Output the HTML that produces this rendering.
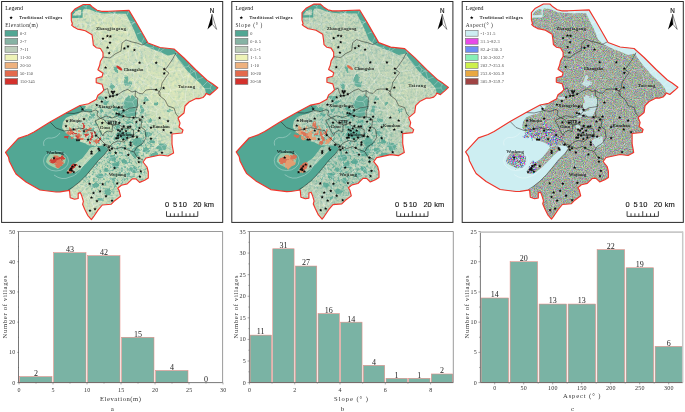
<!DOCTYPE html>
<html lang="en">
<head>
<meta charset="utf-8">
<title>Traditional villages: elevation, slope and aspect</title>
<style>
html,body{margin:0;padding:0;background:#fff;}
body{width:685px;height:412px;overflow:hidden;font-family:"Liberation Serif",serif;}
svg{display:block;}
</style>
</head>
<body>
<svg width="685" height="412" viewBox="0 0 685 412">
<rect width="685" height="412" fill="#fff"/>
<g id="map0">
<rect x="1.6" y="1.5" width="221.1" height="220.9" fill="#fff" stroke="#2a2a2a" stroke-width="1"/>
<filter id="tex0" x="0" y="0" width="100%" height="100%" color-interpolation-filters="sRGB">
<feTurbulence type="fractalNoise" baseFrequency="0.32" numOctaves="3" seed="3" result="n"/>
<feColorMatrix in="n" type="matrix" values="0 0 0 0 0  0 0 0 0 0  0 0 0 0 0  2.0 0 0 0 -0.86" result="a1"/>
<feFlood flood-color="#e6eeb8" result="c1"/>
<feComposite in="c1" in2="a1" operator="in" result="l1"/>
<feColorMatrix in="n" type="matrix" values="0 0 0 0 0  0 0 0 0 0  0 0 0 0 0  0 2.0 0 0 -1.0" result="a2"/>
<feFlood flood-color="#8fbfae" result="c2"/>
<feComposite in="c2" in2="a2" operator="in" result="l2"/>
<feMerge result="m"><feMergeNode in="SourceGraphic"/><feMergeNode in="l1"/><feMergeNode in="l2"/></feMerge>
<feComposite in="m" in2="SourceGraphic" operator="in"/>
</filter>
<g transform="translate(0.0,0.0)">
<clipPath id="clip0"><polygon points="83.3,4.5 89.8,4.5 92.8,7.3 97.1,10.2 101.5,11.3 108.0,11.3 129.0,10.4 136.0,22.0 148.0,43.0 160.0,47.5 174.0,49.0 184.0,58.0 196.0,70.0 207.3,80.5 212.1,83.5 217.8,87.8 214.6,90.8 209.7,95.0 206.0,93.4 205.3,95.2 203.0,97.5 199.0,98.6 196.0,98.4 189.0,102.0 185.0,106.0 184.0,113.0 178.0,118.0 180.0,123.0 179.0,127.0 183.0,130.0 182.0,133.0 172.0,134.0 172.0,144.0 173.6,153.0 168.0,156.0 160.0,155.0 146.0,158.0 143.0,162.0 147.0,167.0 148.3,172.0 148.3,178.0 144.7,180.2 139.6,182.4 135.9,178.8 132.3,178.8 127.2,183.9 121.3,185.3 117.7,188.2 119.1,190.4 120.6,196.3 114.7,200.7 111.1,204.3 102.3,205.0 98.0,210.1 93.6,216.7 91.4,219.6 87.7,215.3 84.8,209.4 82.6,204.3 83.4,201.4 81.9,196.3 80.4,192.6 78.2,193.4 78.2,198.5 74.6,199.2 70.2,197.7 69.5,190.4 60.0,191.9 56.0,192.0 40.0,190.0 26.0,182.0 16.0,174.0 13.6,169.8 11.5,165.6 9.3,161.3 8.5,157.1 5.5,152.4 18.3,138.4 28.0,135.0 34.0,132.0 50.0,122.0 66.0,113.0 80.0,105.5 88.5,103.8 96.2,99.6 97.9,95.3 101.3,92.8 103.8,90.2 102.1,84.3 96.2,82.6 96.2,78.3 102.1,76.6 103.0,73.2 100.4,71.5 97.9,69.8 99.6,65.5 100.4,61.3 103.0,57.0 103.0,52.8 100.4,48.5 96.2,47.7 93.3,45.0 92.8,40.0 92.0,34.7 85.3,30.7 80.5,29.6 77.5,29.1 73.8,27.0 71.6,25.1 72.4,24.0 71.3,20.4 71.3,13.1 75.3,8.7"/></clipPath>
<polygon points="83.3,4.5 89.8,4.5 92.8,7.3 97.1,10.2 101.5,11.3 108.0,11.3 129.0,10.4 136.0,22.0 148.0,43.0 160.0,47.5 174.0,49.0 184.0,58.0 196.0,70.0 207.3,80.5 212.1,83.5 217.8,87.8 214.6,90.8 209.7,95.0 206.0,93.4 205.3,95.2 203.0,97.5 199.0,98.6 196.0,98.4 189.0,102.0 185.0,106.0 184.0,113.0 178.0,118.0 180.0,123.0 179.0,127.0 183.0,130.0 182.0,133.0 172.0,134.0 172.0,144.0 173.6,153.0 168.0,156.0 160.0,155.0 146.0,158.0 143.0,162.0 147.0,167.0 148.3,172.0 148.3,178.0 144.7,180.2 139.6,182.4 135.9,178.8 132.3,178.8 127.2,183.9 121.3,185.3 117.7,188.2 119.1,190.4 120.6,196.3 114.7,200.7 111.1,204.3 102.3,205.0 98.0,210.1 93.6,216.7 91.4,219.6 87.7,215.3 84.8,209.4 82.6,204.3 83.4,201.4 81.9,196.3 80.4,192.6 78.2,193.4 78.2,198.5 74.6,199.2 70.2,197.7 69.5,190.4 60.0,191.9 56.0,192.0 40.0,190.0 26.0,182.0 16.0,174.0 13.6,169.8 11.5,165.6 9.3,161.3 8.5,157.1 5.5,152.4 18.3,138.4 28.0,135.0 34.0,132.0 50.0,122.0 66.0,113.0 80.0,105.5 88.5,103.8 96.2,99.6 97.9,95.3 101.3,92.8 103.8,90.2 102.1,84.3 96.2,82.6 96.2,78.3 102.1,76.6 103.0,73.2 100.4,71.5 97.9,69.8 99.6,65.5 100.4,61.3 103.0,57.0 103.0,52.8 100.4,48.5 96.2,47.7 93.3,45.0 92.8,40.0 92.0,34.7 85.3,30.7 80.5,29.6 77.5,29.1 73.8,27.0 71.6,25.1 72.4,24.0 71.3,20.4 71.3,13.1 75.3,8.7" fill="#cbdcbf" filter="url(#tex0)"/>
<g clip-path="url(#clip0)">
<radialGradient id="rg0" gradientUnits="userSpaceOnUse" cx="116" cy="128" r="46"><stop offset="0" stop-color="#8fbfae" stop-opacity="0.3"/><stop offset="0.55" stop-color="#8fbfae" stop-opacity="0.18"/><stop offset="1" stop-color="#8fbfae" stop-opacity="0"/></radialGradient>
<rect x="0" y="0" width="225" height="222" fill="url(#rg0)"/>
<radialGradient id="rh0" gradientUnits="userSpaceOnUse" cx="112" cy="180" r="40"><stop offset="0" stop-color="#8fbfae" stop-opacity="0.2"/><stop offset="1" stop-color="#8fbfae" stop-opacity="0"/></radialGradient>
<rect x="0" y="0" width="225" height="222" fill="url(#rh0)"/>
<radialGradient id="ry0" gradientUnits="userSpaceOnUse" cx="172" cy="92" r="45"><stop offset="0" stop-color="#eef3b7" stop-opacity="0.3"/><stop offset="1" stop-color="#eef3b7" stop-opacity="0"/></radialGradient>
<rect x="0" y="0" width="225" height="222" fill="url(#ry0)"/>
<radialGradient id="rz0" gradientUnits="userSpaceOnUse" cx="112" cy="35" r="30"><stop offset="0" stop-color="#eef3b7" stop-opacity="0.24"/><stop offset="1" stop-color="#eef3b7" stop-opacity="0"/></radialGradient>
<rect x="0" y="0" width="225" height="222" fill="url(#rz0)"/>
<filter id="speck0" x="0" y="0" width="100%" height="100%" color-interpolation-filters="sRGB"><feTurbulence type="fractalNoise" baseFrequency="0.42" numOctaves="2" seed="21" result="n"/><feColorMatrix in="n" type="matrix" values="0 0 0 0 0  0 0 0 0 0  0 0 0 0 0  5 0 0 0 -2.45" result="a"/><feFlood flood-color="#52a794" result="c"/><feComposite in="c" in2="a" operator="in" result="l"/><feComposite in="l" in2="SourceGraphic" operator="in"/></filter>
<radialGradient id="rs0" gradientUnits="userSpaceOnUse" cx="114" cy="150" r="58"><stop offset="0" stop-color="#000" stop-opacity="0.85"/><stop offset="0.65" stop-color="#000" stop-opacity="0.65"/><stop offset="1" stop-color="#000" stop-opacity="0"/></radialGradient>
<rect x="50" y="85" width="130" height="137" fill="url(#rs0)" filter="url(#speck0)"/>
<polygon points="71.3,13.1 75.3,8.7 83.3,4.5 89.8,4.5 92.8,7.3 97.1,10.2 101.5,11.3 108.0,11.3 129.0,10.4 136.0,22.0 148.0,43.0 160.0,47.5 174.0,49.0 184.0,58.0 196.0,70.0 207.3,80.5 212.1,83.5 217.8,87.8 214.6,90.8 209.7,95.0 206.0,93.4 205.0,89.0 200.0,83.0 192.0,76.0 184.0,67.0 178.0,59.0 175.0,54.0 168.0,55.5 160.0,52.0 152.0,49.0 143.0,44.5 138.0,40.0 134.0,30.0 130.0,22.0 126.0,13.8 110.0,13.6 104.4,13.5 97.1,12.4 93.5,10.9 89.8,9.5 84.0,8.7 82.6,11.0 82.6,17.8 76.0,18.0 71.3,18.2" fill="#52a794"/>
<polygon points="80.0,105.5 66.0,113.0 50.0,122.0 34.0,132.0 28.0,135.0 18.3,138.4 5.5,152.4 8.5,157.1 9.3,161.3 11.5,165.6 13.6,169.8 16.0,174.0 26.0,182.0 40.0,190.0 56.0,192.0 60.0,191.9 69.5,190.4 73.1,187.0 79.7,181.8 86.3,175.2 92.9,167.3 98.1,160.8 104.7,154.2 108.0,149.0 104.0,146.0 97.0,146.0 90.0,146.0 84.0,143.0 78.0,141.0 72.0,137.0 66.0,133.0 62.0,128.0 63.0,122.0 66.0,118.0 70.0,116.0 78.0,114.0 84.0,110.0 86.0,106.0" fill="#52a794"/>
<filter id="rough0" x="-5%" y="-5%" width="110%" height="110%"><feTurbulence type="fractalNoise" baseFrequency="0.18" numOctaves="2" seed="11" result="t"/><feDisplacementMap in="SourceGraphic" in2="t" scale="5" xChannelSelector="R" yChannelSelector="G"/></filter>
<g filter="url(#rough0)" opacity="0.8">
<ellipse cx="127.0" cy="103" rx="3.5" ry="7" transform="rotate(10 127.0 103)" fill="#52a794"/>
<ellipse cx="132.5" cy="106" rx="3.5" ry="10" transform="rotate(0 132.5 106)" fill="#52a794"/>
<ellipse cx="136.0" cy="104" rx="1.5" ry="6" transform="rotate(0 136.0 104)" fill="#52a794"/>
<ellipse cx="129.0" cy="114" rx="5" ry="3" transform="rotate(0 129.0 114)" fill="#52a794"/>
<ellipse cx="120.5" cy="114" rx="4.5" ry="3.5" transform="rotate(-30 120.5 114)" fill="#52a794"/>
<ellipse cx="117.0" cy="109" rx="2.5" ry="2" transform="rotate(0 117.0 109)" fill="#52a794"/>
<ellipse cx="101.5" cy="98" rx="3.8" ry="1.8" transform="rotate(0 101.5 98)" fill="#52a794"/>
<ellipse cx="106.0" cy="103" rx="2.5" ry="2" transform="rotate(0 106.0 103)" fill="#52a794"/>
<ellipse cx="128.0" cy="84.5" rx="4" ry="2.2" transform="rotate(0 128.0 84.5)" fill="#52a794"/>
<ellipse cx="142.0" cy="110" rx="2" ry="4" transform="rotate(0 142.0 110)" fill="#52a794"/>
<ellipse cx="102.0" cy="111.5" rx="2" ry="1.5" transform="rotate(0 102.0 111.5)" fill="#52a794"/>
<ellipse cx="125.5" cy="80.5" rx="2.5" ry="5" transform="rotate(10 125.5 80.5)" fill="#52a794"/>
<ellipse cx="116.0" cy="69.5" rx="1.6" ry="3" transform="rotate(-30 116.0 69.5)" fill="#52a794"/>
<ellipse cx="118.0" cy="127.5" rx="2.2" ry="2.2" transform="rotate(0 118.0 127.5)" fill="#52a794"/>
<ellipse cx="123.0" cy="135" rx="8" ry="4" transform="rotate(0 123.0 135)" fill="#52a794"/>
<ellipse cx="130.0" cy="122.5" rx="3" ry="1.5" transform="rotate(0 130.0 122.5)" fill="#52a794"/>
<ellipse cx="138.0" cy="142.5" rx="5.5" ry="4.8" transform="rotate(0 138.0 142.5)" fill="#52a794"/>
<ellipse cx="135.0" cy="152" rx="4" ry="5" transform="rotate(0 135.0 152)" fill="#52a794"/>
<ellipse cx="146.0" cy="150" rx="3" ry="2.5" transform="rotate(0 146.0 150)" fill="#52a794"/>
<ellipse cx="162.0" cy="147" rx="5" ry="3.5" transform="rotate(0 162.0 147)" fill="#52a794"/>
<ellipse cx="155.0" cy="155" rx="4" ry="2.5" transform="rotate(0 155.0 155)" fill="#52a794"/>
<ellipse cx="152.0" cy="142" rx="3" ry="2" transform="rotate(0 152.0 142)" fill="#52a794"/>
<ellipse cx="104.0" cy="149" rx="3.5" ry="2" transform="rotate(0 104.0 149)" fill="#52a794"/>
<ellipse cx="112.0" cy="158" rx="3.5" ry="3" transform="rotate(0 112.0 158)" fill="#52a794"/>
<ellipse cx="116.0" cy="165" rx="4" ry="2.5" transform="rotate(-30 116.0 165)" fill="#52a794"/>
<ellipse cx="124.0" cy="162" rx="3" ry="2.5" transform="rotate(0 124.0 162)" fill="#52a794"/>
<ellipse cx="133.0" cy="170" rx="3.5" ry="2.5" transform="rotate(0 133.0 170)" fill="#52a794"/>
<ellipse cx="127.0" cy="175" rx="3" ry="2" transform="rotate(0 127.0 175)" fill="#52a794"/>
<ellipse cx="100.0" cy="176" rx="3.5" ry="2.5" transform="rotate(0 100.0 176)" fill="#52a794"/>
<ellipse cx="108.0" cy="192" rx="3.5" ry="2.5" transform="rotate(0 108.0 192)" fill="#52a794"/>
<ellipse cx="152.0" cy="166" rx="3" ry="2" transform="rotate(0 152.0 166)" fill="#52a794"/>
<ellipse cx="95.0" cy="186" rx="3" ry="2" transform="rotate(0 95.0 186)" fill="#52a794"/>
<ellipse cx="114.0" cy="181" rx="2.5" ry="2" transform="rotate(0 114.0 181)" fill="#52a794"/>
<ellipse cx="101.0" cy="199" rx="2.5" ry="2" transform="rotate(0 101.0 199)" fill="#52a794"/>
<ellipse cx="156.0" cy="104" rx="2.5" ry="1.5" transform="rotate(0 156.0 104)" fill="#52a794"/>
<ellipse cx="170.0" cy="110" rx="2" ry="1.5" transform="rotate(0 170.0 110)" fill="#52a794"/>
<ellipse cx="148.0" cy="134" rx="3" ry="2" transform="rotate(0 148.0 134)" fill="#52a794"/>
<ellipse cx="150.0" cy="121" rx="2.5" ry="2" transform="rotate(0 150.0 121)" fill="#52a794"/>
<ellipse cx="112.0" cy="86" rx="2" ry="3" transform="rotate(0 112.0 86)" fill="#52a794"/>
<ellipse cx="88.0" cy="110" rx="4" ry="2.5" transform="rotate(0 88.0 110)" fill="#52a794"/>
<ellipse cx="92.0" cy="116" rx="3" ry="2" transform="rotate(0 92.0 116)" fill="#52a794"/>
<ellipse cx="146.0" cy="100" rx="2.5" ry="2" transform="rotate(0 146.0 100)" fill="#52a794"/>
<ellipse cx="107.0" cy="170" rx="3" ry="2" transform="rotate(0 107.0 170)" fill="#52a794"/>
</g>
<polygon points="72.6,14.8 75.5,11.6 79.5,9.6 81.4,10.0 81.4,15.6 72.6,15.8" fill="#cbdcbf" filter="url(#tex0)"/>
<polygon points="100.5,118.8 96.0,121.0 98.5,126.0 100.5,131.0 103.0,135.0 104.5,132.5 108.0,130.5 111.5,131.5 112.0,126.0 110.5,123.5 107.0,124.0 104.0,120.0" fill="#eef3b7" opacity="0.4"/>
<path d="M215.0,90.4L212.8,91.6M212.8,91.6L213.0,92.2M106.7,152.0L110.3,157.6M110.3,157.6L104.7,159.5L99.1,160.5M93.8,101.1L93.8,100.9M93.8,101.1L96.1,102.9L97.1,104.5M97.1,104.5L103.7,94.5L111.3,84.0M111.3,84.0L103.1,87.8M138.2,108.1L138.4,106.6L139.6,105.8M138.2,108.1L143.6,108.6L147.7,109.0M147.7,109.0L146.2,105.8L143.9,103.8M139.6,105.8L141.7,104.6L143.9,103.8M70.3,197.7L73.7,195.1M77.0,198.7L76.1,196.3M73.7,195.1L75.4,195.5L76.1,196.3M93.8,206.3L93.2,206.8L93.5,206.5M93.8,206.3L96.8,204.7L100.0,203.2M93.5,206.5L91.6,210.1L88.8,212.1M100.0,203.2L101.9,205.5M88.8,212.1L87.3,214.4M100.0,203.2L102.0,200.2L102.9,196.0M102.9,196.0L110.9,196.3L118.5,197.3M118.7,197.7L118.5,197.3M93.1,205.3L93.8,206.4L93.5,206.5M93.1,205.3L92.1,200.0L92.5,194.8M93.8,206.3L94.4,200.3L94.7,194.2M92.5,194.8L92.8,194.9L94.7,194.2M86.3,106.6L87.4,105.8L92.4,101.7M82.5,111.6L83.9,112.7M93.8,101.1L93.4,101.1M97.1,104.5L97.8,105.1L97.7,105.2M99.4,112.7L98.6,108.8L97.7,105.2M99.4,112.7L96.6,115.1L93.1,117.4M83.9,112.7L88.6,114.4L93.1,117.4M73.7,195.1L71.9,191.4L71.0,189.6M84.1,178.1L89.1,174.6M87.7,174.3L88.2,174.2M88.2,174.2L88.5,174.3L89.1,174.6M148.3,176.8L146.9,176.6L143.9,174.8M145.8,156.4L144.2,159.6L144.0,160.7M145.8,156.4L147.6,157.7M143.9,174.8L143.1,172.5L142.9,169.4M143.6,162.8L143.1,166.0L142.9,169.4M106.2,147.0L109.4,147.0L114.7,145.8M114.7,145.8L116.1,150.4L118.3,154.1M110.3,157.6L110.2,157.7L110.7,157.9M118.3,154.1L115.1,156.3L110.7,157.9M138.3,112.4L137.4,117.6L135.5,122.4M138.3,112.4L140.4,113.5L142.2,113.1M135.5,122.4L142.4,123.5L150.2,123.5M142.2,113.1L146.4,118.9L150.2,123.5M120.4,124.3L116.7,131.4L111.4,139.2M120.4,124.3L121.1,123.8L120.4,124.3M120.4,124.3L121.4,129.3L122.7,132.9M122.7,132.9L120.2,137.1L118.8,142.0M111.4,139.2L114.5,141.0L116.3,143.1M118.8,142.0L117.6,142.2L116.3,143.1M100.5,142.4L102.7,136.2L104.8,130.0M100.5,142.4L106.7,140.7L111.4,139.2M104.8,130.0L109.2,125.0L112.1,120.3M116.8,120.5L113.8,120.6L112.1,120.3M116.8,120.5L118.7,122.9L120.4,124.3M114.7,145.8L115.6,145.0L116.3,143.1M118.3,154.1L123.6,154.6L128.7,153.9M128.7,153.9L123.7,148.0L118.8,142.0M101.7,145.5L101.3,145.2L100.4,143.8M100.5,142.4L100.4,142.0L100.4,142.6M100.4,143.8L100.7,143.8L100.4,142.6M172.0,137.8L170.0,139.9L164.0,144.8M164.0,144.8L170.4,148.1L172.9,149.3M169.9,110.9L169.8,117.0L169.5,123.3M169.9,110.9L165.9,108.8L163.3,105.3M169.5,123.3L163.2,120.4L156.5,116.4M156.7,111.4L156.6,113.3L156.5,116.4M156.7,111.4L156.8,110.8L157.6,109.7M163.3,105.3L161.1,107.7L157.6,109.7M147.7,109.0L149.0,110.1L149.0,110.0M143.9,103.8L145.4,99.9L147.5,97.2M149.0,110.0L153.1,111.1L156.7,111.4M157.6,109.7L152.6,103.9L147.5,97.2M212.8,91.6L210.8,89.5L210.5,88.4M203.4,97.1L202.9,95.0L200.1,88.9M200.1,88.9L205.0,88.6L210.5,88.4M212.7,83.9L211.5,85.3M207.0,80.2L207.7,81.7L211.5,85.3M210.5,88.4L210.3,87.1L211.5,85.3M116.0,11.0L115.6,11.8L114.8,13.6M114.8,13.6L123.8,18.8L133.7,22.5M133.7,22.5L135.6,21.3M137.8,63.6L142.8,64.7L147.1,65.8M137.8,63.6L135.9,55.5L134.0,46.3M134.0,46.3L136.3,46.2L137.5,46.7M137.5,46.7L142.5,56.1L147.6,65.0M147.6,65.0L147.4,65.8L147.1,65.8M133.0,64.1L131.5,68.4L131.5,71.9M133.0,64.1L135.0,63.2L137.8,63.6M146.9,67.2L146.8,66.7L147.1,65.8M146.9,67.2L142.3,69.2L137.6,72.8M131.5,71.9L132.3,71.9L133.5,73.0M137.6,72.8L135.8,72.5L133.5,73.0M131.5,45.7L129.6,48.9L128.6,51.7M131.5,45.7L132.6,46.4L134.0,46.3M133.0,64.1L130.6,62.2L128.5,60.5M128.5,60.5L128.3,56.1L128.6,51.7M137.6,72.8L138.8,74.4L138.4,76.4M133.5,73.0L133.2,77.2L134.3,82.5M134.3,82.5L136.2,80.0L138.4,76.4M149.0,73.7L147.8,71.0L146.9,67.2M149.0,73.7L146.3,77.8L144.3,81.2M144.3,81.2L140.8,79.3L138.4,76.4M127.3,32.1L121.0,30.4L114.4,28.6M127.3,32.1L130.0,27.8L133.7,22.5M114.5,13.7L114.8,14.0L114.8,13.6M114.5,13.7L114.9,14.3L113.8,14.4M113.8,14.4L114.2,14.1L113.7,14.7M114.4,28.6L113.6,21.0L113.7,14.7M131.5,71.9L128.4,72.1L125.1,73.5M128.5,60.5L124.7,63.3L121.7,65.8M121.7,65.8L123.8,70.4L125.1,73.5M133.9,85.0L134.7,84.2L134.3,82.5M133.9,85.0L127.7,84.2L121.0,82.9M125.1,73.5L123.2,77.4L121.0,82.9M97.7,105.2L104.2,101.8L109.9,98.9M111.3,84.0L112.3,84.4L112.3,83.3M109.9,98.9L112.7,92.8L116.0,85.3M112.3,83.3L114.6,84.0L116.0,85.3M120.2,91.7L117.1,97.9L114.6,103.0M120.2,91.7L117.7,89.0L116.4,85.4M114.6,103.0L111.8,100.6L109.9,98.9M116.4,85.4L116.5,86.0L116.0,85.3M128.6,51.7L121.3,55.1L112.9,57.8M121.7,65.8L117.8,64.6L114.5,63.6M112.9,57.8L113.9,60.3L114.5,63.6M131.5,45.7L129.8,43.1L127.9,40.7M127.9,40.7L123.5,41.4L118.3,43.6M118.3,43.6L114.3,49.1L111.2,56.0M112.9,57.8L111.5,57.2L111.2,56.0M112.3,83.3L109.1,79.2L106.7,75.3M121.0,82.9L119.5,83.9L116.4,85.4M114.5,63.6L110.3,69.7L106.7,75.3M96.2,78.4L99.3,77.8L106.4,75.2M106.4,75.2L106.7,75.8L106.7,75.3M119.0,195.8L119.0,196.2L118.5,197.3M119.0,195.8L120.4,195.4M80.7,193.3L82.0,191.7L84.6,190.2M81.7,195.8L82.3,196.2L84.7,199.4M84.6,190.2L87.2,193.2L88.6,195.0M84.7,199.4L86.8,197.2L87.8,196.6M87.8,196.6L87.7,195.9L88.3,196.0M88.3,196.0L88.3,196.2L88.6,195.0M76.1,196.3L78.2,195.4M84.6,186.8L85.4,187.8L84.6,190.2M84.6,186.8L80.2,185.0L77.5,184.2M83.4,201.3L84.7,199.4M88.8,212.1L88.8,205.1L87.8,196.6M93.1,205.3L91.1,201.4L88.3,196.0M92.5,194.8L90.1,195.1L88.6,195.0M101.3,194.2L101.6,184.6L102.1,176.4M101.3,194.2L98.9,193.5L95.6,193.8M95.6,193.8L93.4,187.5L89.9,182.0M102.1,176.4L99.3,176.4L97.4,174.9M97.4,174.9L95.0,176.2L93.3,176.3M89.9,182.0L92.0,179.8L93.3,176.3M102.9,196.0L101.4,195.0L101.3,194.2M94.7,194.2L95.0,194.3L95.6,193.8M84.6,186.8L87.9,184.6L89.9,182.0M105.7,175.9L109.2,172.1L111.7,167.0M105.7,175.9L103.9,176.0L102.1,176.4M95.5,164.8L95.9,169.3L97.4,174.9M111.7,167.0L111.9,162.5L110.7,157.9M89.1,174.6L90.9,174.9L93.3,176.3M105.7,175.9L111.0,179.0L114.8,182.1M119.0,195.8L118.9,190.5L118.7,189.7M118.2,187.8L117.7,185.8M117.7,185.8L115.8,183.8L114.8,182.1M117.7,185.8L118.3,185.9L118.4,185.5M118.4,185.5L123.6,184.3L129.0,182.1M143.9,174.8L141.6,176.1L138.2,177.1M138.2,177.1L137.8,180.4L137.7,180.5M111.7,167.0L118.4,166.5L123.6,167.4M127.6,162.8L126.9,163.5L126.2,164.6M127.6,162.8L129.4,158.0L130.0,154.2M130.0,154.2L129.0,153.5L128.7,153.9M123.6,167.4L124.3,165.6L126.2,164.6M114.8,182.1L118.6,176.0L124.0,170.8M123.6,167.4L123.2,168.8L124.0,170.8M118.4,185.5L122.5,180.8L126.9,174.9M124.0,170.8L125.9,173.4L126.9,174.9M130.0,181.1L129.2,178.6L128.6,175.9M126.9,174.9L127.1,176.0L128.6,175.9M104.8,130.0L100.8,129.0L95.4,128.8M100.4,142.6L96.0,138.7L92.6,136.3M92.6,136.3L93.5,133.3L95.4,128.8M112.1,120.3L106.3,116.0L99.4,112.7M93.1,117.4L91.8,118.4L90.9,120.3M95.4,128.8L92.6,124.6L90.9,120.3M76.9,123.5L82.1,123.1L88.8,121.7M76.9,123.5L80.0,118.7L83.9,112.7M90.9,120.3L89.4,121.4L88.8,121.7M161.1,146.1L162.1,145.7L164.0,144.8M161.1,146.1L163.8,151.6L166.1,155.8M145.8,156.4L144.5,153.8L144.2,152.7M144.2,152.7L151.7,148.5L158.1,145.5M158.1,145.5L159.5,145.5L161.1,146.1M147.4,96.5L150.8,94.9L154.3,92.1M147.4,96.5L142.5,93.6L138.9,91.6M143.5,83.3L140.2,85.2L138.3,88.3M143.5,83.3L147.6,85.2L152.2,86.5M152.2,86.5L152.5,90.1L154.3,92.1M138.3,88.3L138.4,89.4L138.7,91.3M138.7,91.3L138.6,90.8L138.9,91.6M168.8,93.7L168.3,93.7L168.8,93.6M168.8,93.7L165.4,99.5L163.3,105.3M168.8,93.6L161.5,93.2L154.3,92.1M147.5,97.2L148.1,97.5L147.4,96.5M137.0,98.0L138.3,94.6L138.9,91.6M137.0,98.0L138.4,101.7L139.6,105.8M133.9,85.0L135.4,86.9L138.3,88.3M144.3,81.2L143.8,81.5L143.5,83.3M149.0,73.7L152.1,76.0L156.5,78.0M156.5,78.0L155.0,82.9L152.2,86.5M170.5,90.3L170.3,92.2L168.8,93.6M170.5,90.3L169.1,84.4L166.7,78.6M156.5,78.0L162.1,79.1L166.7,78.6M124.3,97.5L131.5,93.8L138.7,91.3M124.3,97.5L122.5,95.2L120.2,91.7M124.3,97.5L124.6,99.3L124.5,100.5M137.0,98.0L134.9,99.2L132.4,101.9M132.4,101.9L127.8,101.8L124.5,100.5M134.3,106.6L128.4,108.8L120.9,109.9M134.3,106.6L136.3,107.4L137.8,108.6M137.9,111.4L128.5,113.1L120.0,113.3M137.9,111.4L138.3,109.7L137.8,108.6M120.0,113.3L121.0,111.8L120.7,110.2M120.7,110.2L120.9,109.9L120.9,109.9M132.4,101.9L133.8,104.2L134.3,106.6M124.5,100.5L122.9,105.4L120.9,109.9M138.2,108.1L138.1,107.6L137.8,108.6M138.3,112.4L138.0,111.3L137.9,111.4M135.5,122.4L134.7,123.4L132.5,124.3M132.5,124.3L126.2,124.6L120.4,124.3M116.8,120.5L119.1,117.1L120.0,113.3M142.2,113.1L145.2,111.5L149.0,110.0M114.6,103.0L117.2,105.9L120.7,110.2M151.3,62.6L148.9,63.4L147.6,65.0M151.3,62.6L156.6,63.5L161.7,65.5M166.7,78.6L167.3,75.0L168.8,72.5M168.8,72.5L167.4,71.3L167.5,68.7M161.7,65.5L163.9,67.5L167.5,68.7M127.9,40.7L128.1,37.0L127.3,32.1M137.5,46.7L139.0,45.4L140.2,45.8M140.2,45.8L144.6,37.1M95.8,9.3L95.8,9.3L96.8,11.8M100.7,11.1L99.9,11.4L98.8,12.6M96.8,11.8L97.2,13.0L98.8,12.6M85.8,12.3L86.2,9.3L86.1,7.0M85.8,12.3L87.7,13.3L89.9,15.1M87.6,4.5L87.3,4.8L86.1,7.0M89.9,15.1L93.7,13.9L96.8,11.8M113.8,14.4L108.3,11.9L106.3,11.3M113.7,14.7L108.5,16.5L102.4,19.8M102.4,19.8L100.0,16.5L98.8,12.6M114.5,13.7L112.3,11.1M114.4,28.6L111.3,29.7L109.1,30.4M102.0,21.7L102.5,21.5L102.4,19.8M102.0,21.7L103.9,25.1L106.2,28.8M109.1,30.4L106.9,30.0L106.2,28.8M89.9,15.1L90.6,20.3L89.8,25.0M102.0,21.7L95.4,23.0L90.2,25.5M89.8,25.0L90.6,25.8L90.2,25.5M106.4,75.2L104.5,72.8L102.6,69.9M98.6,68.0L99.4,68.7L102.6,69.9M76.9,123.5L77.4,122.8L76.7,123.6M78.0,114.5L77.8,116.9L76.1,121.9M76.7,123.6L75.8,122.7L76.1,121.9M76.1,121.9L73.3,118.8L70.2,116.5M88.2,174.2L88.0,173.9M67.2,133.2L66.9,132.5M66.3,132.6L66.9,132.5M136.5,175.1L133.7,175.1L131.2,174.6M136.5,175.1L136.8,172.8L136.2,171.3M136.2,171.3L135.6,171.3L135.4,169.6M131.4,172.7L130.6,173.9L131.2,174.6M131.4,172.7L132.4,170.8L133.7,168.7M135.4,169.6L133.9,169.8L133.7,168.7M138.2,177.1L137.9,176.2L136.5,175.1M128.6,175.9L130.0,175.2L131.2,174.6M142.9,169.4L140.3,169.8L136.2,171.3M143.3,162.3L138.9,166.3L135.4,169.6M126.2,164.6L129.4,169.2L131.4,172.7M127.6,162.8L130.8,166.5L133.7,168.7M142.7,143.1L140.8,138.5L139.0,133.6M142.7,143.1L143.1,146.7L142.3,151.7M142.3,151.7L139.1,151.3L134.5,151.9M137.6,132.6L133.7,135.7L129.2,139.9M137.6,132.6L137.8,133.4L139.0,133.6M134.5,151.9L131.5,146.1L129.2,139.9M130.0,154.2L132.7,153.8L134.5,151.9M144.2,152.7L142.8,151.6L142.3,151.7M132.5,124.3L134.3,128.7L137.6,132.6M122.7,132.9L126.6,136.6L129.2,139.9M148.7,134.5L148.1,131.6L148.4,128.1M148.7,134.5L153.4,136.2L157.2,138.3M159.1,132.2L157.4,134.9L157.2,138.3M159.1,132.2L155.7,128.1L151.3,123.2M148.4,128.1L149.3,125.8L150.3,123.6M151.3,123.2L151.0,123.4L150.3,123.6M142.7,143.1L145.7,138.5L148.7,134.5M139.0,133.6L144.2,130.1L148.4,128.1M158.1,145.5L157.4,141.9L157.2,138.3M174.9,133.7L174.0,132.3L172.6,129.2M172.6,129.2L166.2,130.2L159.1,132.2M172.6,129.2L171.9,127.0L172.5,126.4M172.5,126.4L171.6,124.7L169.5,123.3M156.5,116.4L153.9,120.2L151.3,123.2M150.2,123.5L150.6,123.7L150.3,123.6M88.6,130.0L89.7,132.4L90.8,135.8M88.6,130.0L83.2,130.7L79.3,132.3M90.8,135.8L88.2,136.6L84.0,138.1M79.3,132.3L81.9,134.8L84.0,138.1M92.6,136.3L91.9,135.5L90.8,135.8M88.8,121.7L89.0,125.2L88.6,130.0M74.2,128.3L75.2,125.9L76.7,123.6M74.2,128.3L76.9,130.1L79.3,132.3M85.5,143.2L83.7,139.1M97.7,145.5L100.4,143.8M83.7,139.1L83.6,138.4L84.0,138.1M83.7,139.1L80.9,141.4M66.9,132.5L71.1,130.8L74.2,128.3M169.9,110.9L174.5,111.4L179.5,112.4M172.5,126.4L172.9,125.8L173.8,124.9M173.8,124.9L176.0,119.7L179.5,115.1M179.5,112.4L180.2,113.6L179.5,115.1M200.1,88.9L198.0,87.9L194.9,87.5M203.6,77.1L200.8,78.1L197.1,79.4M194.9,87.5L195.2,83.4L197.1,79.4M194.4,99.2L193.4,95.0L193.0,88.4M194.9,87.5L194.6,88.0L193.0,88.4M197.3,71.2L195.1,72.2M197.1,79.4L196.0,75.4L195.1,72.2M170.5,90.3L178.4,88.7L185.2,87.8M168.8,93.7L171.9,98.1L175.8,101.0M185.5,100.6L180.2,100.2L175.8,101.0M185.5,100.6L185.5,93.8L186.8,88.1M185.2,87.8L186.5,88.3L186.7,88.1M186.8,88.1L187.0,88.0L186.7,88.1M184.5,67.0L186.9,66.9L188.3,66.2M184.5,67.0L183.2,68.6L180.3,70.6M180.3,70.6L181.0,73.7L183.0,77.7M183.0,77.7L185.7,76.2L188.7,74.8M188.3,66.2L190.3,68.4L191.1,69.4M191.1,69.4L189.9,72.7L188.7,74.8M168.8,72.5L174.4,71.0L180.3,70.6M185.2,87.8L184.2,83.4L183.0,77.7M186.7,88.1L187.4,81.6L188.7,74.8M189.8,63.8L188.3,66.2M195.1,72.2L192.5,70.2L191.1,69.4M193.0,88.4L190.1,88.7L186.8,88.1M140.2,45.8L146.9,47.5L152.9,47.8M153.8,45.2L152.9,47.8M151.3,62.6L154.2,57.0L155.5,51.4M155.5,51.4L154.1,49.5L152.9,47.8M74.0,10.7L76.5,12.2L79.2,14.1M74.0,10.7L74.7,9.4M79.2,14.1L82.1,12.4L85.8,12.3M86.1,7.0L83.6,5.7L82.1,5.1M74.0,10.7L73.5,10.7M106.2,28.8L103.3,29.5L99.6,31.5M90.7,31.4L91.2,28.7L90.2,25.5M90.7,31.4L92.4,32.4L93.0,32.1M93.0,32.1L96.1,31.1L99.6,31.5M79.2,23.3L78.4,23.7L76.2,25.3M79.2,23.3L80.3,23.1L81.0,23.6M81.0,23.6L81.9,29.9M76.2,25.3L76.8,28.7M72.3,25.7L76.2,25.3M79.2,14.1L78.8,19.2L79.2,23.3M89.8,25.0L85.1,23.8L81.0,23.6M90.7,31.4L89.3,33.1M96.7,47.8L98.3,44.9L101.3,41.5M108.0,54.8L104.9,54.9L103.0,54.8M108.0,54.8L109.1,48.5L109.5,41.0M109.5,41.0L108.2,39.3L107.4,39.0M107.4,39.0L104.8,39.4L101.7,41.3M101.3,41.5L100.9,41.1L101.7,41.3M93.0,32.1L96.5,36.6L101.3,41.5M102.6,69.9L102.0,62.7L102.4,58.0M111.2,56.0L109.2,55.0L108.0,54.8M118.3,43.6L113.7,41.6L109.5,41.0M109.1,30.4L107.7,35.5L107.4,39.0M99.6,31.5L100.1,37.1L101.7,41.3M173.8,124.9L179.6,124.7M179.5,115.1L180.7,115.7M188.2,102.8L186.0,101.7M184.5,109.8L180.5,110.4M186.0,101.7L183.4,106.0L180.2,108.9M180.2,108.9L180.9,109.7L180.5,110.4M185.5,100.6L185.6,100.8L186.0,101.7M175.8,101.0L178.1,104.7L180.2,108.9M179.5,112.4L179.4,111.9L180.5,110.4M165.2,48.1L164.2,48.6L160.3,51.4M162.6,54.7L166.2,57.0L170.6,60.3M162.6,54.7L161.9,52.4L160.3,51.4M175.5,50.5L175.0,49.9M175.5,50.5L175.9,51.6L176.1,52.7M176.1,52.7L176.4,54.4L175.2,55.8M170.6,60.3L172.6,58.5L175.2,55.8M155.5,51.4L158.1,51.1L160.3,51.4M161.7,65.5L161.9,60.6L162.6,54.7M167.5,68.7L168.9,64.6L170.6,60.3M175.6,50.4L175.5,50.5M178.7,53.2L176.1,52.7M184.5,67.0L180.6,61.6L175.2,55.8" fill="none" stroke="#ffffff" stroke-width="0.45" opacity="0.6"/>
<polygon points="47.0,158.0 50.0,154.0 56.0,153.0 62.0,155.0 66.0,158.0 65.0,163.0 61.0,166.0 58.0,169.0 53.0,167.0 49.0,165.0 46.0,162.0" fill="#e6eeb8" opacity="0.55"/>
<polygon points="100.7,149.0 96.8,152.9 91.5,158.1 86.3,163.4 81.0,168.7 74.5,173.3 66.6,171.3 71.8,164.7 77.0,162.0 82.3,158.1 86.3,152.9 90.2,147.6 97.0,146.0" fill="#cbdcbf" opacity="0.85" filter="url(#tex0)"/>
<ellipse cx="56" cy="161" rx="12.5" ry="10" fill="none" stroke="#ffffff" stroke-width="0.4" opacity="0.8"/>
<path d="M54,175 q8,6 16,2 q8,-2 12,-10 q4,-8 10,-12" fill="none" stroke="#ffffff" stroke-width="0.4" opacity="0.8"/>
<path d="M60,133 q-4,6 -12,5 q-6,2 -4,8" fill="none" stroke="#ffffff" stroke-width="0.4" opacity="0.8"/>
<g filter="url(#rough0)" opacity="0.9">
<ellipse cx="55.0" cy="160" rx="5.4" ry="3.12" transform="rotate(-20 55.0 160)" fill="#d4312c"/>
<ellipse cx="60.0" cy="163" rx="3.84" ry="3.12" transform="rotate(0 60.0 163)" fill="#e36a4d"/>
<ellipse cx="52.0" cy="161" rx="2.64" ry="1.68" transform="rotate(0 52.0 161)" fill="#d4312c"/>
<ellipse cx="58.0" cy="166" rx="2.64" ry="2.16" transform="rotate(0 58.0 166)" fill="#e36a4d"/>
<ellipse cx="62.0" cy="158" rx="2.4" ry="1.68" transform="rotate(0 62.0 158)" fill="#d4312c"/>
<ellipse cx="56.0" cy="157" rx="2.4" ry="1.44" transform="rotate(0 56.0 157)" fill="#e36a4d"/>
<ellipse cx="72.5" cy="168" rx="2.64" ry="4.32" transform="rotate(25 72.5 168)" fill="#d4312c"/>
<ellipse cx="70.0" cy="172" rx="1.92" ry="1.56" transform="rotate(0 70.0 172)" fill="#e36a4d"/>
<ellipse cx="75.0" cy="165" rx="1.68" ry="1.92" transform="rotate(0 75.0 165)" fill="#d4312c"/>
<ellipse cx="70.0" cy="131" rx="1.44" ry="3.36" transform="rotate(-20 70.0 131)" fill="#e36a4d"/>
<ellipse cx="74.0" cy="134" rx="3.12" ry="1.08" transform="rotate(20 74.0 134)" fill="#d4312c"/>
<ellipse cx="79.0" cy="136" rx="1.68" ry="2.64" transform="rotate(0 79.0 136)" fill="#e36a4d"/>
<ellipse cx="84.0" cy="126" rx="0.96" ry="3.36" transform="rotate(0 84.0 126)" fill="#d4312c"/>
<ellipse cx="88.0" cy="130" rx="1.2" ry="2.88" transform="rotate(30 88.0 130)" fill="#e36a4d"/>
<ellipse cx="92.0" cy="138" rx="1.08" ry="2.76" transform="rotate(10 92.0 138)" fill="#d4312c"/>
<ellipse cx="97.0" cy="142" rx="2.4" ry="1.2" transform="rotate(-30 97.0 142)" fill="#e36a4d"/>
<ellipse cx="66.0" cy="137" rx="2.16" ry="0.96" transform="rotate(0 66.0 137)" fill="#d4312c"/>
<ellipse cx="82.0" cy="139" rx="2.76" ry="0.96" transform="rotate(10 82.0 139)" fill="#e36a4d"/>
<ellipse cx="90.0" cy="143" rx="1.08" ry="2.16" transform="rotate(0 90.0 143)" fill="#d4312c"/>
<ellipse cx="76.0" cy="129" rx="0.96" ry="1.68" transform="rotate(0 76.0 129)" fill="#e36a4d"/>
<ellipse cx="86.0" cy="135" rx="2.16" ry="0.96" transform="rotate(-30 86.0 135)" fill="#d4312c"/>
<ellipse cx="72.0" cy="138" rx="1.68" ry="0.96" transform="rotate(30 72.0 138)" fill="#e36a4d"/>
<ellipse cx="95.0" cy="133" rx="0.96" ry="1.92" transform="rotate(0 95.0 133)" fill="#d4312c"/>
<ellipse cx="80.0" cy="131" rx="1.44" ry="0.84" transform="rotate(0 80.0 131)" fill="#e36a4d"/>
<ellipse cx="100.0" cy="139" rx="0.96" ry="1.92" transform="rotate(20 100.0 139)" fill="#d4312c"/>
<ellipse cx="68.0" cy="133" rx="1.68" ry="0.96" transform="rotate(0 68.0 133)" fill="#e36a4d"/>
<ellipse cx="77.0" cy="137.5" rx="1.92" ry="0.96" transform="rotate(20 77.0 137.5)" fill="#d4312c"/>
<ellipse cx="96.0" cy="140.5" rx="1.92" ry="1.08" transform="rotate(-20 96.0 140.5)" fill="#e36a4d"/>
<ellipse cx="91.0" cy="134" rx="0.96" ry="1.92" transform="rotate(0 91.0 134)" fill="#d4312c"/>
</g>
<ellipse cx="119.3" cy="68" rx="3.6" ry="1.25" transform="rotate(38 119.3 68)" fill="#d4312c"/>
<line x1="129" y1="10.4" x2="127" y2="15" stroke="#ffffff" stroke-width="0.4" opacity="0.8"/>
<line x1="148" y1="43" x2="143" y2="44" stroke="#ffffff" stroke-width="0.4" opacity="0.8"/>
<line x1="160" y1="47.5" x2="158" y2="51" stroke="#ffffff" stroke-width="0.4" opacity="0.8"/>
<line x1="196" y1="70" x2="190" y2="74" stroke="#ffffff" stroke-width="0.4" opacity="0.8"/>
<line x1="208" y1="81" x2="203" y2="86" stroke="#ffffff" stroke-width="0.4" opacity="0.8"/>
<line x1="136" y1="22" x2="131" y2="24" stroke="#ffffff" stroke-width="0.4" opacity="0.8"/>
<line x1="115" y1="11" x2="114" y2="14" stroke="#ffffff" stroke-width="0.4" opacity="0.8"/>
<line x1="142" y1="32" x2="137" y2="34" stroke="#ffffff" stroke-width="0.4" opacity="0.8"/>
</g>
<polyline points="103.0,57.0 110.0,58.0 115.0,54.0 121.0,51.0 122.0,43.0 126.0,40.0 132.0,42.0 137.0,43.0 142.0,45.0 147.0,42.5" fill="none" stroke="#111" stroke-width="0.5" opacity="0.95"/>
<polyline points="176.0,53.0 172.0,60.0 168.0,66.0 165.0,70.0 169.0,73.0 166.0,77.0 162.0,83.0 161.0,89.0 158.0,93.0 160.0,96.0" fill="none" stroke="#111" stroke-width="0.5" opacity="0.95"/>
<polyline points="104.0,90.0 107.5,88.5 108.8,93.3 111.0,96.4 115.4,95.5 118.9,93.8 123.3,91.0 127.7,89.4 132.0,92.0 135.5,91.0 139.0,93.3 142.5,93.8 146.0,90.0 150.0,89.4 156.0,89.6 160.0,92.0 160.0,96.0" fill="none" stroke="#111" stroke-width="0.5" opacity="0.95"/>
<polyline points="160.0,96.0 165.0,100.0 168.0,106.0 174.0,108.0 176.0,114.0 179.0,117.5" fill="none" stroke="#111" stroke-width="0.5" opacity="0.95"/>
<polyline points="135.5,91.0 135.1,96.4 137.7,98.0 137.3,107.0 135.5,112.0 135.5,117.4 139.0,118.0 142.0,120.0 141.0,127.0 145.0,130.0 146.0,138.0 142.0,144.0 137.0,147.0 134.0,152.0 137.0,157.0 143.0,160.0" fill="none" stroke="#111" stroke-width="0.5" opacity="0.95"/>
<polyline points="137.3,107.0 129.4,108.2 125.0,110.4 123.3,112.0 119.8,115.2 123.3,116.0 128.0,117.5 135.5,117.4" fill="none" stroke="#111" stroke-width="0.5" opacity="0.95"/>
<polyline points="80.0,105.5 84.0,111.0 90.0,112.0 95.3,110.0 97.9,111.3 97.0,115.6 100.5,118.3 106.0,116.0 112.0,118.0 119.8,115.2" fill="none" stroke="#111" stroke-width="0.5" opacity="0.95"/>
<polyline points="66.0,113.0 74.0,113.5 84.0,111.0" fill="none" stroke="#111" stroke-width="0.5" opacity="0.95"/>
<polyline points="50.0,122.0 56.0,128.0 64.0,131.0 72.0,130.0 80.0,128.0 88.0,130.0 94.0,131.0 97.0,136.0 101.0,140.0 105.0,144.0" fill="none" stroke="#111" stroke-width="0.5" opacity="0.95"/>
<polyline points="100.5,118.3 95.0,121.0 98.0,126.0 100.0,131.0 103.0,136.0 104.0,133.0 108.0,131.0 112.0,132.0 112.5,126.0 111.0,123.0 107.0,123.5 104.0,119.5 100.5,118.3" fill="none" stroke="#111" stroke-width="0.5" opacity="0.95"/>
<polyline points="108.0,121.0 108.5,124.5 116.0,124.5 116.0,121.0 108.0,121.0" fill="none" stroke="#111" stroke-width="0.5" opacity="0.95"/>
<polyline points="112.5,126.0 118.0,124.0 124.0,128.0 130.0,128.5 133.5,130.0 133.5,136.0 128.0,138.5 124.0,142.0 118.0,141.0 113.0,143.0 110.0,146.0" fill="none" stroke="#111" stroke-width="0.5" opacity="0.95"/>
<polyline points="105.0,144.0 108.6,149.0 104.7,154.2 98.1,160.8 92.9,167.3 86.3,175.2 79.7,181.8 73.1,187.0 67.9,190.3" fill="none" stroke="#111" stroke-width="0.5" opacity="0.95"/>
<polyline points="105.0,144.0 110.0,146.0 116.0,149.0 122.0,147.0 128.0,150.0 134.0,152.0" fill="none" stroke="#111" stroke-width="0.5" opacity="0.95"/>
<polygon points="83.3,4.5 89.8,4.5 92.8,7.3 97.1,10.2 101.5,11.3 108.0,11.3 129.0,10.4 136.0,22.0 148.0,43.0 160.0,47.5 174.0,49.0 184.0,58.0 196.0,70.0 207.3,80.5 212.1,83.5 217.8,87.8 214.6,90.8 209.7,95.0 206.0,93.4 205.3,95.2 203.0,97.5 199.0,98.6 196.0,98.4 189.0,102.0 185.0,106.0 184.0,113.0 178.0,118.0 180.0,123.0 179.0,127.0 183.0,130.0 182.0,133.0 172.0,134.0 172.0,144.0 173.6,153.0 168.0,156.0 160.0,155.0 146.0,158.0 143.0,162.0 147.0,167.0 148.3,172.0 148.3,178.0 144.7,180.2 139.6,182.4 135.9,178.8 132.3,178.8 127.2,183.9 121.3,185.3 117.7,188.2 119.1,190.4 120.6,196.3 114.7,200.7 111.1,204.3 102.3,205.0 98.0,210.1 93.6,216.7 91.4,219.6 87.7,215.3 84.8,209.4 82.6,204.3 83.4,201.4 81.9,196.3 80.4,192.6 78.2,193.4 78.2,198.5 74.6,199.2 70.2,197.7 69.5,190.4 60.0,191.9 56.0,192.0 40.0,190.0 26.0,182.0 16.0,174.0 13.6,169.8 11.5,165.6 9.3,161.3 8.5,157.1 5.5,152.4 18.3,138.4 28.0,135.0 34.0,132.0 50.0,122.0 66.0,113.0 80.0,105.5 88.5,103.8 96.2,99.6 97.9,95.3 101.3,92.8 103.8,90.2 102.1,84.3 96.2,82.6 96.2,78.3 102.1,76.6 103.0,73.2 100.4,71.5 97.9,69.8 99.6,65.5 100.4,61.3 103.0,57.0 103.0,52.8 100.4,48.5 96.2,47.7 93.3,45.0 92.8,40.0 92.0,34.7 85.3,30.7 80.5,29.6 77.5,29.1 73.8,27.0 71.6,25.1 72.4,24.0 71.3,20.4 71.3,13.1 75.3,8.7" fill="none" stroke="#f0352b" stroke-width="1.15" stroke-linejoin="round"/>
<path d="M111.90,89.90L112.35,90.98L113.52,91.07L112.63,91.84L112.90,92.98L111.90,92.36L110.90,92.98L111.17,91.84L110.28,91.07L111.45,90.98ZM114.10,89.90L114.55,90.98L115.72,91.07L114.83,91.84L115.10,92.98L114.10,92.36L113.10,92.98L113.37,91.84L112.48,91.07L113.65,90.98ZM112.90,91.60L113.35,92.68L114.52,92.77L113.63,93.54L113.90,94.68L112.90,94.06L111.90,94.68L112.17,93.54L111.28,92.77L112.45,92.68ZM117.10,92.90L117.55,93.98L118.72,94.07L117.83,94.84L118.10,95.98L117.10,95.36L116.10,95.98L116.37,94.84L115.48,94.07L116.65,93.98ZM110.00,94.70L110.45,95.78L111.62,95.87L110.73,96.64L111.00,97.78L110.00,97.17L109.00,97.78L109.27,96.64L108.38,95.87L109.55,95.78ZM106.00,96.00L106.45,97.08L107.62,97.17L106.73,97.94L107.00,99.08L106.00,98.47L105.00,99.08L105.27,97.94L104.38,97.17L105.55,97.08ZM101.80,99.90L102.25,100.98L103.42,101.07L102.53,101.84L102.80,102.98L101.80,102.36L100.80,102.98L101.07,101.84L100.18,101.07L101.35,100.98ZM96.80,103.40L97.25,104.48L98.42,104.57L97.53,105.34L97.80,106.48L96.80,105.86L95.80,106.48L96.07,105.34L95.18,104.57L96.35,104.48ZM118.50,105.90L118.95,106.98L120.12,107.07L119.23,107.84L119.50,108.98L118.50,108.36L117.50,108.98L117.77,107.84L116.88,107.07L118.05,106.98ZM123.40,108.70L123.85,109.78L125.02,109.87L124.13,110.64L124.40,111.78L123.40,111.17L122.40,111.78L122.67,110.64L121.78,109.87L122.95,109.78ZM116.70,111.80L117.15,112.88L118.32,112.97L117.43,113.74L117.70,114.88L116.70,114.27L115.70,114.88L115.97,113.74L115.08,112.97L116.25,112.88ZM123.30,114.60L123.75,115.68L124.92,115.77L124.03,116.54L124.30,117.68L123.30,117.06L122.30,117.68L122.57,116.54L121.68,115.77L122.85,115.68ZM133.50,116.10L133.95,117.18L135.12,117.27L134.23,118.04L134.50,119.18L133.50,118.56L132.50,119.18L132.77,118.04L131.88,117.27L133.05,117.18ZM142.40,115.30L142.85,116.38L144.02,116.47L143.13,117.24L143.40,118.38L142.40,117.77L141.40,118.38L141.67,117.24L140.78,116.47L141.95,116.38ZM144.30,101.30L144.75,102.38L145.92,102.47L145.03,103.24L145.30,104.38L144.30,103.77L143.30,104.38L143.57,103.24L142.68,102.47L143.85,102.38ZM139.90,118.30L140.35,119.38L141.52,119.47L140.63,120.24L140.90,121.38L139.90,120.77L138.90,121.38L139.17,120.24L138.28,119.47L139.45,119.38ZM136.40,120.30L136.85,121.38L138.02,121.47L137.13,122.24L137.40,123.38L136.40,122.77L135.40,123.38L135.67,122.24L134.78,121.47L135.95,121.38ZM119.30,121.20L119.75,122.28L120.92,122.37L120.03,123.14L120.30,124.28L119.30,123.67L118.30,124.28L118.57,123.14L117.68,122.37L118.85,122.28ZM102.30,121.20L102.75,122.28L103.92,122.37L103.03,123.14L103.30,124.28L102.30,123.67L101.30,124.28L101.57,123.14L100.68,122.37L101.85,122.28ZM123.70,124.70L124.15,125.78L125.32,125.87L124.43,126.64L124.70,127.78L123.70,127.17L122.70,127.78L122.97,126.64L122.08,125.87L123.25,125.78ZM130.30,125.10L130.75,126.18L131.92,126.27L131.03,127.04L131.30,128.18L130.30,127.56L129.30,128.18L129.57,127.04L128.68,126.27L129.85,126.18ZM122.00,127.30L122.45,128.38L123.62,128.47L122.73,129.24L123.00,130.38L122.00,129.76L121.00,130.38L121.27,129.24L120.38,128.47L121.55,128.38ZM139.50,126.40L139.95,127.48L141.12,127.57L140.23,128.34L140.50,129.48L139.50,128.86L138.50,129.48L138.77,128.34L137.88,127.57L139.05,127.48ZM138.60,129.10L139.05,130.18L140.22,130.27L139.33,131.04L139.60,132.18L138.60,131.56L137.60,132.18L137.87,131.04L136.98,130.27L138.15,130.18ZM96.00,133.90L96.45,134.98L97.62,135.07L96.73,135.84L97.00,136.98L96.00,136.36L95.00,136.98L95.27,135.84L94.38,135.07L95.55,134.98ZM118.00,133.90L118.45,134.98L119.62,135.07L118.73,135.84L119.00,136.98L118.00,136.36L117.00,136.98L117.27,135.84L116.38,135.07L117.55,134.98ZM116.30,136.50L116.75,137.58L117.92,137.67L117.03,138.44L117.30,139.58L116.30,138.96L115.30,139.58L115.57,138.44L114.68,137.67L115.85,137.58ZM123.30,137.80L123.75,138.88L124.92,138.97L124.03,139.74L124.30,140.88L123.30,140.26L122.30,140.88L122.57,139.74L121.68,138.97L122.85,138.88ZM127.20,136.10L127.65,137.18L128.82,137.27L127.93,138.04L128.20,139.18L127.20,138.56L126.20,139.18L126.47,138.04L125.58,137.27L126.75,137.18ZM132.70,134.80L133.15,135.88L134.32,135.97L133.43,136.74L133.70,137.88L132.70,137.26L131.70,137.88L131.97,136.74L131.08,135.97L132.25,135.88ZM130.70,141.10L131.15,142.18L132.32,142.27L131.43,143.04L131.70,144.18L130.70,143.56L129.70,144.18L129.97,143.04L129.08,142.27L130.25,142.18ZM104.40,143.50L104.85,144.58L106.02,144.67L105.13,145.44L105.40,146.58L104.40,145.96L103.40,146.58L103.67,145.44L102.78,144.67L103.95,144.58ZM98.60,147.00L99.05,148.08L100.22,148.17L99.33,148.94L99.60,150.08L98.60,149.46L97.60,150.08L97.87,148.94L96.98,148.17L98.15,148.08ZM111.90,147.00L112.35,148.08L113.52,148.17L112.63,148.94L112.90,150.08L111.90,149.46L110.90,150.08L111.17,148.94L110.28,148.17L111.45,148.08ZM125.00,146.60L125.45,147.68L126.62,147.77L125.73,148.54L126.00,149.68L125.00,149.06L124.00,149.68L124.27,148.54L123.38,147.77L124.55,147.68ZM130.70,143.50L131.15,144.58L132.32,144.67L131.43,145.44L131.70,146.58L130.70,145.96L129.70,146.58L129.97,145.44L129.08,144.67L130.25,144.58ZM91.50,149.90L91.95,150.98L93.12,151.07L92.23,151.84L92.50,152.98L91.50,152.36L90.50,152.98L90.77,151.84L89.88,151.07L91.05,150.98ZM91.50,151.80L91.95,152.88L93.12,152.97L92.23,153.74L92.50,154.88L91.50,154.26L90.50,154.88L90.77,153.74L89.88,152.97L91.05,152.88ZM99.40,148.60L99.85,149.68L101.02,149.77L100.13,150.54L100.40,151.68L99.40,151.06L98.40,151.68L98.67,150.54L97.78,149.77L98.95,149.68ZM109.70,148.60L110.15,149.68L111.32,149.77L110.43,150.54L110.70,151.68L109.70,151.06L108.70,151.68L108.97,150.54L108.08,149.77L109.25,149.68ZM115.80,151.20L116.25,152.28L117.42,152.37L116.53,153.14L116.80,154.28L115.80,153.66L114.80,154.28L115.07,153.14L114.18,152.37L115.35,152.28ZM128.30,153.20L128.75,154.28L129.92,154.37L129.03,155.14L129.30,156.28L128.30,155.66L127.30,156.28L127.57,155.14L126.68,154.37L127.85,154.28ZM138.80,156.40L139.25,157.48L140.42,157.57L139.53,158.34L139.80,159.48L138.80,158.86L137.80,159.48L138.07,158.34L137.18,157.57L138.35,157.48ZM138.80,160.40L139.25,161.48L140.42,161.57L139.53,162.34L139.80,163.48L138.80,162.86L137.80,163.48L138.07,162.34L137.18,161.57L138.35,161.48ZM114.50,166.30L114.95,167.38L116.12,167.47L115.23,168.24L115.50,169.38L114.50,168.76L113.50,169.38L113.77,168.24L112.88,167.47L114.05,167.38ZM140.80,169.60L141.25,170.68L142.42,170.77L141.53,171.54L141.80,172.68L140.80,172.06L139.80,172.68L140.07,171.54L139.18,170.77L140.35,170.68ZM139.90,174.80L140.35,175.88L141.52,175.97L140.63,176.74L140.90,177.88L139.90,177.26L138.90,177.88L139.17,176.74L138.28,175.97L139.45,175.88ZM89.60,182.10L90.05,183.18L91.22,183.27L90.33,184.04L90.60,185.18L89.60,184.56L88.60,185.18L88.87,184.04L87.98,183.27L89.15,183.18ZM102.70,182.50L103.15,183.58L104.32,183.67L103.43,184.44L103.70,185.58L102.70,184.96L101.70,185.58L101.97,184.44L101.08,183.67L102.25,183.58ZM117.20,181.70L117.65,182.78L118.82,182.87L117.93,183.64L118.20,184.78L117.20,184.16L116.20,184.78L116.47,183.64L115.58,182.87L116.75,182.78ZM100.10,189.60L100.55,190.68L101.72,190.77L100.83,191.54L101.10,192.68L100.10,192.06L99.10,192.68L99.37,191.54L98.48,190.77L99.65,190.68ZM93.50,191.30L93.95,192.38L95.12,192.47L94.23,193.24L94.50,194.38L93.50,193.76L92.50,194.38L92.77,193.24L91.88,192.47L93.05,192.38ZM91.50,195.90L91.95,196.98L93.12,197.07L92.23,197.84L92.50,198.98L91.50,198.36L90.50,198.98L90.77,197.84L89.88,197.07L91.05,196.98ZM106.00,194.50L106.45,195.58L107.62,195.67L106.73,196.44L107.00,197.58L106.00,196.96L105.00,197.58L105.27,196.44L104.38,195.67L105.55,195.58ZM79.70,165.00L80.15,166.08L81.32,166.17L80.43,166.94L80.70,168.08L79.70,167.46L78.70,168.08L78.97,166.94L78.08,166.17L79.25,166.08ZM72.50,165.00L72.95,166.08L74.12,166.17L73.23,166.94L73.50,168.08L72.50,167.46L71.50,168.08L71.77,166.94L70.88,166.17L72.05,166.08ZM71.20,167.00L71.65,168.08L72.82,168.17L71.93,168.94L72.20,170.08L71.20,169.46L70.20,170.08L70.47,168.94L69.58,168.17L70.75,168.08ZM69.90,168.30L70.35,169.38L71.52,169.47L70.63,170.24L70.90,171.38L69.90,170.76L68.90,171.38L69.17,170.24L68.28,169.47L69.45,169.38ZM67.90,170.90L68.35,171.98L69.52,172.07L68.63,172.84L68.90,173.98L67.90,173.36L66.90,173.98L67.17,172.84L66.28,172.07L67.45,171.98ZM73.80,170.30L74.25,171.38L75.42,171.47L74.53,172.24L74.80,173.38L73.80,172.76L72.80,173.38L73.07,172.24L72.18,171.47L73.35,171.38ZM71.80,168.90L72.25,169.98L73.42,170.07L72.53,170.84L72.80,171.98L71.80,171.36L70.80,171.98L71.07,170.84L70.18,170.07L71.35,169.98ZM103.00,36.90L103.45,37.98L104.62,38.07L103.73,38.84L104.00,39.98L103.00,39.37L102.00,39.98L102.27,38.84L101.38,38.07L102.55,37.98ZM107.40,34.30L107.85,35.38L109.02,35.47L108.13,36.24L108.40,37.38L107.40,36.77L106.40,37.38L106.67,36.24L105.78,35.47L106.95,35.38ZM110.40,34.70L110.85,35.78L112.02,35.87L111.13,36.64L111.40,37.78L110.40,37.16L109.40,37.78L109.67,36.64L108.78,35.87L109.95,35.78ZM110.00,40.90L110.45,41.98L111.62,42.07L110.73,42.84L111.00,43.98L110.00,43.37L109.00,43.98L109.27,42.84L108.38,42.07L109.55,41.98ZM107.60,45.90L108.05,46.98L109.22,47.07L108.33,47.84L108.60,48.98L107.60,48.37L106.60,48.98L106.87,47.84L105.98,47.07L107.15,46.98ZM109.20,51.30L109.65,52.38L110.82,52.47L109.93,53.24L110.20,54.38L109.20,53.77L108.20,54.38L108.47,53.24L107.58,52.47L108.75,52.38ZM124.40,46.70L124.85,47.78L126.02,47.87L125.13,48.64L125.40,49.78L124.40,49.16L123.40,49.78L123.67,48.64L122.78,47.87L123.95,47.78ZM128.00,44.70L128.45,45.78L129.62,45.87L128.73,46.64L129.00,47.78L128.00,47.16L127.00,47.78L127.27,46.64L126.38,45.87L127.55,45.78ZM134.40,48.30L134.85,49.38L136.02,49.47L135.13,50.24L135.40,51.38L134.40,50.77L133.40,51.38L133.67,50.24L132.78,49.47L133.95,49.38ZM105.60,65.90L106.05,66.98L107.22,67.07L106.33,67.84L106.60,68.98L105.60,68.36L104.60,68.98L104.87,67.84L103.98,67.07L105.15,66.98ZM139.60,61.10L140.05,62.18L141.22,62.27L140.33,63.04L140.60,64.18L139.60,63.56L138.60,64.18L138.87,63.04L137.98,62.27L139.15,62.18ZM156.20,61.10L156.65,62.18L157.82,62.27L156.93,63.04L157.20,64.18L156.20,63.56L155.20,64.18L155.47,63.04L154.58,62.27L155.75,62.18ZM164.20,67.30L164.65,68.38L165.82,68.47L164.93,69.24L165.20,70.38L164.20,69.77L163.20,70.38L163.47,69.24L162.58,68.47L163.75,68.38ZM164.20,71.70L164.65,72.78L165.82,72.87L164.93,73.64L165.20,74.78L164.20,74.17L163.20,74.78L163.47,73.64L162.58,72.87L163.75,72.78ZM156.20,87.90L156.65,88.98L157.82,89.07L156.93,89.84L157.20,90.98L156.20,90.36L155.20,90.98L155.47,89.84L154.58,89.07L155.75,88.98ZM163.60,86.30L164.05,87.38L165.22,87.47L164.33,88.24L164.60,89.38L163.60,88.77L162.60,89.38L162.87,88.24L161.98,87.47L163.15,87.38ZM119.00,112.30L119.45,113.38L120.62,113.47L119.73,114.24L120.00,115.38L119.00,114.77L118.00,115.38L118.27,114.24L117.38,113.47L118.55,113.38ZM159.60,116.30L160.05,117.38L161.22,117.47L160.33,118.24L160.60,119.38L159.60,118.77L158.60,119.38L158.87,118.24L157.98,117.47L159.15,117.38ZM168.00,119.30L168.45,120.38L169.62,120.47L168.73,121.24L169.00,122.38L168.00,121.77L167.00,122.38L167.27,121.24L166.38,120.47L167.55,120.38ZM82.40,107.70L82.85,108.78L84.02,108.87L83.13,109.64L83.40,110.78L82.40,110.17L81.40,110.78L81.67,109.64L80.78,108.87L81.95,108.78ZM84.00,117.30L84.45,118.38L85.62,118.47L84.73,119.24L85.00,120.38L84.00,119.77L83.00,120.38L83.27,119.24L82.38,118.47L83.55,118.38ZM67.00,119.30L67.45,120.38L68.62,120.47L67.73,121.24L68.00,122.38L67.00,121.77L66.00,122.38L66.27,121.24L65.38,120.47L66.55,120.38ZM66.00,124.30L66.45,125.38L67.62,125.47L66.73,126.24L67.00,127.38L66.00,126.77L65.00,127.38L65.27,126.24L64.38,125.47L65.55,125.38ZM73.60,127.70L74.05,128.78L75.22,128.87L74.33,129.64L74.60,130.78L73.60,130.16L72.60,130.78L72.87,129.64L71.98,128.87L73.15,128.78ZM79.00,138.30L79.45,139.38L80.62,139.47L79.73,140.24L80.00,141.38L79.00,140.76L78.00,141.38L78.27,140.24L77.38,139.47L78.55,139.38ZM88.00,137.90L88.45,138.98L89.62,139.07L88.73,139.84L89.00,140.98L88.00,140.36L87.00,140.98L87.27,139.84L86.38,139.07L87.55,138.98ZM109.00,121.30L109.45,122.38L110.62,122.47L109.73,123.24L110.00,124.38L109.00,123.77L108.00,124.38L108.27,123.24L107.38,122.47L108.55,122.38ZM128.00,125.30L128.45,126.38L129.62,126.47L128.73,127.24L129.00,128.38L128.00,127.77L127.00,128.38L127.27,127.24L126.38,126.47L127.55,126.38ZM118.00,136.30L118.45,137.38L119.62,137.47L118.73,138.24L119.00,139.38L118.00,138.76L117.00,139.38L117.27,138.24L116.38,137.47L117.55,137.38ZM137.00,135.30L137.45,136.38L138.62,136.47L137.73,137.24L138.00,138.38L137.00,137.76L136.00,138.38L136.27,137.24L135.38,136.47L136.55,136.38ZM54.00,156.30L54.45,157.38L55.62,157.47L54.73,158.24L55.00,159.38L54.00,158.76L53.00,159.38L53.27,158.24L52.38,157.47L53.55,157.38ZM75.00,163.30L75.45,164.38L76.62,164.47L75.73,165.24L76.00,166.38L75.00,165.76L74.00,166.38L74.27,165.24L73.38,164.47L74.55,164.38ZM77.00,138.30L77.45,139.38L78.62,139.47L77.73,140.24L78.00,141.38L77.00,140.76L76.00,141.38L76.27,140.24L75.38,139.47L76.55,139.38ZM97.00,199.30L97.45,200.38L98.62,200.47L97.73,201.24L98.00,202.38L97.00,201.76L96.00,202.38L96.27,201.24L95.38,200.47L96.55,200.38ZM112.00,198.90L112.45,199.98L113.62,200.07L112.73,200.84L113.00,201.98L112.00,201.36L111.00,201.98L111.27,200.84L110.38,200.07L111.55,199.98ZM90.00,208.90L90.45,209.98L91.62,210.07L90.73,210.84L91.00,211.98L90.00,211.36L89.00,211.98L89.27,210.84L88.38,210.07L89.55,209.98ZM95.00,207.30L95.45,208.38L96.62,208.47L95.73,209.24L96.00,210.38L95.00,209.76L94.00,210.38L94.27,209.24L93.38,208.47L94.55,208.38ZM109.00,145.30L109.45,146.38L110.62,146.47L109.73,147.24L110.00,148.38L109.00,147.76L108.00,148.38L108.27,147.24L107.38,146.47L108.55,146.38ZM151.00,136.90L151.45,137.98L152.62,138.07L151.73,138.84L152.00,139.98L151.00,139.36L150.00,139.98L150.27,138.84L149.38,138.07L150.55,137.98ZM162.00,150.90L162.45,151.98L163.62,152.07L162.73,152.84L163.00,153.98L162.00,153.36L161.00,153.98L161.27,152.84L160.38,152.07L161.55,151.98ZM151.00,125.90L151.45,126.98L152.62,127.07L151.73,127.84L152.00,128.98L151.00,128.36L150.00,128.98L150.27,127.84L149.38,127.07L150.55,126.98ZM163.60,128.30L164.05,129.38L165.22,129.47L164.33,130.24L164.60,131.38L163.60,130.76L162.60,131.38L162.87,130.24L161.98,129.47L163.15,129.38ZM171.00,130.90L171.45,131.98L172.62,132.07L171.73,132.84L172.00,133.98L171.00,133.36L170.00,133.98L170.27,132.84L169.38,132.07L170.55,131.98ZM123.00,131.30L123.45,132.38L124.62,132.47L123.73,133.24L124.00,134.38L123.00,133.76L122.00,134.38L122.27,133.24L121.38,132.47L122.55,132.38ZM84.00,129.30L84.45,130.38L85.62,130.47L84.73,131.24L85.00,132.38L84.00,131.76L83.00,132.38L83.27,131.24L82.38,130.47L83.55,130.38ZM113.00,94.30L113.45,95.38L114.62,95.47L113.73,96.24L114.00,97.38L113.00,96.77L112.00,97.38L112.27,96.24L111.38,95.47L112.55,95.38ZM121.00,134.30L121.45,135.38L122.62,135.47L121.73,136.24L122.00,137.38L121.00,136.76L120.00,137.38L120.27,136.24L119.38,135.47L120.55,135.38ZM126.00,129.30L126.45,130.38L127.62,130.47L126.73,131.24L127.00,132.38L126.00,131.76L125.00,132.38L125.27,131.24L124.38,130.47L125.55,130.38ZM120.00,129.30L120.45,130.38L121.62,130.47L120.73,131.24L121.00,132.38L120.00,131.76L119.00,132.38L119.27,131.24L118.38,130.47L119.55,130.38ZM118.00,128.30L118.45,129.38L119.62,129.47L118.73,130.24L119.00,131.38L118.00,130.76L117.00,131.38L117.27,130.24L116.38,129.47L117.55,129.38Z" fill="#0a0a0a"/>
<text x="111.0" y="30.2" font-family="'Liberation Serif','Noto Serif CJK SC',serif" font-size="4.6" text-anchor="middle" fill="#111" stroke="#111" stroke-width="0.08" textLength="29.4" lengthAdjust="spacing">Zhangjiagang</text>
<text x="133.5" y="70.6" font-family="'Liberation Serif','Noto Serif CJK SC',serif" font-size="4.6" text-anchor="middle" fill="#111" stroke="#111" stroke-width="0.08" textLength="19.6" lengthAdjust="spacing">Changshu</text>
<text x="186.5" y="87.6" font-family="'Liberation Serif','Noto Serif CJK SC',serif" font-size="4.6" text-anchor="middle" fill="#111" stroke="#111" stroke-width="0.08" textLength="17.2" lengthAdjust="spacing">Taicang</text>
<text x="161.0" y="127.6" font-family="'Liberation Serif','Noto Serif CJK SC',serif" font-size="4.6" text-anchor="middle" fill="#111" stroke="#111" stroke-width="0.08" textLength="17.2" lengthAdjust="spacing">Kunshan</text>
<text x="110.5" y="107.6" font-family="'Liberation Serif','Noto Serif CJK SC',serif" font-size="4.6" text-anchor="middle" fill="#111" stroke="#111" stroke-width="0.08" textLength="24.5" lengthAdjust="spacing">Xiangcheng</text>
<text x="75.5" y="122.2" font-family="'Liberation Serif','Noto Serif CJK SC',serif" font-size="4.6" text-anchor="middle" fill="#111" stroke="#111" stroke-width="0.08" textLength="12.2" lengthAdjust="spacing">Huqiu</text>
<text x="105.0" y="128.6" font-family="'Liberation Serif','Noto Serif CJK SC',serif" font-size="4.6" text-anchor="middle" fill="#111" stroke="#111" stroke-width="0.08" textLength="9.8" lengthAdjust="spacing">Gusu</text>
<text x="113.5" y="123.6" font-family="'Liberation Serif','Noto Serif CJK SC',serif" font-size="4.6" text-anchor="middle" fill="#111" stroke="#111" stroke-width="0.08" textLength="7.4" lengthAdjust="spacing">SIP</text>
<text x="126.0" y="136" font-family="'Liberation Serif','Noto Serif CJK SC',serif" font-size="4.6" text-anchor="middle" fill="#111" stroke="#111" stroke-width="0.08" textLength="17.2" lengthAdjust="spacing">Wuzhong</text>
<text x="55.0" y="153.6" font-family="'Liberation Serif','Noto Serif CJK SC',serif" font-size="4.6" text-anchor="middle" fill="#111" stroke="#111" stroke-width="0.08" textLength="17.2" lengthAdjust="spacing">Wuzhong</text>
<text x="117.5" y="176" font-family="'Liberation Serif','Noto Serif CJK SC',serif" font-size="4.6" text-anchor="middle" fill="#111" stroke="#111" stroke-width="0.08" textLength="17.2" lengthAdjust="spacing">Wujiang</text>
</g>
<text x="5.2" y="9.9" font-family="'Liberation Serif','Noto Serif CJK SC',serif" font-size="6.2" fill="#111" textLength="17.8" lengthAdjust="spacingAndGlyphs">Legend</text>
<path d="M11.10,15.90L11.58,17.04L12.81,17.14L11.87,17.95L12.16,19.16L11.10,18.51L10.04,19.16L10.33,17.95L9.39,17.14L10.62,17.04Z" fill="#0a0a0a"/>
<text x="19.2" y="18.9" font-family="'Liberation Serif','Noto Serif CJK SC',serif" font-size="4.4" fill="#222" stroke="#222" stroke-width="0.12" textLength="43" lengthAdjust="spacing">Traditional villages</text>
<text x="5.2" y="27.45" font-family="'Liberation Serif','Noto Serif CJK SC',serif" font-size="5.4" fill="#2a2a2a" textLength="32.6" lengthAdjust="spacing">Elevation(m)</text>
<rect x="5.0" y="30.40" width="12.7" height="5.8" fill="#52a794" stroke="#707070" stroke-width="0.6"/>
<text x="20.1" y="34.90" font-family="'Liberation Serif','Noto Serif CJK SC',serif" font-size="4.3" fill="#444" textLength="6.4" lengthAdjust="spacing">0-2</text>
<rect x="5.0" y="38.43" width="12.7" height="5.8" fill="#86b3a4" stroke="#707070" stroke-width="0.6"/>
<text x="20.1" y="42.93" font-family="'Liberation Serif','Noto Serif CJK SC',serif" font-size="4.3" fill="#444" textLength="6.4" lengthAdjust="spacing">2-7</text>
<rect x="5.0" y="46.46" width="12.7" height="5.8" fill="#bccdba" stroke="#707070" stroke-width="0.6"/>
<text x="20.1" y="50.96" font-family="'Liberation Serif','Noto Serif CJK SC',serif" font-size="4.3" fill="#444" textLength="8.5" lengthAdjust="spacing">7-11</text>
<rect x="5.0" y="54.49" width="12.7" height="5.8" fill="#eef3b7" stroke="#707070" stroke-width="0.6"/>
<text x="20.1" y="58.99" font-family="'Liberation Serif','Noto Serif CJK SC',serif" font-size="4.3" fill="#444" textLength="10.6" lengthAdjust="spacing">11-20</text>
<rect x="5.0" y="62.52" width="12.7" height="5.8" fill="#eeb17e" stroke="#707070" stroke-width="0.6"/>
<text x="20.1" y="67.02" font-family="'Liberation Serif','Noto Serif CJK SC',serif" font-size="4.3" fill="#444" textLength="10.6" lengthAdjust="spacing">20-50</text>
<rect x="5.0" y="70.55" width="12.7" height="5.8" fill="#e36a4d" stroke="#707070" stroke-width="0.6"/>
<text x="20.1" y="75.05" font-family="'Liberation Serif','Noto Serif CJK SC',serif" font-size="4.3" fill="#444" textLength="12.8" lengthAdjust="spacing">50-150</text>
<rect x="5.0" y="78.58" width="12.7" height="5.8" fill="#d4312c" stroke="#707070" stroke-width="0.6"/>
<text x="20.1" y="83.08" font-family="'Liberation Serif','Noto Serif CJK SC',serif" font-size="4.3" fill="#444" textLength="14.9" lengthAdjust="spacing">150-345</text>
<text x="212.0" y="13.2" font-family="'Liberation Sans','Noto Sans CJK SC',sans-serif" font-size="6.3" text-anchor="middle" fill="#111" stroke="#111" stroke-width="0.15">N</text>
<path d="M212.0,14.2 L207.4,29.4 L212.4,24.4 Z" fill="#000"/>
<path d="M212.0,14.2 L216.6,29.4 L212.4,24.4 Z" fill="#fff" stroke="#000" stroke-width="0.45" stroke-linejoin="round"/>
<text y="207.3" font-family="'Liberation Sans','Noto Sans CJK SC',sans-serif" font-size="7.5" fill="#111" stroke="#111" stroke-width="0.12"><tspan x="164.9">0</tspan><tspan x="173.0">5</tspan><tspan x="178.5">10</tspan><tspan x="193.2">20</tspan><tspan x="204.1">km</tspan></text>
<path d="M166.5,216.4 H197.8 M166.50,216.4 V211.2 M170.41,216.4 V213.3 M174.32,216.4 V213.3 M178.23,216.4 V213.3 M182.14,216.4 V211.2 M186.05,216.4 V213.3 M189.96,216.4 V213.3 M193.87,216.4 V213.3 M197.78,216.4 V211.2" fill="none" stroke="#111" stroke-width="0.8"/>
</g>
<g id="map1">
<rect x="231.8" y="1.5" width="221.1" height="220.9" fill="#fff" stroke="#2a2a2a" stroke-width="1"/>
<filter id="tex1" x="0" y="0" width="100%" height="100%" color-interpolation-filters="sRGB">
<feTurbulence type="fractalNoise" baseFrequency="0.4" numOctaves="3" seed="4" result="n"/>
<feColorMatrix in="n" type="matrix" values="0 0 0 0 0  0 0 0 0 0  0 0 0 0 0  2.0 0 0 0 -0.9" result="a1"/>
<feFlood flood-color="#dbe6bb" result="c1"/>
<feComposite in="c1" in2="a1" operator="in" result="l1"/>
<feColorMatrix in="n" type="matrix" values="0 0 0 0 0  0 0 0 0 0  0 0 0 0 0  0 2.0 0 0 -0.9" result="a2"/>
<feFlood flood-color="#86b6a6" result="c2"/>
<feComposite in="c2" in2="a2" operator="in" result="l2"/>
<feMerge result="m"><feMergeNode in="SourceGraphic"/><feMergeNode in="l1"/><feMergeNode in="l2"/></feMerge>
<feComposite in="m" in2="SourceGraphic" operator="in"/>
</filter>
<g transform="translate(230.7,-0.4)">
<clipPath id="clip1"><polygon points="83.3,4.5 89.8,4.5 92.8,7.3 97.1,10.2 101.5,11.3 108.0,11.3 129.0,10.4 136.0,22.0 148.0,43.0 160.0,47.5 174.0,49.0 184.0,58.0 196.0,70.0 207.3,80.5 212.1,83.5 217.8,87.8 214.6,90.8 209.7,95.0 206.0,93.4 205.3,95.2 203.0,97.5 199.0,98.6 196.0,98.4 189.0,102.0 185.0,106.0 184.0,113.0 178.0,118.0 180.0,123.0 179.0,127.0 183.0,130.0 182.0,133.0 172.0,134.0 172.0,144.0 173.6,153.0 168.0,156.0 160.0,155.0 146.0,158.0 143.0,162.0 147.0,167.0 148.3,172.0 148.3,178.0 144.7,180.2 139.6,182.4 135.9,178.8 132.3,178.8 127.2,183.9 121.3,185.3 117.7,188.2 119.1,190.4 120.6,196.3 114.7,200.7 111.1,204.3 102.3,205.0 98.0,210.1 93.6,216.7 91.4,219.6 87.7,215.3 84.8,209.4 82.6,204.3 83.4,201.4 81.9,196.3 80.4,192.6 78.2,193.4 78.2,198.5 74.6,199.2 70.2,197.7 69.5,190.4 60.0,191.9 56.0,192.0 40.0,190.0 26.0,182.0 16.0,174.0 13.6,169.8 11.5,165.6 9.3,161.3 8.5,157.1 5.5,152.4 18.3,138.4 28.0,135.0 34.0,132.0 50.0,122.0 66.0,113.0 80.0,105.5 88.5,103.8 96.2,99.6 97.9,95.3 101.3,92.8 103.8,90.2 102.1,84.3 96.2,82.6 96.2,78.3 102.1,76.6 103.0,73.2 100.4,71.5 97.9,69.8 99.6,65.5 100.4,61.3 103.0,57.0 103.0,52.8 100.4,48.5 96.2,47.7 93.3,45.0 92.8,40.0 92.0,34.7 85.3,30.7 80.5,29.6 77.5,29.1 73.8,27.0 71.6,25.1 72.4,24.0 71.3,20.4 71.3,13.1 75.3,8.7"/></clipPath>
<polygon points="83.3,4.5 89.8,4.5 92.8,7.3 97.1,10.2 101.5,11.3 108.0,11.3 129.0,10.4 136.0,22.0 148.0,43.0 160.0,47.5 174.0,49.0 184.0,58.0 196.0,70.0 207.3,80.5 212.1,83.5 217.8,87.8 214.6,90.8 209.7,95.0 206.0,93.4 205.3,95.2 203.0,97.5 199.0,98.6 196.0,98.4 189.0,102.0 185.0,106.0 184.0,113.0 178.0,118.0 180.0,123.0 179.0,127.0 183.0,130.0 182.0,133.0 172.0,134.0 172.0,144.0 173.6,153.0 168.0,156.0 160.0,155.0 146.0,158.0 143.0,162.0 147.0,167.0 148.3,172.0 148.3,178.0 144.7,180.2 139.6,182.4 135.9,178.8 132.3,178.8 127.2,183.9 121.3,185.3 117.7,188.2 119.1,190.4 120.6,196.3 114.7,200.7 111.1,204.3 102.3,205.0 98.0,210.1 93.6,216.7 91.4,219.6 87.7,215.3 84.8,209.4 82.6,204.3 83.4,201.4 81.9,196.3 80.4,192.6 78.2,193.4 78.2,198.5 74.6,199.2 70.2,197.7 69.5,190.4 60.0,191.9 56.0,192.0 40.0,190.0 26.0,182.0 16.0,174.0 13.6,169.8 11.5,165.6 9.3,161.3 8.5,157.1 5.5,152.4 18.3,138.4 28.0,135.0 34.0,132.0 50.0,122.0 66.0,113.0 80.0,105.5 88.5,103.8 96.2,99.6 97.9,95.3 101.3,92.8 103.8,90.2 102.1,84.3 96.2,82.6 96.2,78.3 102.1,76.6 103.0,73.2 100.4,71.5 97.9,69.8 99.6,65.5 100.4,61.3 103.0,57.0 103.0,52.8 100.4,48.5 96.2,47.7 93.3,45.0 92.8,40.0 92.0,34.7 85.3,30.7 80.5,29.6 77.5,29.1 73.8,27.0 71.6,25.1 72.4,24.0 71.3,20.4 71.3,13.1 75.3,8.7" fill="#bed2bb" filter="url(#tex1)"/>
<g clip-path="url(#clip1)">
<radialGradient id="rg1" gradientUnits="userSpaceOnUse" cx="116" cy="128" r="46"><stop offset="0" stop-color="#86b6a6" stop-opacity="0.3"/><stop offset="0.55" stop-color="#86b6a6" stop-opacity="0.18"/><stop offset="1" stop-color="#86b6a6" stop-opacity="0"/></radialGradient>
<rect x="0" y="0" width="225" height="222" fill="url(#rg1)"/>
<radialGradient id="rh1" gradientUnits="userSpaceOnUse" cx="112" cy="180" r="40"><stop offset="0" stop-color="#86b6a6" stop-opacity="0.2"/><stop offset="1" stop-color="#86b6a6" stop-opacity="0"/></radialGradient>
<rect x="0" y="0" width="225" height="222" fill="url(#rh1)"/>
<radialGradient id="ry1" gradientUnits="userSpaceOnUse" cx="172" cy="92" r="45"><stop offset="0" stop-color="#eef3b7" stop-opacity="0.15"/><stop offset="1" stop-color="#eef3b7" stop-opacity="0"/></radialGradient>
<rect x="0" y="0" width="225" height="222" fill="url(#ry1)"/>
<radialGradient id="rz1" gradientUnits="userSpaceOnUse" cx="112" cy="35" r="30"><stop offset="0" stop-color="#eef3b7" stop-opacity="0.12"/><stop offset="1" stop-color="#eef3b7" stop-opacity="0"/></radialGradient>
<rect x="0" y="0" width="225" height="222" fill="url(#rz1)"/>
<filter id="speck1" x="0" y="0" width="100%" height="100%" color-interpolation-filters="sRGB"><feTurbulence type="fractalNoise" baseFrequency="0.42" numOctaves="2" seed="22" result="n"/><feColorMatrix in="n" type="matrix" values="0 0 0 0 0  0 0 0 0 0  0 0 0 0 0  5 0 0 0 -2.45" result="a"/><feFlood flood-color="#52a794" result="c"/><feComposite in="c" in2="a" operator="in" result="l"/><feComposite in="l" in2="SourceGraphic" operator="in"/></filter>
<radialGradient id="rs1" gradientUnits="userSpaceOnUse" cx="114" cy="150" r="58"><stop offset="0" stop-color="#000" stop-opacity="0.85"/><stop offset="0.65" stop-color="#000" stop-opacity="0.65"/><stop offset="1" stop-color="#000" stop-opacity="0"/></radialGradient>
<rect x="50" y="85" width="130" height="137" fill="url(#rs1)" filter="url(#speck1)"/>
<polygon points="71.3,13.1 75.3,8.7 83.3,4.5 89.8,4.5 92.8,7.3 97.1,10.2 101.5,11.3 108.0,11.3 129.0,10.4 136.0,22.0 148.0,43.0 160.0,47.5 174.0,49.0 184.0,58.0 196.0,70.0 207.3,80.5 212.1,83.5 217.8,87.8 214.6,90.8 209.7,95.0 206.0,93.4 205.0,89.0 200.0,83.0 192.0,76.0 184.0,67.0 178.0,59.0 175.0,54.0 168.0,55.5 160.0,52.0 152.0,49.0 143.0,44.5 138.0,40.0 134.0,30.0 130.0,22.0 126.0,13.8 110.0,13.6 104.4,13.5 97.1,12.4 93.5,10.9 89.8,9.5 84.0,8.7 82.6,11.0 82.6,17.8 76.0,18.0 71.3,18.2" fill="#52a794"/>
<polygon points="80.0,105.5 66.0,113.0 50.0,122.0 34.0,132.0 28.0,135.0 18.3,138.4 5.5,152.4 8.5,157.1 9.3,161.3 11.5,165.6 13.6,169.8 16.0,174.0 26.0,182.0 40.0,190.0 56.0,192.0 60.0,191.9 69.5,190.4 73.1,187.0 79.7,181.8 86.3,175.2 92.9,167.3 98.1,160.8 104.7,154.2 108.0,149.0 104.0,146.0 97.0,146.0 90.0,146.0 84.0,143.0 78.0,141.0 72.0,137.0 66.0,133.0 62.0,128.0 63.0,122.0 66.0,118.0 70.0,116.0 78.0,114.0 84.0,110.0 86.0,106.0" fill="#52a794"/>
<filter id="rough1" x="-5%" y="-5%" width="110%" height="110%"><feTurbulence type="fractalNoise" baseFrequency="0.18" numOctaves="2" seed="12" result="t"/><feDisplacementMap in="SourceGraphic" in2="t" scale="5" xChannelSelector="R" yChannelSelector="G"/></filter>
<g filter="url(#rough1)" opacity="0.8">
<ellipse cx="127.0" cy="103" rx="3.5" ry="7" transform="rotate(10 127.0 103)" fill="#52a794"/>
<ellipse cx="132.5" cy="106" rx="3.5" ry="10" transform="rotate(0 132.5 106)" fill="#52a794"/>
<ellipse cx="136.0" cy="104" rx="1.5" ry="6" transform="rotate(0 136.0 104)" fill="#52a794"/>
<ellipse cx="129.0" cy="114" rx="5" ry="3" transform="rotate(0 129.0 114)" fill="#52a794"/>
<ellipse cx="120.5" cy="114" rx="4.5" ry="3.5" transform="rotate(-30 120.5 114)" fill="#52a794"/>
<ellipse cx="117.0" cy="109" rx="2.5" ry="2" transform="rotate(0 117.0 109)" fill="#52a794"/>
<ellipse cx="101.5" cy="98" rx="3.8" ry="1.8" transform="rotate(0 101.5 98)" fill="#52a794"/>
<ellipse cx="106.0" cy="103" rx="2.5" ry="2" transform="rotate(0 106.0 103)" fill="#52a794"/>
<ellipse cx="128.0" cy="84.5" rx="4" ry="2.2" transform="rotate(0 128.0 84.5)" fill="#52a794"/>
<ellipse cx="142.0" cy="110" rx="2" ry="4" transform="rotate(0 142.0 110)" fill="#52a794"/>
<ellipse cx="102.0" cy="111.5" rx="2" ry="1.5" transform="rotate(0 102.0 111.5)" fill="#52a794"/>
<ellipse cx="125.5" cy="80.5" rx="2.5" ry="5" transform="rotate(10 125.5 80.5)" fill="#52a794"/>
<ellipse cx="116.0" cy="69.5" rx="1.6" ry="3" transform="rotate(-30 116.0 69.5)" fill="#52a794"/>
<ellipse cx="118.0" cy="127.5" rx="2.2" ry="2.2" transform="rotate(0 118.0 127.5)" fill="#52a794"/>
<ellipse cx="123.0" cy="135" rx="8" ry="4" transform="rotate(0 123.0 135)" fill="#52a794"/>
<ellipse cx="130.0" cy="122.5" rx="3" ry="1.5" transform="rotate(0 130.0 122.5)" fill="#52a794"/>
<ellipse cx="138.0" cy="142.5" rx="5.5" ry="4.8" transform="rotate(0 138.0 142.5)" fill="#52a794"/>
<ellipse cx="135.0" cy="152" rx="4" ry="5" transform="rotate(0 135.0 152)" fill="#52a794"/>
<ellipse cx="146.0" cy="150" rx="3" ry="2.5" transform="rotate(0 146.0 150)" fill="#52a794"/>
<ellipse cx="162.0" cy="147" rx="5" ry="3.5" transform="rotate(0 162.0 147)" fill="#52a794"/>
<ellipse cx="155.0" cy="155" rx="4" ry="2.5" transform="rotate(0 155.0 155)" fill="#52a794"/>
<ellipse cx="152.0" cy="142" rx="3" ry="2" transform="rotate(0 152.0 142)" fill="#52a794"/>
<ellipse cx="104.0" cy="149" rx="3.5" ry="2" transform="rotate(0 104.0 149)" fill="#52a794"/>
<ellipse cx="112.0" cy="158" rx="3.5" ry="3" transform="rotate(0 112.0 158)" fill="#52a794"/>
<ellipse cx="116.0" cy="165" rx="4" ry="2.5" transform="rotate(-30 116.0 165)" fill="#52a794"/>
<ellipse cx="124.0" cy="162" rx="3" ry="2.5" transform="rotate(0 124.0 162)" fill="#52a794"/>
<ellipse cx="133.0" cy="170" rx="3.5" ry="2.5" transform="rotate(0 133.0 170)" fill="#52a794"/>
<ellipse cx="127.0" cy="175" rx="3" ry="2" transform="rotate(0 127.0 175)" fill="#52a794"/>
<ellipse cx="100.0" cy="176" rx="3.5" ry="2.5" transform="rotate(0 100.0 176)" fill="#52a794"/>
<ellipse cx="108.0" cy="192" rx="3.5" ry="2.5" transform="rotate(0 108.0 192)" fill="#52a794"/>
<ellipse cx="152.0" cy="166" rx="3" ry="2" transform="rotate(0 152.0 166)" fill="#52a794"/>
<ellipse cx="95.0" cy="186" rx="3" ry="2" transform="rotate(0 95.0 186)" fill="#52a794"/>
<ellipse cx="114.0" cy="181" rx="2.5" ry="2" transform="rotate(0 114.0 181)" fill="#52a794"/>
<ellipse cx="101.0" cy="199" rx="2.5" ry="2" transform="rotate(0 101.0 199)" fill="#52a794"/>
<ellipse cx="156.0" cy="104" rx="2.5" ry="1.5" transform="rotate(0 156.0 104)" fill="#52a794"/>
<ellipse cx="170.0" cy="110" rx="2" ry="1.5" transform="rotate(0 170.0 110)" fill="#52a794"/>
<ellipse cx="148.0" cy="134" rx="3" ry="2" transform="rotate(0 148.0 134)" fill="#52a794"/>
<ellipse cx="150.0" cy="121" rx="2.5" ry="2" transform="rotate(0 150.0 121)" fill="#52a794"/>
<ellipse cx="112.0" cy="86" rx="2" ry="3" transform="rotate(0 112.0 86)" fill="#52a794"/>
<ellipse cx="88.0" cy="110" rx="4" ry="2.5" transform="rotate(0 88.0 110)" fill="#52a794"/>
<ellipse cx="92.0" cy="116" rx="3" ry="2" transform="rotate(0 92.0 116)" fill="#52a794"/>
<ellipse cx="146.0" cy="100" rx="2.5" ry="2" transform="rotate(0 146.0 100)" fill="#52a794"/>
<ellipse cx="107.0" cy="170" rx="3" ry="2" transform="rotate(0 107.0 170)" fill="#52a794"/>
</g>
<polygon points="72.6,14.8 75.5,11.6 79.5,9.6 81.4,10.0 81.4,15.6 72.6,15.8" fill="#bed2bb" filter="url(#tex1)"/>
<path d="M215.0,90.4L212.8,91.6M212.8,91.6L213.0,92.2M106.7,152.0L110.3,157.6M110.3,157.6L104.7,159.5L99.1,160.5M93.8,101.1L93.8,100.9M93.8,101.1L96.1,102.9L97.1,104.5M97.1,104.5L103.7,94.5L111.3,84.0M111.3,84.0L103.1,87.8M138.2,108.1L138.4,106.6L139.6,105.8M138.2,108.1L143.6,108.6L147.7,109.0M147.7,109.0L146.2,105.8L143.9,103.8M139.6,105.8L141.7,104.6L143.9,103.8M70.3,197.7L73.7,195.1M77.0,198.7L76.1,196.3M73.7,195.1L75.4,195.5L76.1,196.3M93.8,206.3L93.2,206.8L93.5,206.5M93.8,206.3L96.8,204.7L100.0,203.2M93.5,206.5L91.6,210.1L88.8,212.1M100.0,203.2L101.9,205.5M88.8,212.1L87.3,214.4M100.0,203.2L102.0,200.2L102.9,196.0M102.9,196.0L110.9,196.3L118.5,197.3M118.7,197.7L118.5,197.3M93.1,205.3L93.8,206.4L93.5,206.5M93.1,205.3L92.1,200.0L92.5,194.8M93.8,206.3L94.4,200.3L94.7,194.2M92.5,194.8L92.8,194.9L94.7,194.2M86.3,106.6L87.4,105.8L92.4,101.7M82.5,111.6L83.9,112.7M93.8,101.1L93.4,101.1M97.1,104.5L97.8,105.1L97.7,105.2M99.4,112.7L98.6,108.8L97.7,105.2M99.4,112.7L96.6,115.1L93.1,117.4M83.9,112.7L88.6,114.4L93.1,117.4M73.7,195.1L71.9,191.4L71.0,189.6M84.1,178.1L89.1,174.6M87.7,174.3L88.2,174.2M88.2,174.2L88.5,174.3L89.1,174.6M148.3,176.8L146.9,176.6L143.9,174.8M145.8,156.4L144.2,159.6L144.0,160.7M145.8,156.4L147.6,157.7M143.9,174.8L143.1,172.5L142.9,169.4M143.6,162.8L143.1,166.0L142.9,169.4M106.2,147.0L109.4,147.0L114.7,145.8M114.7,145.8L116.1,150.4L118.3,154.1M110.3,157.6L110.2,157.7L110.7,157.9M118.3,154.1L115.1,156.3L110.7,157.9M138.3,112.4L137.4,117.6L135.5,122.4M138.3,112.4L140.4,113.5L142.2,113.1M135.5,122.4L142.4,123.5L150.2,123.5M142.2,113.1L146.4,118.9L150.2,123.5M120.4,124.3L116.7,131.4L111.4,139.2M120.4,124.3L121.1,123.8L120.4,124.3M120.4,124.3L121.4,129.3L122.7,132.9M122.7,132.9L120.2,137.1L118.8,142.0M111.4,139.2L114.5,141.0L116.3,143.1M118.8,142.0L117.6,142.2L116.3,143.1M100.5,142.4L102.7,136.2L104.8,130.0M100.5,142.4L106.7,140.7L111.4,139.2M104.8,130.0L109.2,125.0L112.1,120.3M116.8,120.5L113.8,120.6L112.1,120.3M116.8,120.5L118.7,122.9L120.4,124.3M114.7,145.8L115.6,145.0L116.3,143.1M118.3,154.1L123.6,154.6L128.7,153.9M128.7,153.9L123.7,148.0L118.8,142.0M101.7,145.5L101.3,145.2L100.4,143.8M100.5,142.4L100.4,142.0L100.4,142.6M100.4,143.8L100.7,143.8L100.4,142.6M172.0,137.8L170.0,139.9L164.0,144.8M164.0,144.8L170.4,148.1L172.9,149.3M169.9,110.9L169.8,117.0L169.5,123.3M169.9,110.9L165.9,108.8L163.3,105.3M169.5,123.3L163.2,120.4L156.5,116.4M156.7,111.4L156.6,113.3L156.5,116.4M156.7,111.4L156.8,110.8L157.6,109.7M163.3,105.3L161.1,107.7L157.6,109.7M147.7,109.0L149.0,110.1L149.0,110.0M143.9,103.8L145.4,99.9L147.5,97.2M149.0,110.0L153.1,111.1L156.7,111.4M157.6,109.7L152.6,103.9L147.5,97.2M212.8,91.6L210.8,89.5L210.5,88.4M203.4,97.1L202.9,95.0L200.1,88.9M200.1,88.9L205.0,88.6L210.5,88.4M212.7,83.9L211.5,85.3M207.0,80.2L207.7,81.7L211.5,85.3M210.5,88.4L210.3,87.1L211.5,85.3M116.0,11.0L115.6,11.8L114.8,13.6M114.8,13.6L123.8,18.8L133.7,22.5M133.7,22.5L135.6,21.3M137.8,63.6L142.8,64.7L147.1,65.8M137.8,63.6L135.9,55.5L134.0,46.3M134.0,46.3L136.3,46.2L137.5,46.7M137.5,46.7L142.5,56.1L147.6,65.0M147.6,65.0L147.4,65.8L147.1,65.8M133.0,64.1L131.5,68.4L131.5,71.9M133.0,64.1L135.0,63.2L137.8,63.6M146.9,67.2L146.8,66.7L147.1,65.8M146.9,67.2L142.3,69.2L137.6,72.8M131.5,71.9L132.3,71.9L133.5,73.0M137.6,72.8L135.8,72.5L133.5,73.0M131.5,45.7L129.6,48.9L128.6,51.7M131.5,45.7L132.6,46.4L134.0,46.3M133.0,64.1L130.6,62.2L128.5,60.5M128.5,60.5L128.3,56.1L128.6,51.7M137.6,72.8L138.8,74.4L138.4,76.4M133.5,73.0L133.2,77.2L134.3,82.5M134.3,82.5L136.2,80.0L138.4,76.4M149.0,73.7L147.8,71.0L146.9,67.2M149.0,73.7L146.3,77.8L144.3,81.2M144.3,81.2L140.8,79.3L138.4,76.4M127.3,32.1L121.0,30.4L114.4,28.6M127.3,32.1L130.0,27.8L133.7,22.5M114.5,13.7L114.8,14.0L114.8,13.6M114.5,13.7L114.9,14.3L113.8,14.4M113.8,14.4L114.2,14.1L113.7,14.7M114.4,28.6L113.6,21.0L113.7,14.7M131.5,71.9L128.4,72.1L125.1,73.5M128.5,60.5L124.7,63.3L121.7,65.8M121.7,65.8L123.8,70.4L125.1,73.5M133.9,85.0L134.7,84.2L134.3,82.5M133.9,85.0L127.7,84.2L121.0,82.9M125.1,73.5L123.2,77.4L121.0,82.9M97.7,105.2L104.2,101.8L109.9,98.9M111.3,84.0L112.3,84.4L112.3,83.3M109.9,98.9L112.7,92.8L116.0,85.3M112.3,83.3L114.6,84.0L116.0,85.3M120.2,91.7L117.1,97.9L114.6,103.0M120.2,91.7L117.7,89.0L116.4,85.4M114.6,103.0L111.8,100.6L109.9,98.9M116.4,85.4L116.5,86.0L116.0,85.3M128.6,51.7L121.3,55.1L112.9,57.8M121.7,65.8L117.8,64.6L114.5,63.6M112.9,57.8L113.9,60.3L114.5,63.6M131.5,45.7L129.8,43.1L127.9,40.7M127.9,40.7L123.5,41.4L118.3,43.6M118.3,43.6L114.3,49.1L111.2,56.0M112.9,57.8L111.5,57.2L111.2,56.0M112.3,83.3L109.1,79.2L106.7,75.3M121.0,82.9L119.5,83.9L116.4,85.4M114.5,63.6L110.3,69.7L106.7,75.3M96.2,78.4L99.3,77.8L106.4,75.2M106.4,75.2L106.7,75.8L106.7,75.3M119.0,195.8L119.0,196.2L118.5,197.3M119.0,195.8L120.4,195.4M80.7,193.3L82.0,191.7L84.6,190.2M81.7,195.8L82.3,196.2L84.7,199.4M84.6,190.2L87.2,193.2L88.6,195.0M84.7,199.4L86.8,197.2L87.8,196.6M87.8,196.6L87.7,195.9L88.3,196.0M88.3,196.0L88.3,196.2L88.6,195.0M76.1,196.3L78.2,195.4M84.6,186.8L85.4,187.8L84.6,190.2M84.6,186.8L80.2,185.0L77.5,184.2M83.4,201.3L84.7,199.4M88.8,212.1L88.8,205.1L87.8,196.6M93.1,205.3L91.1,201.4L88.3,196.0M92.5,194.8L90.1,195.1L88.6,195.0M101.3,194.2L101.6,184.6L102.1,176.4M101.3,194.2L98.9,193.5L95.6,193.8M95.6,193.8L93.4,187.5L89.9,182.0M102.1,176.4L99.3,176.4L97.4,174.9M97.4,174.9L95.0,176.2L93.3,176.3M89.9,182.0L92.0,179.8L93.3,176.3M102.9,196.0L101.4,195.0L101.3,194.2M94.7,194.2L95.0,194.3L95.6,193.8M84.6,186.8L87.9,184.6L89.9,182.0M105.7,175.9L109.2,172.1L111.7,167.0M105.7,175.9L103.9,176.0L102.1,176.4M95.5,164.8L95.9,169.3L97.4,174.9M111.7,167.0L111.9,162.5L110.7,157.9M89.1,174.6L90.9,174.9L93.3,176.3M105.7,175.9L111.0,179.0L114.8,182.1M119.0,195.8L118.9,190.5L118.7,189.7M118.2,187.8L117.7,185.8M117.7,185.8L115.8,183.8L114.8,182.1M117.7,185.8L118.3,185.9L118.4,185.5M118.4,185.5L123.6,184.3L129.0,182.1M143.9,174.8L141.6,176.1L138.2,177.1M138.2,177.1L137.8,180.4L137.7,180.5M111.7,167.0L118.4,166.5L123.6,167.4M127.6,162.8L126.9,163.5L126.2,164.6M127.6,162.8L129.4,158.0L130.0,154.2M130.0,154.2L129.0,153.5L128.7,153.9M123.6,167.4L124.3,165.6L126.2,164.6M114.8,182.1L118.6,176.0L124.0,170.8M123.6,167.4L123.2,168.8L124.0,170.8M118.4,185.5L122.5,180.8L126.9,174.9M124.0,170.8L125.9,173.4L126.9,174.9M130.0,181.1L129.2,178.6L128.6,175.9M126.9,174.9L127.1,176.0L128.6,175.9M104.8,130.0L100.8,129.0L95.4,128.8M100.4,142.6L96.0,138.7L92.6,136.3M92.6,136.3L93.5,133.3L95.4,128.8M112.1,120.3L106.3,116.0L99.4,112.7M93.1,117.4L91.8,118.4L90.9,120.3M95.4,128.8L92.6,124.6L90.9,120.3M76.9,123.5L82.1,123.1L88.8,121.7M76.9,123.5L80.0,118.7L83.9,112.7M90.9,120.3L89.4,121.4L88.8,121.7M161.1,146.1L162.1,145.7L164.0,144.8M161.1,146.1L163.8,151.6L166.1,155.8M145.8,156.4L144.5,153.8L144.2,152.7M144.2,152.7L151.7,148.5L158.1,145.5M158.1,145.5L159.5,145.5L161.1,146.1M147.4,96.5L150.8,94.9L154.3,92.1M147.4,96.5L142.5,93.6L138.9,91.6M143.5,83.3L140.2,85.2L138.3,88.3M143.5,83.3L147.6,85.2L152.2,86.5M152.2,86.5L152.5,90.1L154.3,92.1M138.3,88.3L138.4,89.4L138.7,91.3M138.7,91.3L138.6,90.8L138.9,91.6M168.8,93.7L168.3,93.7L168.8,93.6M168.8,93.7L165.4,99.5L163.3,105.3M168.8,93.6L161.5,93.2L154.3,92.1M147.5,97.2L148.1,97.5L147.4,96.5M137.0,98.0L138.3,94.6L138.9,91.6M137.0,98.0L138.4,101.7L139.6,105.8M133.9,85.0L135.4,86.9L138.3,88.3M144.3,81.2L143.8,81.5L143.5,83.3M149.0,73.7L152.1,76.0L156.5,78.0M156.5,78.0L155.0,82.9L152.2,86.5M170.5,90.3L170.3,92.2L168.8,93.6M170.5,90.3L169.1,84.4L166.7,78.6M156.5,78.0L162.1,79.1L166.7,78.6M124.3,97.5L131.5,93.8L138.7,91.3M124.3,97.5L122.5,95.2L120.2,91.7M124.3,97.5L124.6,99.3L124.5,100.5M137.0,98.0L134.9,99.2L132.4,101.9M132.4,101.9L127.8,101.8L124.5,100.5M134.3,106.6L128.4,108.8L120.9,109.9M134.3,106.6L136.3,107.4L137.8,108.6M137.9,111.4L128.5,113.1L120.0,113.3M137.9,111.4L138.3,109.7L137.8,108.6M120.0,113.3L121.0,111.8L120.7,110.2M120.7,110.2L120.9,109.9L120.9,109.9M132.4,101.9L133.8,104.2L134.3,106.6M124.5,100.5L122.9,105.4L120.9,109.9M138.2,108.1L138.1,107.6L137.8,108.6M138.3,112.4L138.0,111.3L137.9,111.4M135.5,122.4L134.7,123.4L132.5,124.3M132.5,124.3L126.2,124.6L120.4,124.3M116.8,120.5L119.1,117.1L120.0,113.3M142.2,113.1L145.2,111.5L149.0,110.0M114.6,103.0L117.2,105.9L120.7,110.2M151.3,62.6L148.9,63.4L147.6,65.0M151.3,62.6L156.6,63.5L161.7,65.5M166.7,78.6L167.3,75.0L168.8,72.5M168.8,72.5L167.4,71.3L167.5,68.7M161.7,65.5L163.9,67.5L167.5,68.7M127.9,40.7L128.1,37.0L127.3,32.1M137.5,46.7L139.0,45.4L140.2,45.8M140.2,45.8L144.6,37.1M95.8,9.3L95.8,9.3L96.8,11.8M100.7,11.1L99.9,11.4L98.8,12.6M96.8,11.8L97.2,13.0L98.8,12.6M85.8,12.3L86.2,9.3L86.1,7.0M85.8,12.3L87.7,13.3L89.9,15.1M87.6,4.5L87.3,4.8L86.1,7.0M89.9,15.1L93.7,13.9L96.8,11.8M113.8,14.4L108.3,11.9L106.3,11.3M113.7,14.7L108.5,16.5L102.4,19.8M102.4,19.8L100.0,16.5L98.8,12.6M114.5,13.7L112.3,11.1M114.4,28.6L111.3,29.7L109.1,30.4M102.0,21.7L102.5,21.5L102.4,19.8M102.0,21.7L103.9,25.1L106.2,28.8M109.1,30.4L106.9,30.0L106.2,28.8M89.9,15.1L90.6,20.3L89.8,25.0M102.0,21.7L95.4,23.0L90.2,25.5M89.8,25.0L90.6,25.8L90.2,25.5M106.4,75.2L104.5,72.8L102.6,69.9M98.6,68.0L99.4,68.7L102.6,69.9M76.9,123.5L77.4,122.8L76.7,123.6M78.0,114.5L77.8,116.9L76.1,121.9M76.7,123.6L75.8,122.7L76.1,121.9M76.1,121.9L73.3,118.8L70.2,116.5M88.2,174.2L88.0,173.9M67.2,133.2L66.9,132.5M66.3,132.6L66.9,132.5M136.5,175.1L133.7,175.1L131.2,174.6M136.5,175.1L136.8,172.8L136.2,171.3M136.2,171.3L135.6,171.3L135.4,169.6M131.4,172.7L130.6,173.9L131.2,174.6M131.4,172.7L132.4,170.8L133.7,168.7M135.4,169.6L133.9,169.8L133.7,168.7M138.2,177.1L137.9,176.2L136.5,175.1M128.6,175.9L130.0,175.2L131.2,174.6M142.9,169.4L140.3,169.8L136.2,171.3M143.3,162.3L138.9,166.3L135.4,169.6M126.2,164.6L129.4,169.2L131.4,172.7M127.6,162.8L130.8,166.5L133.7,168.7M142.7,143.1L140.8,138.5L139.0,133.6M142.7,143.1L143.1,146.7L142.3,151.7M142.3,151.7L139.1,151.3L134.5,151.9M137.6,132.6L133.7,135.7L129.2,139.9M137.6,132.6L137.8,133.4L139.0,133.6M134.5,151.9L131.5,146.1L129.2,139.9M130.0,154.2L132.7,153.8L134.5,151.9M144.2,152.7L142.8,151.6L142.3,151.7M132.5,124.3L134.3,128.7L137.6,132.6M122.7,132.9L126.6,136.6L129.2,139.9M148.7,134.5L148.1,131.6L148.4,128.1M148.7,134.5L153.4,136.2L157.2,138.3M159.1,132.2L157.4,134.9L157.2,138.3M159.1,132.2L155.7,128.1L151.3,123.2M148.4,128.1L149.3,125.8L150.3,123.6M151.3,123.2L151.0,123.4L150.3,123.6M142.7,143.1L145.7,138.5L148.7,134.5M139.0,133.6L144.2,130.1L148.4,128.1M158.1,145.5L157.4,141.9L157.2,138.3M174.9,133.7L174.0,132.3L172.6,129.2M172.6,129.2L166.2,130.2L159.1,132.2M172.6,129.2L171.9,127.0L172.5,126.4M172.5,126.4L171.6,124.7L169.5,123.3M156.5,116.4L153.9,120.2L151.3,123.2M150.2,123.5L150.6,123.7L150.3,123.6M88.6,130.0L89.7,132.4L90.8,135.8M88.6,130.0L83.2,130.7L79.3,132.3M90.8,135.8L88.2,136.6L84.0,138.1M79.3,132.3L81.9,134.8L84.0,138.1M92.6,136.3L91.9,135.5L90.8,135.8M88.8,121.7L89.0,125.2L88.6,130.0M74.2,128.3L75.2,125.9L76.7,123.6M74.2,128.3L76.9,130.1L79.3,132.3M85.5,143.2L83.7,139.1M97.7,145.5L100.4,143.8M83.7,139.1L83.6,138.4L84.0,138.1M83.7,139.1L80.9,141.4M66.9,132.5L71.1,130.8L74.2,128.3M169.9,110.9L174.5,111.4L179.5,112.4M172.5,126.4L172.9,125.8L173.8,124.9M173.8,124.9L176.0,119.7L179.5,115.1M179.5,112.4L180.2,113.6L179.5,115.1M200.1,88.9L198.0,87.9L194.9,87.5M203.6,77.1L200.8,78.1L197.1,79.4M194.9,87.5L195.2,83.4L197.1,79.4M194.4,99.2L193.4,95.0L193.0,88.4M194.9,87.5L194.6,88.0L193.0,88.4M197.3,71.2L195.1,72.2M197.1,79.4L196.0,75.4L195.1,72.2M170.5,90.3L178.4,88.7L185.2,87.8M168.8,93.7L171.9,98.1L175.8,101.0M185.5,100.6L180.2,100.2L175.8,101.0M185.5,100.6L185.5,93.8L186.8,88.1M185.2,87.8L186.5,88.3L186.7,88.1M186.8,88.1L187.0,88.0L186.7,88.1M184.5,67.0L186.9,66.9L188.3,66.2M184.5,67.0L183.2,68.6L180.3,70.6M180.3,70.6L181.0,73.7L183.0,77.7M183.0,77.7L185.7,76.2L188.7,74.8M188.3,66.2L190.3,68.4L191.1,69.4M191.1,69.4L189.9,72.7L188.7,74.8M168.8,72.5L174.4,71.0L180.3,70.6M185.2,87.8L184.2,83.4L183.0,77.7M186.7,88.1L187.4,81.6L188.7,74.8M189.8,63.8L188.3,66.2M195.1,72.2L192.5,70.2L191.1,69.4M193.0,88.4L190.1,88.7L186.8,88.1M140.2,45.8L146.9,47.5L152.9,47.8M153.8,45.2L152.9,47.8M151.3,62.6L154.2,57.0L155.5,51.4M155.5,51.4L154.1,49.5L152.9,47.8M74.0,10.7L76.5,12.2L79.2,14.1M74.0,10.7L74.7,9.4M79.2,14.1L82.1,12.4L85.8,12.3M86.1,7.0L83.6,5.7L82.1,5.1M74.0,10.7L73.5,10.7M106.2,28.8L103.3,29.5L99.6,31.5M90.7,31.4L91.2,28.7L90.2,25.5M90.7,31.4L92.4,32.4L93.0,32.1M93.0,32.1L96.1,31.1L99.6,31.5M79.2,23.3L78.4,23.7L76.2,25.3M79.2,23.3L80.3,23.1L81.0,23.6M81.0,23.6L81.9,29.9M76.2,25.3L76.8,28.7M72.3,25.7L76.2,25.3M79.2,14.1L78.8,19.2L79.2,23.3M89.8,25.0L85.1,23.8L81.0,23.6M90.7,31.4L89.3,33.1M96.7,47.8L98.3,44.9L101.3,41.5M108.0,54.8L104.9,54.9L103.0,54.8M108.0,54.8L109.1,48.5L109.5,41.0M109.5,41.0L108.2,39.3L107.4,39.0M107.4,39.0L104.8,39.4L101.7,41.3M101.3,41.5L100.9,41.1L101.7,41.3M93.0,32.1L96.5,36.6L101.3,41.5M102.6,69.9L102.0,62.7L102.4,58.0M111.2,56.0L109.2,55.0L108.0,54.8M118.3,43.6L113.7,41.6L109.5,41.0M109.1,30.4L107.7,35.5L107.4,39.0M99.6,31.5L100.1,37.1L101.7,41.3M173.8,124.9L179.6,124.7M179.5,115.1L180.7,115.7M188.2,102.8L186.0,101.7M184.5,109.8L180.5,110.4M186.0,101.7L183.4,106.0L180.2,108.9M180.2,108.9L180.9,109.7L180.5,110.4M185.5,100.6L185.6,100.8L186.0,101.7M175.8,101.0L178.1,104.7L180.2,108.9M179.5,112.4L179.4,111.9L180.5,110.4M165.2,48.1L164.2,48.6L160.3,51.4M162.6,54.7L166.2,57.0L170.6,60.3M162.6,54.7L161.9,52.4L160.3,51.4M175.5,50.5L175.0,49.9M175.5,50.5L175.9,51.6L176.1,52.7M176.1,52.7L176.4,54.4L175.2,55.8M170.6,60.3L172.6,58.5L175.2,55.8M155.5,51.4L158.1,51.1L160.3,51.4M161.7,65.5L161.9,60.6L162.6,54.7M167.5,68.7L168.9,64.6L170.6,60.3M175.6,50.4L175.5,50.5M178.7,53.2L176.1,52.7M184.5,67.0L180.6,61.6L175.2,55.8" fill="none" stroke="#ffffff" stroke-width="0.45" opacity="0.6"/>
<polygon points="47.0,158.0 50.0,154.0 56.0,153.0 62.0,155.0 66.0,158.0 65.0,163.0 61.0,166.0 58.0,169.0 53.0,167.0 49.0,165.0 46.0,162.0" fill="#dbe6bb" opacity="0.55"/>
<polygon points="100.7,149.0 96.8,152.9 91.5,158.1 86.3,163.4 81.0,168.7 74.5,173.3 66.6,171.3 71.8,164.7 77.0,162.0 82.3,158.1 86.3,152.9 90.2,147.6 97.0,146.0" fill="#bed2bb" opacity="0.85" filter="url(#tex1)"/>
<ellipse cx="56" cy="161" rx="12.5" ry="10" fill="none" stroke="#ffffff" stroke-width="0.4" opacity="0.8"/>
<path d="M54,175 q8,6 16,2 q8,-2 12,-10 q4,-8 10,-12" fill="none" stroke="#ffffff" stroke-width="0.4" opacity="0.8"/>
<path d="M60,133 q-4,6 -12,5 q-6,2 -4,8" fill="none" stroke="#ffffff" stroke-width="0.4" opacity="0.8"/>
<g filter="url(#rough1)" opacity="0.9">
<ellipse cx="55.0" cy="160" rx="7.2" ry="4.16" transform="rotate(-20 55.0 160)" fill="#e36a4d"/>
<ellipse cx="60.0" cy="163" rx="5.12" ry="4.16" transform="rotate(0 60.0 163)" fill="#ec9a6c"/>
<ellipse cx="52.0" cy="161" rx="3.52" ry="2.24" transform="rotate(0 52.0 161)" fill="#e36a4d"/>
<ellipse cx="58.0" cy="166" rx="3.52" ry="2.88" transform="rotate(0 58.0 166)" fill="#ec9a6c"/>
<ellipse cx="62.0" cy="158" rx="3.2" ry="2.24" transform="rotate(0 62.0 158)" fill="#e36a4d"/>
<ellipse cx="56.0" cy="157" rx="3.2" ry="1.92" transform="rotate(0 56.0 157)" fill="#ec9a6c"/>
<ellipse cx="72.5" cy="168" rx="3.52" ry="5.76" transform="rotate(25 72.5 168)" fill="#e36a4d"/>
<ellipse cx="70.0" cy="172" rx="2.56" ry="2.08" transform="rotate(0 70.0 172)" fill="#ec9a6c"/>
<ellipse cx="75.0" cy="165" rx="2.24" ry="2.56" transform="rotate(0 75.0 165)" fill="#e36a4d"/>
<ellipse cx="70.0" cy="131" rx="1.92" ry="4.48" transform="rotate(-20 70.0 131)" fill="#ec9a6c"/>
<ellipse cx="74.0" cy="134" rx="4.16" ry="1.44" transform="rotate(20 74.0 134)" fill="#e36a4d"/>
<ellipse cx="79.0" cy="136" rx="2.24" ry="3.52" transform="rotate(0 79.0 136)" fill="#ec9a6c"/>
<ellipse cx="84.0" cy="126" rx="1.28" ry="4.48" transform="rotate(0 84.0 126)" fill="#e36a4d"/>
<ellipse cx="88.0" cy="130" rx="1.6" ry="3.84" transform="rotate(30 88.0 130)" fill="#ec9a6c"/>
<ellipse cx="92.0" cy="138" rx="1.44" ry="3.68" transform="rotate(10 92.0 138)" fill="#e36a4d"/>
<ellipse cx="97.0" cy="142" rx="3.2" ry="1.6" transform="rotate(-30 97.0 142)" fill="#ec9a6c"/>
<ellipse cx="66.0" cy="137" rx="2.88" ry="1.28" transform="rotate(0 66.0 137)" fill="#e36a4d"/>
<ellipse cx="82.0" cy="139" rx="3.68" ry="1.28" transform="rotate(10 82.0 139)" fill="#ec9a6c"/>
<ellipse cx="90.0" cy="143" rx="1.44" ry="2.88" transform="rotate(0 90.0 143)" fill="#e36a4d"/>
<ellipse cx="76.0" cy="129" rx="1.28" ry="2.24" transform="rotate(0 76.0 129)" fill="#ec9a6c"/>
<ellipse cx="86.0" cy="135" rx="2.88" ry="1.28" transform="rotate(-30 86.0 135)" fill="#e36a4d"/>
<ellipse cx="72.0" cy="138" rx="2.24" ry="1.28" transform="rotate(30 72.0 138)" fill="#ec9a6c"/>
<ellipse cx="95.0" cy="133" rx="1.28" ry="2.56" transform="rotate(0 95.0 133)" fill="#e36a4d"/>
<ellipse cx="80.0" cy="131" rx="1.92" ry="1.12" transform="rotate(0 80.0 131)" fill="#ec9a6c"/>
<ellipse cx="100.0" cy="139" rx="1.28" ry="2.56" transform="rotate(20 100.0 139)" fill="#e36a4d"/>
<ellipse cx="68.0" cy="133" rx="2.24" ry="1.28" transform="rotate(0 68.0 133)" fill="#ec9a6c"/>
<ellipse cx="77.0" cy="137.5" rx="2.56" ry="1.28" transform="rotate(20 77.0 137.5)" fill="#e36a4d"/>
<ellipse cx="96.0" cy="140.5" rx="2.56" ry="1.44" transform="rotate(-20 96.0 140.5)" fill="#ec9a6c"/>
<ellipse cx="91.0" cy="134" rx="1.28" ry="2.56" transform="rotate(0 91.0 134)" fill="#e36a4d"/>
</g>
<ellipse cx="119.3" cy="68" rx="3.6" ry="1.25" transform="rotate(38 119.3 68)" fill="#e36a4d"/>
<line x1="129" y1="10.4" x2="127" y2="15" stroke="#ffffff" stroke-width="0.4" opacity="0.8"/>
<line x1="148" y1="43" x2="143" y2="44" stroke="#ffffff" stroke-width="0.4" opacity="0.8"/>
<line x1="160" y1="47.5" x2="158" y2="51" stroke="#ffffff" stroke-width="0.4" opacity="0.8"/>
<line x1="196" y1="70" x2="190" y2="74" stroke="#ffffff" stroke-width="0.4" opacity="0.8"/>
<line x1="208" y1="81" x2="203" y2="86" stroke="#ffffff" stroke-width="0.4" opacity="0.8"/>
<line x1="136" y1="22" x2="131" y2="24" stroke="#ffffff" stroke-width="0.4" opacity="0.8"/>
<line x1="115" y1="11" x2="114" y2="14" stroke="#ffffff" stroke-width="0.4" opacity="0.8"/>
<line x1="142" y1="32" x2="137" y2="34" stroke="#ffffff" stroke-width="0.4" opacity="0.8"/>
</g>
<polyline points="103.0,57.0 110.0,58.0 115.0,54.0 121.0,51.0 122.0,43.0 126.0,40.0 132.0,42.0 137.0,43.0 142.0,45.0 147.0,42.5" fill="none" stroke="#111" stroke-width="0.5" opacity="0.95"/>
<polyline points="176.0,53.0 172.0,60.0 168.0,66.0 165.0,70.0 169.0,73.0 166.0,77.0 162.0,83.0 161.0,89.0 158.0,93.0 160.0,96.0" fill="none" stroke="#111" stroke-width="0.5" opacity="0.95"/>
<polyline points="104.0,90.0 107.5,88.5 108.8,93.3 111.0,96.4 115.4,95.5 118.9,93.8 123.3,91.0 127.7,89.4 132.0,92.0 135.5,91.0 139.0,93.3 142.5,93.8 146.0,90.0 150.0,89.4 156.0,89.6 160.0,92.0 160.0,96.0" fill="none" stroke="#111" stroke-width="0.5" opacity="0.95"/>
<polyline points="160.0,96.0 165.0,100.0 168.0,106.0 174.0,108.0 176.0,114.0 179.0,117.5" fill="none" stroke="#111" stroke-width="0.5" opacity="0.95"/>
<polyline points="135.5,91.0 135.1,96.4 137.7,98.0 137.3,107.0 135.5,112.0 135.5,117.4 139.0,118.0 142.0,120.0 141.0,127.0 145.0,130.0 146.0,138.0 142.0,144.0 137.0,147.0 134.0,152.0 137.0,157.0 143.0,160.0" fill="none" stroke="#111" stroke-width="0.5" opacity="0.95"/>
<polyline points="137.3,107.0 129.4,108.2 125.0,110.4 123.3,112.0 119.8,115.2 123.3,116.0 128.0,117.5 135.5,117.4" fill="none" stroke="#111" stroke-width="0.5" opacity="0.95"/>
<polyline points="80.0,105.5 84.0,111.0 90.0,112.0 95.3,110.0 97.9,111.3 97.0,115.6 100.5,118.3 106.0,116.0 112.0,118.0 119.8,115.2" fill="none" stroke="#111" stroke-width="0.5" opacity="0.95"/>
<polyline points="66.0,113.0 74.0,113.5 84.0,111.0" fill="none" stroke="#111" stroke-width="0.5" opacity="0.95"/>
<polyline points="50.0,122.0 56.0,128.0 64.0,131.0 72.0,130.0 80.0,128.0 88.0,130.0 94.0,131.0 97.0,136.0 101.0,140.0 105.0,144.0" fill="none" stroke="#111" stroke-width="0.5" opacity="0.95"/>
<polyline points="100.5,118.3 95.0,121.0 98.0,126.0 100.0,131.0 103.0,136.0 104.0,133.0 108.0,131.0 112.0,132.0 112.5,126.0 111.0,123.0 107.0,123.5 104.0,119.5 100.5,118.3" fill="none" stroke="#111" stroke-width="0.5" opacity="0.95"/>
<polyline points="108.0,121.0 108.5,124.5 116.0,124.5 116.0,121.0 108.0,121.0" fill="none" stroke="#111" stroke-width="0.5" opacity="0.95"/>
<polyline points="112.5,126.0 118.0,124.0 124.0,128.0 130.0,128.5 133.5,130.0 133.5,136.0 128.0,138.5 124.0,142.0 118.0,141.0 113.0,143.0 110.0,146.0" fill="none" stroke="#111" stroke-width="0.5" opacity="0.95"/>
<polyline points="105.0,144.0 108.6,149.0 104.7,154.2 98.1,160.8 92.9,167.3 86.3,175.2 79.7,181.8 73.1,187.0 67.9,190.3" fill="none" stroke="#111" stroke-width="0.5" opacity="0.95"/>
<polyline points="105.0,144.0 110.0,146.0 116.0,149.0 122.0,147.0 128.0,150.0 134.0,152.0" fill="none" stroke="#111" stroke-width="0.5" opacity="0.95"/>
<polygon points="83.3,4.5 89.8,4.5 92.8,7.3 97.1,10.2 101.5,11.3 108.0,11.3 129.0,10.4 136.0,22.0 148.0,43.0 160.0,47.5 174.0,49.0 184.0,58.0 196.0,70.0 207.3,80.5 212.1,83.5 217.8,87.8 214.6,90.8 209.7,95.0 206.0,93.4 205.3,95.2 203.0,97.5 199.0,98.6 196.0,98.4 189.0,102.0 185.0,106.0 184.0,113.0 178.0,118.0 180.0,123.0 179.0,127.0 183.0,130.0 182.0,133.0 172.0,134.0 172.0,144.0 173.6,153.0 168.0,156.0 160.0,155.0 146.0,158.0 143.0,162.0 147.0,167.0 148.3,172.0 148.3,178.0 144.7,180.2 139.6,182.4 135.9,178.8 132.3,178.8 127.2,183.9 121.3,185.3 117.7,188.2 119.1,190.4 120.6,196.3 114.7,200.7 111.1,204.3 102.3,205.0 98.0,210.1 93.6,216.7 91.4,219.6 87.7,215.3 84.8,209.4 82.6,204.3 83.4,201.4 81.9,196.3 80.4,192.6 78.2,193.4 78.2,198.5 74.6,199.2 70.2,197.7 69.5,190.4 60.0,191.9 56.0,192.0 40.0,190.0 26.0,182.0 16.0,174.0 13.6,169.8 11.5,165.6 9.3,161.3 8.5,157.1 5.5,152.4 18.3,138.4 28.0,135.0 34.0,132.0 50.0,122.0 66.0,113.0 80.0,105.5 88.5,103.8 96.2,99.6 97.9,95.3 101.3,92.8 103.8,90.2 102.1,84.3 96.2,82.6 96.2,78.3 102.1,76.6 103.0,73.2 100.4,71.5 97.9,69.8 99.6,65.5 100.4,61.3 103.0,57.0 103.0,52.8 100.4,48.5 96.2,47.7 93.3,45.0 92.8,40.0 92.0,34.7 85.3,30.7 80.5,29.6 77.5,29.1 73.8,27.0 71.6,25.1 72.4,24.0 71.3,20.4 71.3,13.1 75.3,8.7" fill="none" stroke="#f0352b" stroke-width="1.15" stroke-linejoin="round"/>
<path d="M111.90,89.90L112.35,90.98L113.52,91.07L112.63,91.84L112.90,92.98L111.90,92.36L110.90,92.98L111.17,91.84L110.28,91.07L111.45,90.98ZM114.10,89.90L114.55,90.98L115.72,91.07L114.83,91.84L115.10,92.98L114.10,92.36L113.10,92.98L113.37,91.84L112.48,91.07L113.65,90.98ZM112.90,91.60L113.35,92.68L114.52,92.77L113.63,93.54L113.90,94.68L112.90,94.06L111.90,94.68L112.17,93.54L111.28,92.77L112.45,92.68ZM117.10,92.90L117.55,93.98L118.72,94.07L117.83,94.84L118.10,95.98L117.10,95.36L116.10,95.98L116.37,94.84L115.48,94.07L116.65,93.98ZM110.00,94.70L110.45,95.78L111.62,95.87L110.73,96.64L111.00,97.78L110.00,97.17L109.00,97.78L109.27,96.64L108.38,95.87L109.55,95.78ZM106.00,96.00L106.45,97.08L107.62,97.17L106.73,97.94L107.00,99.08L106.00,98.47L105.00,99.08L105.27,97.94L104.38,97.17L105.55,97.08ZM101.80,99.90L102.25,100.98L103.42,101.07L102.53,101.84L102.80,102.98L101.80,102.36L100.80,102.98L101.07,101.84L100.18,101.07L101.35,100.98ZM96.80,103.40L97.25,104.48L98.42,104.57L97.53,105.34L97.80,106.48L96.80,105.86L95.80,106.48L96.07,105.34L95.18,104.57L96.35,104.48ZM118.50,105.90L118.95,106.98L120.12,107.07L119.23,107.84L119.50,108.98L118.50,108.36L117.50,108.98L117.77,107.84L116.88,107.07L118.05,106.98ZM123.40,108.70L123.85,109.78L125.02,109.87L124.13,110.64L124.40,111.78L123.40,111.17L122.40,111.78L122.67,110.64L121.78,109.87L122.95,109.78ZM116.70,111.80L117.15,112.88L118.32,112.97L117.43,113.74L117.70,114.88L116.70,114.27L115.70,114.88L115.97,113.74L115.08,112.97L116.25,112.88ZM123.30,114.60L123.75,115.68L124.92,115.77L124.03,116.54L124.30,117.68L123.30,117.06L122.30,117.68L122.57,116.54L121.68,115.77L122.85,115.68ZM133.50,116.10L133.95,117.18L135.12,117.27L134.23,118.04L134.50,119.18L133.50,118.56L132.50,119.18L132.77,118.04L131.88,117.27L133.05,117.18ZM142.40,115.30L142.85,116.38L144.02,116.47L143.13,117.24L143.40,118.38L142.40,117.77L141.40,118.38L141.67,117.24L140.78,116.47L141.95,116.38ZM144.30,101.30L144.75,102.38L145.92,102.47L145.03,103.24L145.30,104.38L144.30,103.77L143.30,104.38L143.57,103.24L142.68,102.47L143.85,102.38ZM139.90,118.30L140.35,119.38L141.52,119.47L140.63,120.24L140.90,121.38L139.90,120.77L138.90,121.38L139.17,120.24L138.28,119.47L139.45,119.38ZM136.40,120.30L136.85,121.38L138.02,121.47L137.13,122.24L137.40,123.38L136.40,122.77L135.40,123.38L135.67,122.24L134.78,121.47L135.95,121.38ZM119.30,121.20L119.75,122.28L120.92,122.37L120.03,123.14L120.30,124.28L119.30,123.67L118.30,124.28L118.57,123.14L117.68,122.37L118.85,122.28ZM102.30,121.20L102.75,122.28L103.92,122.37L103.03,123.14L103.30,124.28L102.30,123.67L101.30,124.28L101.57,123.14L100.68,122.37L101.85,122.28ZM123.70,124.70L124.15,125.78L125.32,125.87L124.43,126.64L124.70,127.78L123.70,127.17L122.70,127.78L122.97,126.64L122.08,125.87L123.25,125.78ZM130.30,125.10L130.75,126.18L131.92,126.27L131.03,127.04L131.30,128.18L130.30,127.56L129.30,128.18L129.57,127.04L128.68,126.27L129.85,126.18ZM122.00,127.30L122.45,128.38L123.62,128.47L122.73,129.24L123.00,130.38L122.00,129.76L121.00,130.38L121.27,129.24L120.38,128.47L121.55,128.38ZM139.50,126.40L139.95,127.48L141.12,127.57L140.23,128.34L140.50,129.48L139.50,128.86L138.50,129.48L138.77,128.34L137.88,127.57L139.05,127.48ZM138.60,129.10L139.05,130.18L140.22,130.27L139.33,131.04L139.60,132.18L138.60,131.56L137.60,132.18L137.87,131.04L136.98,130.27L138.15,130.18ZM96.00,133.90L96.45,134.98L97.62,135.07L96.73,135.84L97.00,136.98L96.00,136.36L95.00,136.98L95.27,135.84L94.38,135.07L95.55,134.98ZM118.00,133.90L118.45,134.98L119.62,135.07L118.73,135.84L119.00,136.98L118.00,136.36L117.00,136.98L117.27,135.84L116.38,135.07L117.55,134.98ZM116.30,136.50L116.75,137.58L117.92,137.67L117.03,138.44L117.30,139.58L116.30,138.96L115.30,139.58L115.57,138.44L114.68,137.67L115.85,137.58ZM123.30,137.80L123.75,138.88L124.92,138.97L124.03,139.74L124.30,140.88L123.30,140.26L122.30,140.88L122.57,139.74L121.68,138.97L122.85,138.88ZM127.20,136.10L127.65,137.18L128.82,137.27L127.93,138.04L128.20,139.18L127.20,138.56L126.20,139.18L126.47,138.04L125.58,137.27L126.75,137.18ZM132.70,134.80L133.15,135.88L134.32,135.97L133.43,136.74L133.70,137.88L132.70,137.26L131.70,137.88L131.97,136.74L131.08,135.97L132.25,135.88ZM130.70,141.10L131.15,142.18L132.32,142.27L131.43,143.04L131.70,144.18L130.70,143.56L129.70,144.18L129.97,143.04L129.08,142.27L130.25,142.18ZM104.40,143.50L104.85,144.58L106.02,144.67L105.13,145.44L105.40,146.58L104.40,145.96L103.40,146.58L103.67,145.44L102.78,144.67L103.95,144.58ZM98.60,147.00L99.05,148.08L100.22,148.17L99.33,148.94L99.60,150.08L98.60,149.46L97.60,150.08L97.87,148.94L96.98,148.17L98.15,148.08ZM111.90,147.00L112.35,148.08L113.52,148.17L112.63,148.94L112.90,150.08L111.90,149.46L110.90,150.08L111.17,148.94L110.28,148.17L111.45,148.08ZM125.00,146.60L125.45,147.68L126.62,147.77L125.73,148.54L126.00,149.68L125.00,149.06L124.00,149.68L124.27,148.54L123.38,147.77L124.55,147.68ZM130.70,143.50L131.15,144.58L132.32,144.67L131.43,145.44L131.70,146.58L130.70,145.96L129.70,146.58L129.97,145.44L129.08,144.67L130.25,144.58ZM91.50,149.90L91.95,150.98L93.12,151.07L92.23,151.84L92.50,152.98L91.50,152.36L90.50,152.98L90.77,151.84L89.88,151.07L91.05,150.98ZM91.50,151.80L91.95,152.88L93.12,152.97L92.23,153.74L92.50,154.88L91.50,154.26L90.50,154.88L90.77,153.74L89.88,152.97L91.05,152.88ZM99.40,148.60L99.85,149.68L101.02,149.77L100.13,150.54L100.40,151.68L99.40,151.06L98.40,151.68L98.67,150.54L97.78,149.77L98.95,149.68ZM109.70,148.60L110.15,149.68L111.32,149.77L110.43,150.54L110.70,151.68L109.70,151.06L108.70,151.68L108.97,150.54L108.08,149.77L109.25,149.68ZM115.80,151.20L116.25,152.28L117.42,152.37L116.53,153.14L116.80,154.28L115.80,153.66L114.80,154.28L115.07,153.14L114.18,152.37L115.35,152.28ZM128.30,153.20L128.75,154.28L129.92,154.37L129.03,155.14L129.30,156.28L128.30,155.66L127.30,156.28L127.57,155.14L126.68,154.37L127.85,154.28ZM138.80,156.40L139.25,157.48L140.42,157.57L139.53,158.34L139.80,159.48L138.80,158.86L137.80,159.48L138.07,158.34L137.18,157.57L138.35,157.48ZM138.80,160.40L139.25,161.48L140.42,161.57L139.53,162.34L139.80,163.48L138.80,162.86L137.80,163.48L138.07,162.34L137.18,161.57L138.35,161.48ZM114.50,166.30L114.95,167.38L116.12,167.47L115.23,168.24L115.50,169.38L114.50,168.76L113.50,169.38L113.77,168.24L112.88,167.47L114.05,167.38ZM140.80,169.60L141.25,170.68L142.42,170.77L141.53,171.54L141.80,172.68L140.80,172.06L139.80,172.68L140.07,171.54L139.18,170.77L140.35,170.68ZM139.90,174.80L140.35,175.88L141.52,175.97L140.63,176.74L140.90,177.88L139.90,177.26L138.90,177.88L139.17,176.74L138.28,175.97L139.45,175.88ZM89.60,182.10L90.05,183.18L91.22,183.27L90.33,184.04L90.60,185.18L89.60,184.56L88.60,185.18L88.87,184.04L87.98,183.27L89.15,183.18ZM102.70,182.50L103.15,183.58L104.32,183.67L103.43,184.44L103.70,185.58L102.70,184.96L101.70,185.58L101.97,184.44L101.08,183.67L102.25,183.58ZM117.20,181.70L117.65,182.78L118.82,182.87L117.93,183.64L118.20,184.78L117.20,184.16L116.20,184.78L116.47,183.64L115.58,182.87L116.75,182.78ZM100.10,189.60L100.55,190.68L101.72,190.77L100.83,191.54L101.10,192.68L100.10,192.06L99.10,192.68L99.37,191.54L98.48,190.77L99.65,190.68ZM93.50,191.30L93.95,192.38L95.12,192.47L94.23,193.24L94.50,194.38L93.50,193.76L92.50,194.38L92.77,193.24L91.88,192.47L93.05,192.38ZM91.50,195.90L91.95,196.98L93.12,197.07L92.23,197.84L92.50,198.98L91.50,198.36L90.50,198.98L90.77,197.84L89.88,197.07L91.05,196.98ZM106.00,194.50L106.45,195.58L107.62,195.67L106.73,196.44L107.00,197.58L106.00,196.96L105.00,197.58L105.27,196.44L104.38,195.67L105.55,195.58ZM79.70,165.00L80.15,166.08L81.32,166.17L80.43,166.94L80.70,168.08L79.70,167.46L78.70,168.08L78.97,166.94L78.08,166.17L79.25,166.08ZM72.50,165.00L72.95,166.08L74.12,166.17L73.23,166.94L73.50,168.08L72.50,167.46L71.50,168.08L71.77,166.94L70.88,166.17L72.05,166.08ZM71.20,167.00L71.65,168.08L72.82,168.17L71.93,168.94L72.20,170.08L71.20,169.46L70.20,170.08L70.47,168.94L69.58,168.17L70.75,168.08ZM69.90,168.30L70.35,169.38L71.52,169.47L70.63,170.24L70.90,171.38L69.90,170.76L68.90,171.38L69.17,170.24L68.28,169.47L69.45,169.38ZM67.90,170.90L68.35,171.98L69.52,172.07L68.63,172.84L68.90,173.98L67.90,173.36L66.90,173.98L67.17,172.84L66.28,172.07L67.45,171.98ZM73.80,170.30L74.25,171.38L75.42,171.47L74.53,172.24L74.80,173.38L73.80,172.76L72.80,173.38L73.07,172.24L72.18,171.47L73.35,171.38ZM71.80,168.90L72.25,169.98L73.42,170.07L72.53,170.84L72.80,171.98L71.80,171.36L70.80,171.98L71.07,170.84L70.18,170.07L71.35,169.98ZM103.00,36.90L103.45,37.98L104.62,38.07L103.73,38.84L104.00,39.98L103.00,39.37L102.00,39.98L102.27,38.84L101.38,38.07L102.55,37.98ZM107.40,34.30L107.85,35.38L109.02,35.47L108.13,36.24L108.40,37.38L107.40,36.77L106.40,37.38L106.67,36.24L105.78,35.47L106.95,35.38ZM110.40,34.70L110.85,35.78L112.02,35.87L111.13,36.64L111.40,37.78L110.40,37.16L109.40,37.78L109.67,36.64L108.78,35.87L109.95,35.78ZM110.00,40.90L110.45,41.98L111.62,42.07L110.73,42.84L111.00,43.98L110.00,43.37L109.00,43.98L109.27,42.84L108.38,42.07L109.55,41.98ZM107.60,45.90L108.05,46.98L109.22,47.07L108.33,47.84L108.60,48.98L107.60,48.37L106.60,48.98L106.87,47.84L105.98,47.07L107.15,46.98ZM109.20,51.30L109.65,52.38L110.82,52.47L109.93,53.24L110.20,54.38L109.20,53.77L108.20,54.38L108.47,53.24L107.58,52.47L108.75,52.38ZM124.40,46.70L124.85,47.78L126.02,47.87L125.13,48.64L125.40,49.78L124.40,49.16L123.40,49.78L123.67,48.64L122.78,47.87L123.95,47.78ZM128.00,44.70L128.45,45.78L129.62,45.87L128.73,46.64L129.00,47.78L128.00,47.16L127.00,47.78L127.27,46.64L126.38,45.87L127.55,45.78ZM134.40,48.30L134.85,49.38L136.02,49.47L135.13,50.24L135.40,51.38L134.40,50.77L133.40,51.38L133.67,50.24L132.78,49.47L133.95,49.38ZM105.60,65.90L106.05,66.98L107.22,67.07L106.33,67.84L106.60,68.98L105.60,68.36L104.60,68.98L104.87,67.84L103.98,67.07L105.15,66.98ZM139.60,61.10L140.05,62.18L141.22,62.27L140.33,63.04L140.60,64.18L139.60,63.56L138.60,64.18L138.87,63.04L137.98,62.27L139.15,62.18ZM156.20,61.10L156.65,62.18L157.82,62.27L156.93,63.04L157.20,64.18L156.20,63.56L155.20,64.18L155.47,63.04L154.58,62.27L155.75,62.18ZM164.20,67.30L164.65,68.38L165.82,68.47L164.93,69.24L165.20,70.38L164.20,69.77L163.20,70.38L163.47,69.24L162.58,68.47L163.75,68.38ZM164.20,71.70L164.65,72.78L165.82,72.87L164.93,73.64L165.20,74.78L164.20,74.17L163.20,74.78L163.47,73.64L162.58,72.87L163.75,72.78ZM156.20,87.90L156.65,88.98L157.82,89.07L156.93,89.84L157.20,90.98L156.20,90.36L155.20,90.98L155.47,89.84L154.58,89.07L155.75,88.98ZM163.60,86.30L164.05,87.38L165.22,87.47L164.33,88.24L164.60,89.38L163.60,88.77L162.60,89.38L162.87,88.24L161.98,87.47L163.15,87.38ZM119.00,112.30L119.45,113.38L120.62,113.47L119.73,114.24L120.00,115.38L119.00,114.77L118.00,115.38L118.27,114.24L117.38,113.47L118.55,113.38ZM159.60,116.30L160.05,117.38L161.22,117.47L160.33,118.24L160.60,119.38L159.60,118.77L158.60,119.38L158.87,118.24L157.98,117.47L159.15,117.38ZM168.00,119.30L168.45,120.38L169.62,120.47L168.73,121.24L169.00,122.38L168.00,121.77L167.00,122.38L167.27,121.24L166.38,120.47L167.55,120.38ZM82.40,107.70L82.85,108.78L84.02,108.87L83.13,109.64L83.40,110.78L82.40,110.17L81.40,110.78L81.67,109.64L80.78,108.87L81.95,108.78ZM84.00,117.30L84.45,118.38L85.62,118.47L84.73,119.24L85.00,120.38L84.00,119.77L83.00,120.38L83.27,119.24L82.38,118.47L83.55,118.38ZM67.00,119.30L67.45,120.38L68.62,120.47L67.73,121.24L68.00,122.38L67.00,121.77L66.00,122.38L66.27,121.24L65.38,120.47L66.55,120.38ZM66.00,124.30L66.45,125.38L67.62,125.47L66.73,126.24L67.00,127.38L66.00,126.77L65.00,127.38L65.27,126.24L64.38,125.47L65.55,125.38ZM73.60,127.70L74.05,128.78L75.22,128.87L74.33,129.64L74.60,130.78L73.60,130.16L72.60,130.78L72.87,129.64L71.98,128.87L73.15,128.78ZM79.00,138.30L79.45,139.38L80.62,139.47L79.73,140.24L80.00,141.38L79.00,140.76L78.00,141.38L78.27,140.24L77.38,139.47L78.55,139.38ZM88.00,137.90L88.45,138.98L89.62,139.07L88.73,139.84L89.00,140.98L88.00,140.36L87.00,140.98L87.27,139.84L86.38,139.07L87.55,138.98ZM109.00,121.30L109.45,122.38L110.62,122.47L109.73,123.24L110.00,124.38L109.00,123.77L108.00,124.38L108.27,123.24L107.38,122.47L108.55,122.38ZM128.00,125.30L128.45,126.38L129.62,126.47L128.73,127.24L129.00,128.38L128.00,127.77L127.00,128.38L127.27,127.24L126.38,126.47L127.55,126.38ZM118.00,136.30L118.45,137.38L119.62,137.47L118.73,138.24L119.00,139.38L118.00,138.76L117.00,139.38L117.27,138.24L116.38,137.47L117.55,137.38ZM137.00,135.30L137.45,136.38L138.62,136.47L137.73,137.24L138.00,138.38L137.00,137.76L136.00,138.38L136.27,137.24L135.38,136.47L136.55,136.38ZM54.00,156.30L54.45,157.38L55.62,157.47L54.73,158.24L55.00,159.38L54.00,158.76L53.00,159.38L53.27,158.24L52.38,157.47L53.55,157.38ZM75.00,163.30L75.45,164.38L76.62,164.47L75.73,165.24L76.00,166.38L75.00,165.76L74.00,166.38L74.27,165.24L73.38,164.47L74.55,164.38ZM77.00,138.30L77.45,139.38L78.62,139.47L77.73,140.24L78.00,141.38L77.00,140.76L76.00,141.38L76.27,140.24L75.38,139.47L76.55,139.38ZM97.00,199.30L97.45,200.38L98.62,200.47L97.73,201.24L98.00,202.38L97.00,201.76L96.00,202.38L96.27,201.24L95.38,200.47L96.55,200.38ZM112.00,198.90L112.45,199.98L113.62,200.07L112.73,200.84L113.00,201.98L112.00,201.36L111.00,201.98L111.27,200.84L110.38,200.07L111.55,199.98ZM90.00,208.90L90.45,209.98L91.62,210.07L90.73,210.84L91.00,211.98L90.00,211.36L89.00,211.98L89.27,210.84L88.38,210.07L89.55,209.98ZM95.00,207.30L95.45,208.38L96.62,208.47L95.73,209.24L96.00,210.38L95.00,209.76L94.00,210.38L94.27,209.24L93.38,208.47L94.55,208.38ZM109.00,145.30L109.45,146.38L110.62,146.47L109.73,147.24L110.00,148.38L109.00,147.76L108.00,148.38L108.27,147.24L107.38,146.47L108.55,146.38ZM151.00,136.90L151.45,137.98L152.62,138.07L151.73,138.84L152.00,139.98L151.00,139.36L150.00,139.98L150.27,138.84L149.38,138.07L150.55,137.98ZM162.00,150.90L162.45,151.98L163.62,152.07L162.73,152.84L163.00,153.98L162.00,153.36L161.00,153.98L161.27,152.84L160.38,152.07L161.55,151.98ZM151.00,125.90L151.45,126.98L152.62,127.07L151.73,127.84L152.00,128.98L151.00,128.36L150.00,128.98L150.27,127.84L149.38,127.07L150.55,126.98ZM163.60,128.30L164.05,129.38L165.22,129.47L164.33,130.24L164.60,131.38L163.60,130.76L162.60,131.38L162.87,130.24L161.98,129.47L163.15,129.38ZM171.00,130.90L171.45,131.98L172.62,132.07L171.73,132.84L172.00,133.98L171.00,133.36L170.00,133.98L170.27,132.84L169.38,132.07L170.55,131.98ZM123.00,131.30L123.45,132.38L124.62,132.47L123.73,133.24L124.00,134.38L123.00,133.76L122.00,134.38L122.27,133.24L121.38,132.47L122.55,132.38ZM84.00,129.30L84.45,130.38L85.62,130.47L84.73,131.24L85.00,132.38L84.00,131.76L83.00,132.38L83.27,131.24L82.38,130.47L83.55,130.38ZM113.00,94.30L113.45,95.38L114.62,95.47L113.73,96.24L114.00,97.38L113.00,96.77L112.00,97.38L112.27,96.24L111.38,95.47L112.55,95.38ZM121.00,134.30L121.45,135.38L122.62,135.47L121.73,136.24L122.00,137.38L121.00,136.76L120.00,137.38L120.27,136.24L119.38,135.47L120.55,135.38ZM126.00,129.30L126.45,130.38L127.62,130.47L126.73,131.24L127.00,132.38L126.00,131.76L125.00,132.38L125.27,131.24L124.38,130.47L125.55,130.38ZM120.00,129.30L120.45,130.38L121.62,130.47L120.73,131.24L121.00,132.38L120.00,131.76L119.00,132.38L119.27,131.24L118.38,130.47L119.55,130.38ZM118.00,128.30L118.45,129.38L119.62,129.47L118.73,130.24L119.00,131.38L118.00,130.76L117.00,131.38L117.27,130.24L116.38,129.47L117.55,129.38Z" fill="#0a0a0a"/>
<text x="111.0" y="30.2" font-family="'Liberation Serif','Noto Serif CJK SC',serif" font-size="4.6" text-anchor="middle" fill="#111" stroke="#111" stroke-width="0.08" textLength="29.4" lengthAdjust="spacing">Zhangjiagang</text>
<text x="133.5" y="70.6" font-family="'Liberation Serif','Noto Serif CJK SC',serif" font-size="4.6" text-anchor="middle" fill="#111" stroke="#111" stroke-width="0.08" textLength="19.6" lengthAdjust="spacing">Changshu</text>
<text x="186.5" y="87.6" font-family="'Liberation Serif','Noto Serif CJK SC',serif" font-size="4.6" text-anchor="middle" fill="#111" stroke="#111" stroke-width="0.08" textLength="17.2" lengthAdjust="spacing">Taicang</text>
<text x="161.0" y="127.6" font-family="'Liberation Serif','Noto Serif CJK SC',serif" font-size="4.6" text-anchor="middle" fill="#111" stroke="#111" stroke-width="0.08" textLength="17.2" lengthAdjust="spacing">Kunshan</text>
<text x="110.5" y="107.6" font-family="'Liberation Serif','Noto Serif CJK SC',serif" font-size="4.6" text-anchor="middle" fill="#111" stroke="#111" stroke-width="0.08" textLength="24.5" lengthAdjust="spacing">Xiangcheng</text>
<text x="75.5" y="122.2" font-family="'Liberation Serif','Noto Serif CJK SC',serif" font-size="4.6" text-anchor="middle" fill="#111" stroke="#111" stroke-width="0.08" textLength="12.2" lengthAdjust="spacing">Huqiu</text>
<text x="105.0" y="128.6" font-family="'Liberation Serif','Noto Serif CJK SC',serif" font-size="4.6" text-anchor="middle" fill="#111" stroke="#111" stroke-width="0.08" textLength="9.8" lengthAdjust="spacing">Gusu</text>
<text x="113.5" y="123.6" font-family="'Liberation Serif','Noto Serif CJK SC',serif" font-size="4.6" text-anchor="middle" fill="#111" stroke="#111" stroke-width="0.08" textLength="7.4" lengthAdjust="spacing">SIP</text>
<text x="126.0" y="136" font-family="'Liberation Serif','Noto Serif CJK SC',serif" font-size="4.6" text-anchor="middle" fill="#111" stroke="#111" stroke-width="0.08" textLength="17.2" lengthAdjust="spacing">Wuzhong</text>
<text x="55.0" y="153.6" font-family="'Liberation Serif','Noto Serif CJK SC',serif" font-size="4.6" text-anchor="middle" fill="#111" stroke="#111" stroke-width="0.08" textLength="17.2" lengthAdjust="spacing">Wuzhong</text>
<text x="117.5" y="176" font-family="'Liberation Serif','Noto Serif CJK SC',serif" font-size="4.6" text-anchor="middle" fill="#111" stroke="#111" stroke-width="0.08" textLength="17.2" lengthAdjust="spacing">Wujiang</text>
</g>
<text x="235.4" y="9.9" font-family="'Liberation Serif','Noto Serif CJK SC',serif" font-size="6.2" fill="#111" textLength="17.8" lengthAdjust="spacingAndGlyphs">Legend</text>
<path d="M241.30,15.90L241.78,17.04L243.01,17.14L242.07,17.95L242.36,19.16L241.30,18.51L240.24,19.16L240.53,17.95L239.59,17.14L240.82,17.04Z" fill="#0a0a0a"/>
<text x="249.4" y="18.9" font-family="'Liberation Serif','Noto Serif CJK SC',serif" font-size="4.4" fill="#222" stroke="#222" stroke-width="0.12" textLength="43" lengthAdjust="spacing">Traditional villages</text>
<text x="235.4" y="27.45" font-family="'Liberation Serif','Noto Serif CJK SC',serif" font-size="5.4" fill="#2a2a2a" textLength="27" lengthAdjust="spacing">Slope (° )</text>
<rect x="235.2" y="30.40" width="12.7" height="5.8" fill="#52a794" stroke="#707070" stroke-width="0.6"/>
<text x="250.3" y="34.90" font-family="'Liberation Serif','Noto Serif CJK SC',serif" font-size="4.3" fill="#444" textLength="2.1" lengthAdjust="spacing">0</text>
<rect x="235.2" y="38.43" width="12.7" height="5.8" fill="#86b3a4" stroke="#707070" stroke-width="0.6"/>
<text x="250.3" y="42.93" font-family="'Liberation Serif','Noto Serif CJK SC',serif" font-size="4.3" fill="#444" textLength="10.6" lengthAdjust="spacing">0-0.5</text>
<rect x="235.2" y="46.46" width="12.7" height="5.8" fill="#bccdba" stroke="#707070" stroke-width="0.6"/>
<text x="250.3" y="50.96" font-family="'Liberation Serif','Noto Serif CJK SC',serif" font-size="4.3" fill="#444" textLength="10.6" lengthAdjust="spacing">0.5-1</text>
<rect x="235.2" y="54.49" width="12.7" height="5.8" fill="#eef3b7" stroke="#707070" stroke-width="0.6"/>
<text x="250.3" y="58.99" font-family="'Liberation Serif','Noto Serif CJK SC',serif" font-size="4.3" fill="#444" textLength="10.6" lengthAdjust="spacing">1-1.5</text>
<rect x="235.2" y="62.52" width="12.7" height="5.8" fill="#eeb17e" stroke="#707070" stroke-width="0.6"/>
<text x="250.3" y="67.02" font-family="'Liberation Serif','Noto Serif CJK SC',serif" font-size="4.3" fill="#444" textLength="8.5" lengthAdjust="spacing">1-10</text>
<rect x="235.2" y="70.55" width="12.7" height="5.8" fill="#e36a4d" stroke="#707070" stroke-width="0.6"/>
<text x="250.3" y="75.05" font-family="'Liberation Serif','Noto Serif CJK SC',serif" font-size="4.3" fill="#444" textLength="10.6" lengthAdjust="spacing">10-20</text>
<rect x="235.2" y="78.58" width="12.7" height="5.8" fill="#d4312c" stroke="#707070" stroke-width="0.6"/>
<text x="250.3" y="83.08" font-family="'Liberation Serif','Noto Serif CJK SC',serif" font-size="4.3" fill="#444" textLength="10.6" lengthAdjust="spacing">20-58</text>
<text x="442.2" y="13.2" font-family="'Liberation Sans','Noto Sans CJK SC',sans-serif" font-size="6.3" text-anchor="middle" fill="#111" stroke="#111" stroke-width="0.15">N</text>
<path d="M442.20000000000005,14.2 L437.6,29.4 L442.6,24.4 Z" fill="#000"/>
<path d="M442.20000000000005,14.2 L446.80000000000007,29.4 L442.6,24.4 Z" fill="#fff" stroke="#000" stroke-width="0.45" stroke-linejoin="round"/>
<text y="207.3" font-family="'Liberation Sans','Noto Sans CJK SC',sans-serif" font-size="7.5" fill="#111" stroke="#111" stroke-width="0.12"><tspan x="395.1">0</tspan><tspan x="403.2">5</tspan><tspan x="408.7">10</tspan><tspan x="423.4">20</tspan><tspan x="434.3">km</tspan></text>
<path d="M396.70000000000005,216.4 H428.00000000000006 M396.70,216.4 V211.2 M400.61,216.4 V213.3 M404.52,216.4 V213.3 M408.43,216.4 V213.3 M412.34,216.4 V211.2 M416.25,216.4 V213.3 M420.16,216.4 V213.3 M424.07,216.4 V213.3 M427.98,216.4 V211.2" fill="none" stroke="#111" stroke-width="0.8"/>
</g>
<g id="map2">
<rect x="462.2" y="1.5" width="221.1" height="220.9" fill="#fff" stroke="#2a2a2a" stroke-width="1"/>
<filter id="tex2" x="0" y="0" width="100%" height="100%" color-interpolation-filters="sRGB">
<feTurbulence type="fractalNoise" baseFrequency="0.9" numOctaves="2" seed="7" result="n"/>
<feColorMatrix in="n" type="matrix" values="0.75 0 0 0 0.241  0 0.75 0 0 0.284  0 0 0.75 0 0.237  0 0 0 0 1" result="c"/>
<feComposite in="c" in2="SourceGraphic" operator="in"/>
</filter>
<g transform="translate(460.1,-0.5)">
<clipPath id="clip2"><polygon points="83.3,4.5 89.8,4.5 92.8,7.3 97.1,10.2 101.5,11.3 108.0,11.3 129.0,10.4 136.0,22.0 148.0,43.0 160.0,47.5 174.0,49.0 184.0,58.0 196.0,70.0 207.3,80.5 212.1,83.5 217.8,87.8 214.6,90.8 209.7,95.0 206.0,93.4 205.3,95.2 203.0,97.5 199.0,98.6 196.0,98.4 189.0,102.0 185.0,106.0 184.0,113.0 178.0,118.0 180.0,123.0 179.0,127.0 183.0,130.0 182.0,133.0 172.0,134.0 172.0,144.0 173.6,153.0 168.0,156.0 160.0,155.0 146.0,158.0 143.0,162.0 147.0,167.0 148.3,172.0 148.3,178.0 144.7,180.2 139.6,182.4 135.9,178.8 132.3,178.8 127.2,183.9 121.3,185.3 117.7,188.2 119.1,190.4 120.6,196.3 114.7,200.7 111.1,204.3 102.3,205.0 98.0,210.1 93.6,216.7 91.4,219.6 87.7,215.3 84.8,209.4 82.6,204.3 83.4,201.4 81.9,196.3 80.4,192.6 78.2,193.4 78.2,198.5 74.6,199.2 70.2,197.7 69.5,190.4 60.0,191.9 56.0,192.0 40.0,190.0 26.0,182.0 16.0,174.0 13.6,169.8 11.5,165.6 9.3,161.3 8.5,157.1 5.5,152.4 18.3,138.4 28.0,135.0 34.0,132.0 50.0,122.0 66.0,113.0 80.0,105.5 88.5,103.8 96.2,99.6 97.9,95.3 101.3,92.8 103.8,90.2 102.1,84.3 96.2,82.6 96.2,78.3 102.1,76.6 103.0,73.2 100.4,71.5 97.9,69.8 99.6,65.5 100.4,61.3 103.0,57.0 103.0,52.8 100.4,48.5 96.2,47.7 93.3,45.0 92.8,40.0 92.0,34.7 85.3,30.7 80.5,29.6 77.5,29.1 73.8,27.0 71.6,25.1 72.4,24.0 71.3,20.4 71.3,13.1 75.3,8.7"/></clipPath>
<polygon points="83.3,4.5 89.8,4.5 92.8,7.3 97.1,10.2 101.5,11.3 108.0,11.3 129.0,10.4 136.0,22.0 148.0,43.0 160.0,47.5 174.0,49.0 184.0,58.0 196.0,70.0 207.3,80.5 212.1,83.5 217.8,87.8 214.6,90.8 209.7,95.0 206.0,93.4 205.3,95.2 203.0,97.5 199.0,98.6 196.0,98.4 189.0,102.0 185.0,106.0 184.0,113.0 178.0,118.0 180.0,123.0 179.0,127.0 183.0,130.0 182.0,133.0 172.0,134.0 172.0,144.0 173.6,153.0 168.0,156.0 160.0,155.0 146.0,158.0 143.0,162.0 147.0,167.0 148.3,172.0 148.3,178.0 144.7,180.2 139.6,182.4 135.9,178.8 132.3,178.8 127.2,183.9 121.3,185.3 117.7,188.2 119.1,190.4 120.6,196.3 114.7,200.7 111.1,204.3 102.3,205.0 98.0,210.1 93.6,216.7 91.4,219.6 87.7,215.3 84.8,209.4 82.6,204.3 83.4,201.4 81.9,196.3 80.4,192.6 78.2,193.4 78.2,198.5 74.6,199.2 70.2,197.7 69.5,190.4 60.0,191.9 56.0,192.0 40.0,190.0 26.0,182.0 16.0,174.0 13.6,169.8 11.5,165.6 9.3,161.3 8.5,157.1 5.5,152.4 18.3,138.4 28.0,135.0 34.0,132.0 50.0,122.0 66.0,113.0 80.0,105.5 88.5,103.8 96.2,99.6 97.9,95.3 101.3,92.8 103.8,90.2 102.1,84.3 96.2,82.6 96.2,78.3 102.1,76.6 103.0,73.2 100.4,71.5 97.9,69.8 99.6,65.5 100.4,61.3 103.0,57.0 103.0,52.8 100.4,48.5 96.2,47.7 93.3,45.0 92.8,40.0 92.0,34.7 85.3,30.7 80.5,29.6 77.5,29.1 73.8,27.0 71.6,25.1 72.4,24.0 71.3,20.4 71.3,13.1 75.3,8.7" fill="#9da89c" filter="url(#tex2)"/>
<g clip-path="url(#clip2)">
<polygon points="71.3,13.1 75.3,8.7 83.3,4.5 89.8,4.5 92.8,7.3 97.1,10.2 101.5,11.3 108.0,11.3 129.0,10.4 136.0,22.0 148.0,43.0 160.0,47.5 174.0,49.0 184.0,58.0 196.0,70.0 207.3,80.5 212.1,83.5 217.8,87.8 214.6,90.8 209.7,95.0 206.0,93.4 205.0,89.0 200.0,83.0 192.0,76.0 184.0,67.0 178.0,59.0 175.0,54.0 168.0,55.5 160.0,52.0 152.0,49.0 143.0,44.5 138.0,40.0 134.0,30.0 130.0,22.0 126.0,13.8 110.0,13.6 104.4,13.5 97.1,12.4 93.5,10.9 89.8,9.5 84.0,8.7 82.6,11.0 82.6,17.8 76.0,18.0 71.3,18.2" fill="#cdeef2"/>
<polygon points="80.0,105.5 66.0,113.0 50.0,122.0 34.0,132.0 28.0,135.0 18.3,138.4 5.5,152.4 8.5,157.1 9.3,161.3 11.5,165.6 13.6,169.8 16.0,174.0 26.0,182.0 40.0,190.0 56.0,192.0 60.0,191.9 69.5,190.4 73.1,187.0 79.7,181.8 86.3,175.2 92.9,167.3 98.1,160.8 104.7,154.2 108.0,149.0 104.0,146.0 97.0,146.0 90.0,146.0 84.0,143.0 78.0,141.0 72.0,137.0 66.0,133.0 62.0,128.0 63.0,122.0 66.0,118.0 70.0,116.0 78.0,114.0 84.0,110.0 86.0,106.0" fill="#cdeef2"/>
<filter id="rough2" x="-5%" y="-5%" width="110%" height="110%"><feTurbulence type="fractalNoise" baseFrequency="0.18" numOctaves="2" seed="13" result="t"/><feDisplacementMap in="SourceGraphic" in2="t" scale="5" xChannelSelector="R" yChannelSelector="G"/></filter>
<g filter="url(#rough2)" opacity="0.8">
<ellipse cx="127.0" cy="103" rx="3.5" ry="7" transform="rotate(10 127.0 103)" fill="#cdeef2"/>
<ellipse cx="132.5" cy="106" rx="3.5" ry="10" transform="rotate(0 132.5 106)" fill="#cdeef2"/>
<ellipse cx="136.0" cy="104" rx="1.5" ry="6" transform="rotate(0 136.0 104)" fill="#cdeef2"/>
<ellipse cx="129.0" cy="114" rx="5" ry="3" transform="rotate(0 129.0 114)" fill="#cdeef2"/>
<ellipse cx="120.5" cy="114" rx="4.5" ry="3.5" transform="rotate(-30 120.5 114)" fill="#cdeef2"/>
<ellipse cx="101.5" cy="98" rx="3.8" ry="1.8" transform="rotate(0 101.5 98)" fill="#cdeef2"/>
<ellipse cx="128.0" cy="84.5" rx="4" ry="2.2" transform="rotate(0 128.0 84.5)" fill="#cdeef2"/>
<ellipse cx="125.5" cy="80.5" rx="2.5" ry="5" transform="rotate(10 125.5 80.5)" fill="#cdeef2"/>
<ellipse cx="118.0" cy="127.5" rx="2.2" ry="2.2" transform="rotate(0 118.0 127.5)" fill="#cdeef2"/>
<ellipse cx="138.0" cy="142.5" rx="5.5" ry="4.8" transform="rotate(0 138.0 142.5)" fill="#cdeef2"/>
<ellipse cx="104.0" cy="149" rx="3.5" ry="2" transform="rotate(0 104.0 149)" fill="#cdeef2"/>
</g>
<polygon points="72.6,14.8 75.5,11.6 79.5,9.6 81.4,10.0 81.4,15.6 72.6,15.8" fill="#9da89c" filter="url(#tex2)"/>
<path d="M215.0,90.4L212.8,91.6M212.8,91.6L213.0,92.2M106.7,152.0L110.3,157.6M110.3,157.6L104.7,159.5L99.1,160.5M93.8,101.1L93.8,100.9M93.8,101.1L96.1,102.9L97.1,104.5M97.1,104.5L103.7,94.5L111.3,84.0M111.3,84.0L103.1,87.8M138.2,108.1L138.4,106.6L139.6,105.8M138.2,108.1L143.6,108.6L147.7,109.0M147.7,109.0L146.2,105.8L143.9,103.8M139.6,105.8L141.7,104.6L143.9,103.8M70.3,197.7L73.7,195.1M77.0,198.7L76.1,196.3M73.7,195.1L75.4,195.5L76.1,196.3M93.8,206.3L93.2,206.8L93.5,206.5M93.8,206.3L96.8,204.7L100.0,203.2M93.5,206.5L91.6,210.1L88.8,212.1M100.0,203.2L101.9,205.5M88.8,212.1L87.3,214.4M100.0,203.2L102.0,200.2L102.9,196.0M102.9,196.0L110.9,196.3L118.5,197.3M118.7,197.7L118.5,197.3M93.1,205.3L93.8,206.4L93.5,206.5M93.1,205.3L92.1,200.0L92.5,194.8M93.8,206.3L94.4,200.3L94.7,194.2M92.5,194.8L92.8,194.9L94.7,194.2M86.3,106.6L87.4,105.8L92.4,101.7M82.5,111.6L83.9,112.7M93.8,101.1L93.4,101.1M97.1,104.5L97.8,105.1L97.7,105.2M99.4,112.7L98.6,108.8L97.7,105.2M99.4,112.7L96.6,115.1L93.1,117.4M83.9,112.7L88.6,114.4L93.1,117.4M73.7,195.1L71.9,191.4L71.0,189.6M84.1,178.1L89.1,174.6M87.7,174.3L88.2,174.2M88.2,174.2L88.5,174.3L89.1,174.6M148.3,176.8L146.9,176.6L143.9,174.8M145.8,156.4L144.2,159.6L144.0,160.7M145.8,156.4L147.6,157.7M143.9,174.8L143.1,172.5L142.9,169.4M143.6,162.8L143.1,166.0L142.9,169.4M106.2,147.0L109.4,147.0L114.7,145.8M114.7,145.8L116.1,150.4L118.3,154.1M110.3,157.6L110.2,157.7L110.7,157.9M118.3,154.1L115.1,156.3L110.7,157.9M138.3,112.4L137.4,117.6L135.5,122.4M138.3,112.4L140.4,113.5L142.2,113.1M135.5,122.4L142.4,123.5L150.2,123.5M142.2,113.1L146.4,118.9L150.2,123.5M120.4,124.3L116.7,131.4L111.4,139.2M120.4,124.3L121.1,123.8L120.4,124.3M120.4,124.3L121.4,129.3L122.7,132.9M122.7,132.9L120.2,137.1L118.8,142.0M111.4,139.2L114.5,141.0L116.3,143.1M118.8,142.0L117.6,142.2L116.3,143.1M100.5,142.4L102.7,136.2L104.8,130.0M100.5,142.4L106.7,140.7L111.4,139.2M104.8,130.0L109.2,125.0L112.1,120.3M116.8,120.5L113.8,120.6L112.1,120.3M116.8,120.5L118.7,122.9L120.4,124.3M114.7,145.8L115.6,145.0L116.3,143.1M118.3,154.1L123.6,154.6L128.7,153.9M128.7,153.9L123.7,148.0L118.8,142.0M101.7,145.5L101.3,145.2L100.4,143.8M100.5,142.4L100.4,142.0L100.4,142.6M100.4,143.8L100.7,143.8L100.4,142.6M172.0,137.8L170.0,139.9L164.0,144.8M164.0,144.8L170.4,148.1L172.9,149.3M169.9,110.9L169.8,117.0L169.5,123.3M169.9,110.9L165.9,108.8L163.3,105.3M169.5,123.3L163.2,120.4L156.5,116.4M156.7,111.4L156.6,113.3L156.5,116.4M156.7,111.4L156.8,110.8L157.6,109.7M163.3,105.3L161.1,107.7L157.6,109.7M147.7,109.0L149.0,110.1L149.0,110.0M143.9,103.8L145.4,99.9L147.5,97.2M149.0,110.0L153.1,111.1L156.7,111.4M157.6,109.7L152.6,103.9L147.5,97.2M212.8,91.6L210.8,89.5L210.5,88.4M203.4,97.1L202.9,95.0L200.1,88.9M200.1,88.9L205.0,88.6L210.5,88.4M212.7,83.9L211.5,85.3M207.0,80.2L207.7,81.7L211.5,85.3M210.5,88.4L210.3,87.1L211.5,85.3M116.0,11.0L115.6,11.8L114.8,13.6M114.8,13.6L123.8,18.8L133.7,22.5M133.7,22.5L135.6,21.3M137.8,63.6L142.8,64.7L147.1,65.8M137.8,63.6L135.9,55.5L134.0,46.3M134.0,46.3L136.3,46.2L137.5,46.7M137.5,46.7L142.5,56.1L147.6,65.0M147.6,65.0L147.4,65.8L147.1,65.8M133.0,64.1L131.5,68.4L131.5,71.9M133.0,64.1L135.0,63.2L137.8,63.6M146.9,67.2L146.8,66.7L147.1,65.8M146.9,67.2L142.3,69.2L137.6,72.8M131.5,71.9L132.3,71.9L133.5,73.0M137.6,72.8L135.8,72.5L133.5,73.0M131.5,45.7L129.6,48.9L128.6,51.7M131.5,45.7L132.6,46.4L134.0,46.3M133.0,64.1L130.6,62.2L128.5,60.5M128.5,60.5L128.3,56.1L128.6,51.7M137.6,72.8L138.8,74.4L138.4,76.4M133.5,73.0L133.2,77.2L134.3,82.5M134.3,82.5L136.2,80.0L138.4,76.4M149.0,73.7L147.8,71.0L146.9,67.2M149.0,73.7L146.3,77.8L144.3,81.2M144.3,81.2L140.8,79.3L138.4,76.4M127.3,32.1L121.0,30.4L114.4,28.6M127.3,32.1L130.0,27.8L133.7,22.5M114.5,13.7L114.8,14.0L114.8,13.6M114.5,13.7L114.9,14.3L113.8,14.4M113.8,14.4L114.2,14.1L113.7,14.7M114.4,28.6L113.6,21.0L113.7,14.7M131.5,71.9L128.4,72.1L125.1,73.5M128.5,60.5L124.7,63.3L121.7,65.8M121.7,65.8L123.8,70.4L125.1,73.5M133.9,85.0L134.7,84.2L134.3,82.5M133.9,85.0L127.7,84.2L121.0,82.9M125.1,73.5L123.2,77.4L121.0,82.9M97.7,105.2L104.2,101.8L109.9,98.9M111.3,84.0L112.3,84.4L112.3,83.3M109.9,98.9L112.7,92.8L116.0,85.3M112.3,83.3L114.6,84.0L116.0,85.3M120.2,91.7L117.1,97.9L114.6,103.0M120.2,91.7L117.7,89.0L116.4,85.4M114.6,103.0L111.8,100.6L109.9,98.9M116.4,85.4L116.5,86.0L116.0,85.3M128.6,51.7L121.3,55.1L112.9,57.8M121.7,65.8L117.8,64.6L114.5,63.6M112.9,57.8L113.9,60.3L114.5,63.6M131.5,45.7L129.8,43.1L127.9,40.7M127.9,40.7L123.5,41.4L118.3,43.6M118.3,43.6L114.3,49.1L111.2,56.0M112.9,57.8L111.5,57.2L111.2,56.0M112.3,83.3L109.1,79.2L106.7,75.3M121.0,82.9L119.5,83.9L116.4,85.4M114.5,63.6L110.3,69.7L106.7,75.3M96.2,78.4L99.3,77.8L106.4,75.2M106.4,75.2L106.7,75.8L106.7,75.3M119.0,195.8L119.0,196.2L118.5,197.3M119.0,195.8L120.4,195.4M80.7,193.3L82.0,191.7L84.6,190.2M81.7,195.8L82.3,196.2L84.7,199.4M84.6,190.2L87.2,193.2L88.6,195.0M84.7,199.4L86.8,197.2L87.8,196.6M87.8,196.6L87.7,195.9L88.3,196.0M88.3,196.0L88.3,196.2L88.6,195.0M76.1,196.3L78.2,195.4M84.6,186.8L85.4,187.8L84.6,190.2M84.6,186.8L80.2,185.0L77.5,184.2M83.4,201.3L84.7,199.4M88.8,212.1L88.8,205.1L87.8,196.6M93.1,205.3L91.1,201.4L88.3,196.0M92.5,194.8L90.1,195.1L88.6,195.0M101.3,194.2L101.6,184.6L102.1,176.4M101.3,194.2L98.9,193.5L95.6,193.8M95.6,193.8L93.4,187.5L89.9,182.0M102.1,176.4L99.3,176.4L97.4,174.9M97.4,174.9L95.0,176.2L93.3,176.3M89.9,182.0L92.0,179.8L93.3,176.3M102.9,196.0L101.4,195.0L101.3,194.2M94.7,194.2L95.0,194.3L95.6,193.8M84.6,186.8L87.9,184.6L89.9,182.0M105.7,175.9L109.2,172.1L111.7,167.0M105.7,175.9L103.9,176.0L102.1,176.4M95.5,164.8L95.9,169.3L97.4,174.9M111.7,167.0L111.9,162.5L110.7,157.9M89.1,174.6L90.9,174.9L93.3,176.3M105.7,175.9L111.0,179.0L114.8,182.1M119.0,195.8L118.9,190.5L118.7,189.7M118.2,187.8L117.7,185.8M117.7,185.8L115.8,183.8L114.8,182.1M117.7,185.8L118.3,185.9L118.4,185.5M118.4,185.5L123.6,184.3L129.0,182.1M143.9,174.8L141.6,176.1L138.2,177.1M138.2,177.1L137.8,180.4L137.7,180.5M111.7,167.0L118.4,166.5L123.6,167.4M127.6,162.8L126.9,163.5L126.2,164.6M127.6,162.8L129.4,158.0L130.0,154.2M130.0,154.2L129.0,153.5L128.7,153.9M123.6,167.4L124.3,165.6L126.2,164.6M114.8,182.1L118.6,176.0L124.0,170.8M123.6,167.4L123.2,168.8L124.0,170.8M118.4,185.5L122.5,180.8L126.9,174.9M124.0,170.8L125.9,173.4L126.9,174.9M130.0,181.1L129.2,178.6L128.6,175.9M126.9,174.9L127.1,176.0L128.6,175.9M104.8,130.0L100.8,129.0L95.4,128.8M100.4,142.6L96.0,138.7L92.6,136.3M92.6,136.3L93.5,133.3L95.4,128.8M112.1,120.3L106.3,116.0L99.4,112.7M93.1,117.4L91.8,118.4L90.9,120.3M95.4,128.8L92.6,124.6L90.9,120.3M76.9,123.5L82.1,123.1L88.8,121.7M76.9,123.5L80.0,118.7L83.9,112.7M90.9,120.3L89.4,121.4L88.8,121.7M161.1,146.1L162.1,145.7L164.0,144.8M161.1,146.1L163.8,151.6L166.1,155.8M145.8,156.4L144.5,153.8L144.2,152.7M144.2,152.7L151.7,148.5L158.1,145.5M158.1,145.5L159.5,145.5L161.1,146.1M147.4,96.5L150.8,94.9L154.3,92.1M147.4,96.5L142.5,93.6L138.9,91.6M143.5,83.3L140.2,85.2L138.3,88.3M143.5,83.3L147.6,85.2L152.2,86.5M152.2,86.5L152.5,90.1L154.3,92.1M138.3,88.3L138.4,89.4L138.7,91.3M138.7,91.3L138.6,90.8L138.9,91.6M168.8,93.7L168.3,93.7L168.8,93.6M168.8,93.7L165.4,99.5L163.3,105.3M168.8,93.6L161.5,93.2L154.3,92.1M147.5,97.2L148.1,97.5L147.4,96.5M137.0,98.0L138.3,94.6L138.9,91.6M137.0,98.0L138.4,101.7L139.6,105.8M133.9,85.0L135.4,86.9L138.3,88.3M144.3,81.2L143.8,81.5L143.5,83.3M149.0,73.7L152.1,76.0L156.5,78.0M156.5,78.0L155.0,82.9L152.2,86.5M170.5,90.3L170.3,92.2L168.8,93.6M170.5,90.3L169.1,84.4L166.7,78.6M156.5,78.0L162.1,79.1L166.7,78.6M124.3,97.5L131.5,93.8L138.7,91.3M124.3,97.5L122.5,95.2L120.2,91.7M124.3,97.5L124.6,99.3L124.5,100.5M137.0,98.0L134.9,99.2L132.4,101.9M132.4,101.9L127.8,101.8L124.5,100.5M134.3,106.6L128.4,108.8L120.9,109.9M134.3,106.6L136.3,107.4L137.8,108.6M137.9,111.4L128.5,113.1L120.0,113.3M137.9,111.4L138.3,109.7L137.8,108.6M120.0,113.3L121.0,111.8L120.7,110.2M120.7,110.2L120.9,109.9L120.9,109.9M132.4,101.9L133.8,104.2L134.3,106.6M124.5,100.5L122.9,105.4L120.9,109.9M138.2,108.1L138.1,107.6L137.8,108.6M138.3,112.4L138.0,111.3L137.9,111.4M135.5,122.4L134.7,123.4L132.5,124.3M132.5,124.3L126.2,124.6L120.4,124.3M116.8,120.5L119.1,117.1L120.0,113.3M142.2,113.1L145.2,111.5L149.0,110.0M114.6,103.0L117.2,105.9L120.7,110.2M151.3,62.6L148.9,63.4L147.6,65.0M151.3,62.6L156.6,63.5L161.7,65.5M166.7,78.6L167.3,75.0L168.8,72.5M168.8,72.5L167.4,71.3L167.5,68.7M161.7,65.5L163.9,67.5L167.5,68.7M127.9,40.7L128.1,37.0L127.3,32.1M137.5,46.7L139.0,45.4L140.2,45.8M140.2,45.8L144.6,37.1M95.8,9.3L95.8,9.3L96.8,11.8M100.7,11.1L99.9,11.4L98.8,12.6M96.8,11.8L97.2,13.0L98.8,12.6M85.8,12.3L86.2,9.3L86.1,7.0M85.8,12.3L87.7,13.3L89.9,15.1M87.6,4.5L87.3,4.8L86.1,7.0M89.9,15.1L93.7,13.9L96.8,11.8M113.8,14.4L108.3,11.9L106.3,11.3M113.7,14.7L108.5,16.5L102.4,19.8M102.4,19.8L100.0,16.5L98.8,12.6M114.5,13.7L112.3,11.1M114.4,28.6L111.3,29.7L109.1,30.4M102.0,21.7L102.5,21.5L102.4,19.8M102.0,21.7L103.9,25.1L106.2,28.8M109.1,30.4L106.9,30.0L106.2,28.8M89.9,15.1L90.6,20.3L89.8,25.0M102.0,21.7L95.4,23.0L90.2,25.5M89.8,25.0L90.6,25.8L90.2,25.5M106.4,75.2L104.5,72.8L102.6,69.9M98.6,68.0L99.4,68.7L102.6,69.9M76.9,123.5L77.4,122.8L76.7,123.6M78.0,114.5L77.8,116.9L76.1,121.9M76.7,123.6L75.8,122.7L76.1,121.9M76.1,121.9L73.3,118.8L70.2,116.5M88.2,174.2L88.0,173.9M67.2,133.2L66.9,132.5M66.3,132.6L66.9,132.5M136.5,175.1L133.7,175.1L131.2,174.6M136.5,175.1L136.8,172.8L136.2,171.3M136.2,171.3L135.6,171.3L135.4,169.6M131.4,172.7L130.6,173.9L131.2,174.6M131.4,172.7L132.4,170.8L133.7,168.7M135.4,169.6L133.9,169.8L133.7,168.7M138.2,177.1L137.9,176.2L136.5,175.1M128.6,175.9L130.0,175.2L131.2,174.6M142.9,169.4L140.3,169.8L136.2,171.3M143.3,162.3L138.9,166.3L135.4,169.6M126.2,164.6L129.4,169.2L131.4,172.7M127.6,162.8L130.8,166.5L133.7,168.7M142.7,143.1L140.8,138.5L139.0,133.6M142.7,143.1L143.1,146.7L142.3,151.7M142.3,151.7L139.1,151.3L134.5,151.9M137.6,132.6L133.7,135.7L129.2,139.9M137.6,132.6L137.8,133.4L139.0,133.6M134.5,151.9L131.5,146.1L129.2,139.9M130.0,154.2L132.7,153.8L134.5,151.9M144.2,152.7L142.8,151.6L142.3,151.7M132.5,124.3L134.3,128.7L137.6,132.6M122.7,132.9L126.6,136.6L129.2,139.9M148.7,134.5L148.1,131.6L148.4,128.1M148.7,134.5L153.4,136.2L157.2,138.3M159.1,132.2L157.4,134.9L157.2,138.3M159.1,132.2L155.7,128.1L151.3,123.2M148.4,128.1L149.3,125.8L150.3,123.6M151.3,123.2L151.0,123.4L150.3,123.6M142.7,143.1L145.7,138.5L148.7,134.5M139.0,133.6L144.2,130.1L148.4,128.1M158.1,145.5L157.4,141.9L157.2,138.3M174.9,133.7L174.0,132.3L172.6,129.2M172.6,129.2L166.2,130.2L159.1,132.2M172.6,129.2L171.9,127.0L172.5,126.4M172.5,126.4L171.6,124.7L169.5,123.3M156.5,116.4L153.9,120.2L151.3,123.2M150.2,123.5L150.6,123.7L150.3,123.6M88.6,130.0L89.7,132.4L90.8,135.8M88.6,130.0L83.2,130.7L79.3,132.3M90.8,135.8L88.2,136.6L84.0,138.1M79.3,132.3L81.9,134.8L84.0,138.1M92.6,136.3L91.9,135.5L90.8,135.8M88.8,121.7L89.0,125.2L88.6,130.0M74.2,128.3L75.2,125.9L76.7,123.6M74.2,128.3L76.9,130.1L79.3,132.3M85.5,143.2L83.7,139.1M97.7,145.5L100.4,143.8M83.7,139.1L83.6,138.4L84.0,138.1M83.7,139.1L80.9,141.4M66.9,132.5L71.1,130.8L74.2,128.3M169.9,110.9L174.5,111.4L179.5,112.4M172.5,126.4L172.9,125.8L173.8,124.9M173.8,124.9L176.0,119.7L179.5,115.1M179.5,112.4L180.2,113.6L179.5,115.1M200.1,88.9L198.0,87.9L194.9,87.5M203.6,77.1L200.8,78.1L197.1,79.4M194.9,87.5L195.2,83.4L197.1,79.4M194.4,99.2L193.4,95.0L193.0,88.4M194.9,87.5L194.6,88.0L193.0,88.4M197.3,71.2L195.1,72.2M197.1,79.4L196.0,75.4L195.1,72.2M170.5,90.3L178.4,88.7L185.2,87.8M168.8,93.7L171.9,98.1L175.8,101.0M185.5,100.6L180.2,100.2L175.8,101.0M185.5,100.6L185.5,93.8L186.8,88.1M185.2,87.8L186.5,88.3L186.7,88.1M186.8,88.1L187.0,88.0L186.7,88.1M184.5,67.0L186.9,66.9L188.3,66.2M184.5,67.0L183.2,68.6L180.3,70.6M180.3,70.6L181.0,73.7L183.0,77.7M183.0,77.7L185.7,76.2L188.7,74.8M188.3,66.2L190.3,68.4L191.1,69.4M191.1,69.4L189.9,72.7L188.7,74.8M168.8,72.5L174.4,71.0L180.3,70.6M185.2,87.8L184.2,83.4L183.0,77.7M186.7,88.1L187.4,81.6L188.7,74.8M189.8,63.8L188.3,66.2M195.1,72.2L192.5,70.2L191.1,69.4M193.0,88.4L190.1,88.7L186.8,88.1M140.2,45.8L146.9,47.5L152.9,47.8M153.8,45.2L152.9,47.8M151.3,62.6L154.2,57.0L155.5,51.4M155.5,51.4L154.1,49.5L152.9,47.8M74.0,10.7L76.5,12.2L79.2,14.1M74.0,10.7L74.7,9.4M79.2,14.1L82.1,12.4L85.8,12.3M86.1,7.0L83.6,5.7L82.1,5.1M74.0,10.7L73.5,10.7M106.2,28.8L103.3,29.5L99.6,31.5M90.7,31.4L91.2,28.7L90.2,25.5M90.7,31.4L92.4,32.4L93.0,32.1M93.0,32.1L96.1,31.1L99.6,31.5M79.2,23.3L78.4,23.7L76.2,25.3M79.2,23.3L80.3,23.1L81.0,23.6M81.0,23.6L81.9,29.9M76.2,25.3L76.8,28.7M72.3,25.7L76.2,25.3M79.2,14.1L78.8,19.2L79.2,23.3M89.8,25.0L85.1,23.8L81.0,23.6M90.7,31.4L89.3,33.1M96.7,47.8L98.3,44.9L101.3,41.5M108.0,54.8L104.9,54.9L103.0,54.8M108.0,54.8L109.1,48.5L109.5,41.0M109.5,41.0L108.2,39.3L107.4,39.0M107.4,39.0L104.8,39.4L101.7,41.3M101.3,41.5L100.9,41.1L101.7,41.3M93.0,32.1L96.5,36.6L101.3,41.5M102.6,69.9L102.0,62.7L102.4,58.0M111.2,56.0L109.2,55.0L108.0,54.8M118.3,43.6L113.7,41.6L109.5,41.0M109.1,30.4L107.7,35.5L107.4,39.0M99.6,31.5L100.1,37.1L101.7,41.3M173.8,124.9L179.6,124.7M179.5,115.1L180.7,115.7M188.2,102.8L186.0,101.7M184.5,109.8L180.5,110.4M186.0,101.7L183.4,106.0L180.2,108.9M180.2,108.9L180.9,109.7L180.5,110.4M185.5,100.6L185.6,100.8L186.0,101.7M175.8,101.0L178.1,104.7L180.2,108.9M179.5,112.4L179.4,111.9L180.5,110.4M165.2,48.1L164.2,48.6L160.3,51.4M162.6,54.7L166.2,57.0L170.6,60.3M162.6,54.7L161.9,52.4L160.3,51.4M175.5,50.5L175.0,49.9M175.5,50.5L175.9,51.6L176.1,52.7M176.1,52.7L176.4,54.4L175.2,55.8M170.6,60.3L172.6,58.5L175.2,55.8M155.5,51.4L158.1,51.1L160.3,51.4M161.7,65.5L161.9,60.6L162.6,54.7M167.5,68.7L168.9,64.6L170.6,60.3M175.6,50.4L175.5,50.5M178.7,53.2L176.1,52.7M184.5,67.0L180.6,61.6L175.2,55.8" fill="none" stroke="#ffffff" stroke-width="0.45" opacity="0.42"/>
<polygon points="47.0,158.0 50.0,154.0 56.0,153.0 62.0,155.0 66.0,158.0 65.0,163.0 61.0,166.0 58.0,169.0 53.0,167.0 49.0,165.0 46.0,162.0" fill="#9da89c" filter="url(#tex2)"/>
<polygon points="100.7,149.0 96.8,152.9 91.5,158.1 86.3,163.4 81.0,168.7 74.5,173.3 66.6,171.3 71.8,164.7 77.0,162.0 82.3,158.1 86.3,152.9 90.2,147.6 97.0,146.0" fill="#9da89c" filter="url(#tex2)"/>
<ellipse cx="56" cy="161" rx="12.5" ry="10" fill="none" stroke="#ffffff" stroke-width="0.4" opacity="0.8"/>
<path d="M54,175 q8,6 16,2 q8,-2 12,-10 q4,-8 10,-12" fill="none" stroke="#ffffff" stroke-width="0.4" opacity="0.8"/>
<path d="M60,133 q-4,6 -12,5 q-6,2 -4,8" fill="none" stroke="#ffffff" stroke-width="0.4" opacity="0.8"/>
<filter id="texh" x="-10%" y="-10%" width="120%" height="120%" color-interpolation-filters="sRGB">
<feTurbulence type="fractalNoise" baseFrequency="0.28" numOctaves="2" seed="31" result="t"/>
<feDisplacementMap in="SourceGraphic" in2="t" scale="5" xChannelSelector="R" yChannelSelector="G" result="d"/>
<feTurbulence type="fractalNoise" baseFrequency="0.7" numOctaves="2" seed="9" result="n"/>
<feColorMatrix in="n" type="matrix" values="1.9 0 0 0 -0.36  0 1.9 0 0 -0.36  0 0 1.9 0 -0.24  0 0 0 0 1" result="c"/>
<feComposite in="c" in2="d" operator="in"/>
</filter>
<g filter="url(#texh)" opacity="0.85">
<ellipse cx="55.0" cy="160" rx="8.05" ry="4.82" transform="rotate(-20 55.0 160)" fill="#888"/>
<ellipse cx="60.0" cy="163" rx="5.84" ry="4.82" transform="rotate(0 60.0 163)" fill="#888"/>
<ellipse cx="52.0" cy="161" rx="4.14" ry="2.78" transform="rotate(0 52.0 161)" fill="#888"/>
<ellipse cx="58.0" cy="166" rx="4.14" ry="3.46" transform="rotate(0 58.0 166)" fill="#888"/>
<ellipse cx="62.0" cy="158" rx="3.8" ry="2.78" transform="rotate(0 62.0 158)" fill="#888"/>
<ellipse cx="56.0" cy="157" rx="3.8" ry="2.44" transform="rotate(0 56.0 157)" fill="#888"/>
<ellipse cx="72.5" cy="168" rx="4.14" ry="6.52" transform="rotate(25 72.5 168)" fill="#888"/>
<ellipse cx="70.0" cy="172" rx="3.12" ry="2.61" transform="rotate(0 70.0 172)" fill="#888"/>
<ellipse cx="75.0" cy="165" rx="2.78" ry="3.12" transform="rotate(0 75.0 165)" fill="#888"/>
<ellipse cx="70.0" cy="131" rx="2.44" ry="5.16" transform="rotate(-20 70.0 131)" fill="#888"/>
<ellipse cx="74.0" cy="134" rx="4.82" ry="1.93" transform="rotate(20 74.0 134)" fill="#888"/>
<ellipse cx="79.0" cy="136" rx="2.78" ry="4.14" transform="rotate(0 79.0 136)" fill="#888"/>
<ellipse cx="84.0" cy="126" rx="1.76" ry="5.16" transform="rotate(0 84.0 126)" fill="#888"/>
<ellipse cx="88.0" cy="130" rx="2.1" ry="4.48" transform="rotate(30 88.0 130)" fill="#888"/>
<ellipse cx="92.0" cy="138" rx="1.93" ry="4.31" transform="rotate(10 92.0 138)" fill="#888"/>
<ellipse cx="97.0" cy="142" rx="3.8" ry="2.1" transform="rotate(-30 97.0 142)" fill="#888"/>
<ellipse cx="66.0" cy="137" rx="3.46" ry="1.76" transform="rotate(0 66.0 137)" fill="#888"/>
<ellipse cx="82.0" cy="139" rx="4.31" ry="1.76" transform="rotate(10 82.0 139)" fill="#888"/>
<ellipse cx="90.0" cy="143" rx="1.93" ry="3.46" transform="rotate(0 90.0 143)" fill="#888"/>
<ellipse cx="76.0" cy="129" rx="1.76" ry="2.78" transform="rotate(0 76.0 129)" fill="#888"/>
<ellipse cx="86.0" cy="135" rx="3.46" ry="1.76" transform="rotate(-30 86.0 135)" fill="#888"/>
<ellipse cx="72.0" cy="138" rx="2.78" ry="1.76" transform="rotate(30 72.0 138)" fill="#888"/>
<ellipse cx="95.0" cy="133" rx="1.76" ry="3.12" transform="rotate(0 95.0 133)" fill="#888"/>
<ellipse cx="80.0" cy="131" rx="2.44" ry="1.59" transform="rotate(0 80.0 131)" fill="#888"/>
<ellipse cx="100.0" cy="139" rx="1.76" ry="3.12" transform="rotate(20 100.0 139)" fill="#888"/>
<ellipse cx="68.0" cy="133" rx="2.78" ry="1.76" transform="rotate(0 68.0 133)" fill="#888"/>
<ellipse cx="77.0" cy="137.5" rx="3.12" ry="1.76" transform="rotate(20 77.0 137.5)" fill="#888"/>
<ellipse cx="96.0" cy="140.5" rx="3.12" ry="1.93" transform="rotate(-20 96.0 140.5)" fill="#888"/>
<ellipse cx="91.0" cy="134" rx="1.76" ry="3.12" transform="rotate(0 91.0 134)" fill="#888"/>
<ellipse cx="119.3" cy="68" rx="3.6" ry="1.4" transform="rotate(38 119.3 68)" fill="#888"/>
</g>
<line x1="129" y1="10.4" x2="127" y2="15" stroke="#ffffff" stroke-width="0.4" opacity="0.8"/>
<line x1="148" y1="43" x2="143" y2="44" stroke="#ffffff" stroke-width="0.4" opacity="0.8"/>
<line x1="160" y1="47.5" x2="158" y2="51" stroke="#ffffff" stroke-width="0.4" opacity="0.8"/>
<line x1="196" y1="70" x2="190" y2="74" stroke="#ffffff" stroke-width="0.4" opacity="0.8"/>
<line x1="208" y1="81" x2="203" y2="86" stroke="#ffffff" stroke-width="0.4" opacity="0.8"/>
<line x1="136" y1="22" x2="131" y2="24" stroke="#ffffff" stroke-width="0.4" opacity="0.8"/>
<line x1="115" y1="11" x2="114" y2="14" stroke="#ffffff" stroke-width="0.4" opacity="0.8"/>
<line x1="142" y1="32" x2="137" y2="34" stroke="#ffffff" stroke-width="0.4" opacity="0.8"/>
</g>
<polyline points="103.0,57.0 110.0,58.0 115.0,54.0 121.0,51.0 122.0,43.0 126.0,40.0 132.0,42.0 137.0,43.0 142.0,45.0 147.0,42.5" fill="none" stroke="#111" stroke-width="0.5" opacity="0.95"/>
<polyline points="176.0,53.0 172.0,60.0 168.0,66.0 165.0,70.0 169.0,73.0 166.0,77.0 162.0,83.0 161.0,89.0 158.0,93.0 160.0,96.0" fill="none" stroke="#111" stroke-width="0.5" opacity="0.95"/>
<polyline points="104.0,90.0 107.5,88.5 108.8,93.3 111.0,96.4 115.4,95.5 118.9,93.8 123.3,91.0 127.7,89.4 132.0,92.0 135.5,91.0 139.0,93.3 142.5,93.8 146.0,90.0 150.0,89.4 156.0,89.6 160.0,92.0 160.0,96.0" fill="none" stroke="#111" stroke-width="0.5" opacity="0.95"/>
<polyline points="160.0,96.0 165.0,100.0 168.0,106.0 174.0,108.0 176.0,114.0 179.0,117.5" fill="none" stroke="#111" stroke-width="0.5" opacity="0.95"/>
<polyline points="135.5,91.0 135.1,96.4 137.7,98.0 137.3,107.0 135.5,112.0 135.5,117.4 139.0,118.0 142.0,120.0 141.0,127.0 145.0,130.0 146.0,138.0 142.0,144.0 137.0,147.0 134.0,152.0 137.0,157.0 143.0,160.0" fill="none" stroke="#111" stroke-width="0.5" opacity="0.95"/>
<polyline points="137.3,107.0 129.4,108.2 125.0,110.4 123.3,112.0 119.8,115.2 123.3,116.0 128.0,117.5 135.5,117.4" fill="none" stroke="#111" stroke-width="0.5" opacity="0.95"/>
<polyline points="80.0,105.5 84.0,111.0 90.0,112.0 95.3,110.0 97.9,111.3 97.0,115.6 100.5,118.3 106.0,116.0 112.0,118.0 119.8,115.2" fill="none" stroke="#111" stroke-width="0.5" opacity="0.95"/>
<polyline points="66.0,113.0 74.0,113.5 84.0,111.0" fill="none" stroke="#111" stroke-width="0.5" opacity="0.95"/>
<polyline points="50.0,122.0 56.0,128.0 64.0,131.0 72.0,130.0 80.0,128.0 88.0,130.0 94.0,131.0 97.0,136.0 101.0,140.0 105.0,144.0" fill="none" stroke="#111" stroke-width="0.5" opacity="0.95"/>
<polyline points="100.5,118.3 95.0,121.0 98.0,126.0 100.0,131.0 103.0,136.0 104.0,133.0 108.0,131.0 112.0,132.0 112.5,126.0 111.0,123.0 107.0,123.5 104.0,119.5 100.5,118.3" fill="none" stroke="#111" stroke-width="0.5" opacity="0.95"/>
<polyline points="108.0,121.0 108.5,124.5 116.0,124.5 116.0,121.0 108.0,121.0" fill="none" stroke="#111" stroke-width="0.5" opacity="0.95"/>
<polyline points="112.5,126.0 118.0,124.0 124.0,128.0 130.0,128.5 133.5,130.0 133.5,136.0 128.0,138.5 124.0,142.0 118.0,141.0 113.0,143.0 110.0,146.0" fill="none" stroke="#111" stroke-width="0.5" opacity="0.95"/>
<polyline points="105.0,144.0 108.6,149.0 104.7,154.2 98.1,160.8 92.9,167.3 86.3,175.2 79.7,181.8 73.1,187.0 67.9,190.3" fill="none" stroke="#111" stroke-width="0.5" opacity="0.95"/>
<polyline points="105.0,144.0 110.0,146.0 116.0,149.0 122.0,147.0 128.0,150.0 134.0,152.0" fill="none" stroke="#111" stroke-width="0.5" opacity="0.95"/>
<polygon points="83.3,4.5 89.8,4.5 92.8,7.3 97.1,10.2 101.5,11.3 108.0,11.3 129.0,10.4 136.0,22.0 148.0,43.0 160.0,47.5 174.0,49.0 184.0,58.0 196.0,70.0 207.3,80.5 212.1,83.5 217.8,87.8 214.6,90.8 209.7,95.0 206.0,93.4 205.3,95.2 203.0,97.5 199.0,98.6 196.0,98.4 189.0,102.0 185.0,106.0 184.0,113.0 178.0,118.0 180.0,123.0 179.0,127.0 183.0,130.0 182.0,133.0 172.0,134.0 172.0,144.0 173.6,153.0 168.0,156.0 160.0,155.0 146.0,158.0 143.0,162.0 147.0,167.0 148.3,172.0 148.3,178.0 144.7,180.2 139.6,182.4 135.9,178.8 132.3,178.8 127.2,183.9 121.3,185.3 117.7,188.2 119.1,190.4 120.6,196.3 114.7,200.7 111.1,204.3 102.3,205.0 98.0,210.1 93.6,216.7 91.4,219.6 87.7,215.3 84.8,209.4 82.6,204.3 83.4,201.4 81.9,196.3 80.4,192.6 78.2,193.4 78.2,198.5 74.6,199.2 70.2,197.7 69.5,190.4 60.0,191.9 56.0,192.0 40.0,190.0 26.0,182.0 16.0,174.0 13.6,169.8 11.5,165.6 9.3,161.3 8.5,157.1 5.5,152.4 18.3,138.4 28.0,135.0 34.0,132.0 50.0,122.0 66.0,113.0 80.0,105.5 88.5,103.8 96.2,99.6 97.9,95.3 101.3,92.8 103.8,90.2 102.1,84.3 96.2,82.6 96.2,78.3 102.1,76.6 103.0,73.2 100.4,71.5 97.9,69.8 99.6,65.5 100.4,61.3 103.0,57.0 103.0,52.8 100.4,48.5 96.2,47.7 93.3,45.0 92.8,40.0 92.0,34.7 85.3,30.7 80.5,29.6 77.5,29.1 73.8,27.0 71.6,25.1 72.4,24.0 71.3,20.4 71.3,13.1 75.3,8.7" fill="none" stroke="#f0352b" stroke-width="1.15" stroke-linejoin="round"/>
<path d="M111.90,89.90L112.35,90.98L113.52,91.07L112.63,91.84L112.90,92.98L111.90,92.36L110.90,92.98L111.17,91.84L110.28,91.07L111.45,90.98ZM114.10,89.90L114.55,90.98L115.72,91.07L114.83,91.84L115.10,92.98L114.10,92.36L113.10,92.98L113.37,91.84L112.48,91.07L113.65,90.98ZM112.90,91.60L113.35,92.68L114.52,92.77L113.63,93.54L113.90,94.68L112.90,94.06L111.90,94.68L112.17,93.54L111.28,92.77L112.45,92.68ZM117.10,92.90L117.55,93.98L118.72,94.07L117.83,94.84L118.10,95.98L117.10,95.36L116.10,95.98L116.37,94.84L115.48,94.07L116.65,93.98ZM110.00,94.70L110.45,95.78L111.62,95.87L110.73,96.64L111.00,97.78L110.00,97.17L109.00,97.78L109.27,96.64L108.38,95.87L109.55,95.78ZM106.00,96.00L106.45,97.08L107.62,97.17L106.73,97.94L107.00,99.08L106.00,98.47L105.00,99.08L105.27,97.94L104.38,97.17L105.55,97.08ZM101.80,99.90L102.25,100.98L103.42,101.07L102.53,101.84L102.80,102.98L101.80,102.36L100.80,102.98L101.07,101.84L100.18,101.07L101.35,100.98ZM96.80,103.40L97.25,104.48L98.42,104.57L97.53,105.34L97.80,106.48L96.80,105.86L95.80,106.48L96.07,105.34L95.18,104.57L96.35,104.48ZM118.50,105.90L118.95,106.98L120.12,107.07L119.23,107.84L119.50,108.98L118.50,108.36L117.50,108.98L117.77,107.84L116.88,107.07L118.05,106.98ZM123.40,108.70L123.85,109.78L125.02,109.87L124.13,110.64L124.40,111.78L123.40,111.17L122.40,111.78L122.67,110.64L121.78,109.87L122.95,109.78ZM116.70,111.80L117.15,112.88L118.32,112.97L117.43,113.74L117.70,114.88L116.70,114.27L115.70,114.88L115.97,113.74L115.08,112.97L116.25,112.88ZM123.30,114.60L123.75,115.68L124.92,115.77L124.03,116.54L124.30,117.68L123.30,117.06L122.30,117.68L122.57,116.54L121.68,115.77L122.85,115.68ZM133.50,116.10L133.95,117.18L135.12,117.27L134.23,118.04L134.50,119.18L133.50,118.56L132.50,119.18L132.77,118.04L131.88,117.27L133.05,117.18ZM142.40,115.30L142.85,116.38L144.02,116.47L143.13,117.24L143.40,118.38L142.40,117.77L141.40,118.38L141.67,117.24L140.78,116.47L141.95,116.38ZM144.30,101.30L144.75,102.38L145.92,102.47L145.03,103.24L145.30,104.38L144.30,103.77L143.30,104.38L143.57,103.24L142.68,102.47L143.85,102.38ZM139.90,118.30L140.35,119.38L141.52,119.47L140.63,120.24L140.90,121.38L139.90,120.77L138.90,121.38L139.17,120.24L138.28,119.47L139.45,119.38ZM136.40,120.30L136.85,121.38L138.02,121.47L137.13,122.24L137.40,123.38L136.40,122.77L135.40,123.38L135.67,122.24L134.78,121.47L135.95,121.38ZM119.30,121.20L119.75,122.28L120.92,122.37L120.03,123.14L120.30,124.28L119.30,123.67L118.30,124.28L118.57,123.14L117.68,122.37L118.85,122.28ZM102.30,121.20L102.75,122.28L103.92,122.37L103.03,123.14L103.30,124.28L102.30,123.67L101.30,124.28L101.57,123.14L100.68,122.37L101.85,122.28ZM123.70,124.70L124.15,125.78L125.32,125.87L124.43,126.64L124.70,127.78L123.70,127.17L122.70,127.78L122.97,126.64L122.08,125.87L123.25,125.78ZM130.30,125.10L130.75,126.18L131.92,126.27L131.03,127.04L131.30,128.18L130.30,127.56L129.30,128.18L129.57,127.04L128.68,126.27L129.85,126.18ZM122.00,127.30L122.45,128.38L123.62,128.47L122.73,129.24L123.00,130.38L122.00,129.76L121.00,130.38L121.27,129.24L120.38,128.47L121.55,128.38ZM139.50,126.40L139.95,127.48L141.12,127.57L140.23,128.34L140.50,129.48L139.50,128.86L138.50,129.48L138.77,128.34L137.88,127.57L139.05,127.48ZM138.60,129.10L139.05,130.18L140.22,130.27L139.33,131.04L139.60,132.18L138.60,131.56L137.60,132.18L137.87,131.04L136.98,130.27L138.15,130.18ZM96.00,133.90L96.45,134.98L97.62,135.07L96.73,135.84L97.00,136.98L96.00,136.36L95.00,136.98L95.27,135.84L94.38,135.07L95.55,134.98ZM118.00,133.90L118.45,134.98L119.62,135.07L118.73,135.84L119.00,136.98L118.00,136.36L117.00,136.98L117.27,135.84L116.38,135.07L117.55,134.98ZM116.30,136.50L116.75,137.58L117.92,137.67L117.03,138.44L117.30,139.58L116.30,138.96L115.30,139.58L115.57,138.44L114.68,137.67L115.85,137.58ZM123.30,137.80L123.75,138.88L124.92,138.97L124.03,139.74L124.30,140.88L123.30,140.26L122.30,140.88L122.57,139.74L121.68,138.97L122.85,138.88ZM127.20,136.10L127.65,137.18L128.82,137.27L127.93,138.04L128.20,139.18L127.20,138.56L126.20,139.18L126.47,138.04L125.58,137.27L126.75,137.18ZM132.70,134.80L133.15,135.88L134.32,135.97L133.43,136.74L133.70,137.88L132.70,137.26L131.70,137.88L131.97,136.74L131.08,135.97L132.25,135.88ZM130.70,141.10L131.15,142.18L132.32,142.27L131.43,143.04L131.70,144.18L130.70,143.56L129.70,144.18L129.97,143.04L129.08,142.27L130.25,142.18ZM104.40,143.50L104.85,144.58L106.02,144.67L105.13,145.44L105.40,146.58L104.40,145.96L103.40,146.58L103.67,145.44L102.78,144.67L103.95,144.58ZM98.60,147.00L99.05,148.08L100.22,148.17L99.33,148.94L99.60,150.08L98.60,149.46L97.60,150.08L97.87,148.94L96.98,148.17L98.15,148.08ZM111.90,147.00L112.35,148.08L113.52,148.17L112.63,148.94L112.90,150.08L111.90,149.46L110.90,150.08L111.17,148.94L110.28,148.17L111.45,148.08ZM125.00,146.60L125.45,147.68L126.62,147.77L125.73,148.54L126.00,149.68L125.00,149.06L124.00,149.68L124.27,148.54L123.38,147.77L124.55,147.68ZM130.70,143.50L131.15,144.58L132.32,144.67L131.43,145.44L131.70,146.58L130.70,145.96L129.70,146.58L129.97,145.44L129.08,144.67L130.25,144.58ZM91.50,149.90L91.95,150.98L93.12,151.07L92.23,151.84L92.50,152.98L91.50,152.36L90.50,152.98L90.77,151.84L89.88,151.07L91.05,150.98ZM91.50,151.80L91.95,152.88L93.12,152.97L92.23,153.74L92.50,154.88L91.50,154.26L90.50,154.88L90.77,153.74L89.88,152.97L91.05,152.88ZM99.40,148.60L99.85,149.68L101.02,149.77L100.13,150.54L100.40,151.68L99.40,151.06L98.40,151.68L98.67,150.54L97.78,149.77L98.95,149.68ZM109.70,148.60L110.15,149.68L111.32,149.77L110.43,150.54L110.70,151.68L109.70,151.06L108.70,151.68L108.97,150.54L108.08,149.77L109.25,149.68ZM115.80,151.20L116.25,152.28L117.42,152.37L116.53,153.14L116.80,154.28L115.80,153.66L114.80,154.28L115.07,153.14L114.18,152.37L115.35,152.28ZM128.30,153.20L128.75,154.28L129.92,154.37L129.03,155.14L129.30,156.28L128.30,155.66L127.30,156.28L127.57,155.14L126.68,154.37L127.85,154.28ZM138.80,156.40L139.25,157.48L140.42,157.57L139.53,158.34L139.80,159.48L138.80,158.86L137.80,159.48L138.07,158.34L137.18,157.57L138.35,157.48ZM138.80,160.40L139.25,161.48L140.42,161.57L139.53,162.34L139.80,163.48L138.80,162.86L137.80,163.48L138.07,162.34L137.18,161.57L138.35,161.48ZM114.50,166.30L114.95,167.38L116.12,167.47L115.23,168.24L115.50,169.38L114.50,168.76L113.50,169.38L113.77,168.24L112.88,167.47L114.05,167.38ZM140.80,169.60L141.25,170.68L142.42,170.77L141.53,171.54L141.80,172.68L140.80,172.06L139.80,172.68L140.07,171.54L139.18,170.77L140.35,170.68ZM139.90,174.80L140.35,175.88L141.52,175.97L140.63,176.74L140.90,177.88L139.90,177.26L138.90,177.88L139.17,176.74L138.28,175.97L139.45,175.88ZM89.60,182.10L90.05,183.18L91.22,183.27L90.33,184.04L90.60,185.18L89.60,184.56L88.60,185.18L88.87,184.04L87.98,183.27L89.15,183.18ZM102.70,182.50L103.15,183.58L104.32,183.67L103.43,184.44L103.70,185.58L102.70,184.96L101.70,185.58L101.97,184.44L101.08,183.67L102.25,183.58ZM117.20,181.70L117.65,182.78L118.82,182.87L117.93,183.64L118.20,184.78L117.20,184.16L116.20,184.78L116.47,183.64L115.58,182.87L116.75,182.78ZM100.10,189.60L100.55,190.68L101.72,190.77L100.83,191.54L101.10,192.68L100.10,192.06L99.10,192.68L99.37,191.54L98.48,190.77L99.65,190.68ZM93.50,191.30L93.95,192.38L95.12,192.47L94.23,193.24L94.50,194.38L93.50,193.76L92.50,194.38L92.77,193.24L91.88,192.47L93.05,192.38ZM91.50,195.90L91.95,196.98L93.12,197.07L92.23,197.84L92.50,198.98L91.50,198.36L90.50,198.98L90.77,197.84L89.88,197.07L91.05,196.98ZM106.00,194.50L106.45,195.58L107.62,195.67L106.73,196.44L107.00,197.58L106.00,196.96L105.00,197.58L105.27,196.44L104.38,195.67L105.55,195.58ZM79.70,165.00L80.15,166.08L81.32,166.17L80.43,166.94L80.70,168.08L79.70,167.46L78.70,168.08L78.97,166.94L78.08,166.17L79.25,166.08ZM72.50,165.00L72.95,166.08L74.12,166.17L73.23,166.94L73.50,168.08L72.50,167.46L71.50,168.08L71.77,166.94L70.88,166.17L72.05,166.08ZM71.20,167.00L71.65,168.08L72.82,168.17L71.93,168.94L72.20,170.08L71.20,169.46L70.20,170.08L70.47,168.94L69.58,168.17L70.75,168.08ZM69.90,168.30L70.35,169.38L71.52,169.47L70.63,170.24L70.90,171.38L69.90,170.76L68.90,171.38L69.17,170.24L68.28,169.47L69.45,169.38ZM67.90,170.90L68.35,171.98L69.52,172.07L68.63,172.84L68.90,173.98L67.90,173.36L66.90,173.98L67.17,172.84L66.28,172.07L67.45,171.98ZM73.80,170.30L74.25,171.38L75.42,171.47L74.53,172.24L74.80,173.38L73.80,172.76L72.80,173.38L73.07,172.24L72.18,171.47L73.35,171.38ZM71.80,168.90L72.25,169.98L73.42,170.07L72.53,170.84L72.80,171.98L71.80,171.36L70.80,171.98L71.07,170.84L70.18,170.07L71.35,169.98ZM103.00,36.90L103.45,37.98L104.62,38.07L103.73,38.84L104.00,39.98L103.00,39.37L102.00,39.98L102.27,38.84L101.38,38.07L102.55,37.98ZM107.40,34.30L107.85,35.38L109.02,35.47L108.13,36.24L108.40,37.38L107.40,36.77L106.40,37.38L106.67,36.24L105.78,35.47L106.95,35.38ZM110.40,34.70L110.85,35.78L112.02,35.87L111.13,36.64L111.40,37.78L110.40,37.16L109.40,37.78L109.67,36.64L108.78,35.87L109.95,35.78ZM110.00,40.90L110.45,41.98L111.62,42.07L110.73,42.84L111.00,43.98L110.00,43.37L109.00,43.98L109.27,42.84L108.38,42.07L109.55,41.98ZM107.60,45.90L108.05,46.98L109.22,47.07L108.33,47.84L108.60,48.98L107.60,48.37L106.60,48.98L106.87,47.84L105.98,47.07L107.15,46.98ZM109.20,51.30L109.65,52.38L110.82,52.47L109.93,53.24L110.20,54.38L109.20,53.77L108.20,54.38L108.47,53.24L107.58,52.47L108.75,52.38ZM124.40,46.70L124.85,47.78L126.02,47.87L125.13,48.64L125.40,49.78L124.40,49.16L123.40,49.78L123.67,48.64L122.78,47.87L123.95,47.78ZM128.00,44.70L128.45,45.78L129.62,45.87L128.73,46.64L129.00,47.78L128.00,47.16L127.00,47.78L127.27,46.64L126.38,45.87L127.55,45.78ZM134.40,48.30L134.85,49.38L136.02,49.47L135.13,50.24L135.40,51.38L134.40,50.77L133.40,51.38L133.67,50.24L132.78,49.47L133.95,49.38ZM105.60,65.90L106.05,66.98L107.22,67.07L106.33,67.84L106.60,68.98L105.60,68.36L104.60,68.98L104.87,67.84L103.98,67.07L105.15,66.98ZM139.60,61.10L140.05,62.18L141.22,62.27L140.33,63.04L140.60,64.18L139.60,63.56L138.60,64.18L138.87,63.04L137.98,62.27L139.15,62.18ZM156.20,61.10L156.65,62.18L157.82,62.27L156.93,63.04L157.20,64.18L156.20,63.56L155.20,64.18L155.47,63.04L154.58,62.27L155.75,62.18ZM164.20,67.30L164.65,68.38L165.82,68.47L164.93,69.24L165.20,70.38L164.20,69.77L163.20,70.38L163.47,69.24L162.58,68.47L163.75,68.38ZM164.20,71.70L164.65,72.78L165.82,72.87L164.93,73.64L165.20,74.78L164.20,74.17L163.20,74.78L163.47,73.64L162.58,72.87L163.75,72.78ZM156.20,87.90L156.65,88.98L157.82,89.07L156.93,89.84L157.20,90.98L156.20,90.36L155.20,90.98L155.47,89.84L154.58,89.07L155.75,88.98ZM163.60,86.30L164.05,87.38L165.22,87.47L164.33,88.24L164.60,89.38L163.60,88.77L162.60,89.38L162.87,88.24L161.98,87.47L163.15,87.38ZM119.00,112.30L119.45,113.38L120.62,113.47L119.73,114.24L120.00,115.38L119.00,114.77L118.00,115.38L118.27,114.24L117.38,113.47L118.55,113.38ZM159.60,116.30L160.05,117.38L161.22,117.47L160.33,118.24L160.60,119.38L159.60,118.77L158.60,119.38L158.87,118.24L157.98,117.47L159.15,117.38ZM168.00,119.30L168.45,120.38L169.62,120.47L168.73,121.24L169.00,122.38L168.00,121.77L167.00,122.38L167.27,121.24L166.38,120.47L167.55,120.38ZM82.40,107.70L82.85,108.78L84.02,108.87L83.13,109.64L83.40,110.78L82.40,110.17L81.40,110.78L81.67,109.64L80.78,108.87L81.95,108.78ZM84.00,117.30L84.45,118.38L85.62,118.47L84.73,119.24L85.00,120.38L84.00,119.77L83.00,120.38L83.27,119.24L82.38,118.47L83.55,118.38ZM67.00,119.30L67.45,120.38L68.62,120.47L67.73,121.24L68.00,122.38L67.00,121.77L66.00,122.38L66.27,121.24L65.38,120.47L66.55,120.38ZM66.00,124.30L66.45,125.38L67.62,125.47L66.73,126.24L67.00,127.38L66.00,126.77L65.00,127.38L65.27,126.24L64.38,125.47L65.55,125.38ZM73.60,127.70L74.05,128.78L75.22,128.87L74.33,129.64L74.60,130.78L73.60,130.16L72.60,130.78L72.87,129.64L71.98,128.87L73.15,128.78ZM79.00,138.30L79.45,139.38L80.62,139.47L79.73,140.24L80.00,141.38L79.00,140.76L78.00,141.38L78.27,140.24L77.38,139.47L78.55,139.38ZM88.00,137.90L88.45,138.98L89.62,139.07L88.73,139.84L89.00,140.98L88.00,140.36L87.00,140.98L87.27,139.84L86.38,139.07L87.55,138.98ZM109.00,121.30L109.45,122.38L110.62,122.47L109.73,123.24L110.00,124.38L109.00,123.77L108.00,124.38L108.27,123.24L107.38,122.47L108.55,122.38ZM128.00,125.30L128.45,126.38L129.62,126.47L128.73,127.24L129.00,128.38L128.00,127.77L127.00,128.38L127.27,127.24L126.38,126.47L127.55,126.38ZM118.00,136.30L118.45,137.38L119.62,137.47L118.73,138.24L119.00,139.38L118.00,138.76L117.00,139.38L117.27,138.24L116.38,137.47L117.55,137.38ZM137.00,135.30L137.45,136.38L138.62,136.47L137.73,137.24L138.00,138.38L137.00,137.76L136.00,138.38L136.27,137.24L135.38,136.47L136.55,136.38ZM54.00,156.30L54.45,157.38L55.62,157.47L54.73,158.24L55.00,159.38L54.00,158.76L53.00,159.38L53.27,158.24L52.38,157.47L53.55,157.38ZM75.00,163.30L75.45,164.38L76.62,164.47L75.73,165.24L76.00,166.38L75.00,165.76L74.00,166.38L74.27,165.24L73.38,164.47L74.55,164.38ZM77.00,138.30L77.45,139.38L78.62,139.47L77.73,140.24L78.00,141.38L77.00,140.76L76.00,141.38L76.27,140.24L75.38,139.47L76.55,139.38ZM97.00,199.30L97.45,200.38L98.62,200.47L97.73,201.24L98.00,202.38L97.00,201.76L96.00,202.38L96.27,201.24L95.38,200.47L96.55,200.38ZM112.00,198.90L112.45,199.98L113.62,200.07L112.73,200.84L113.00,201.98L112.00,201.36L111.00,201.98L111.27,200.84L110.38,200.07L111.55,199.98ZM90.00,208.90L90.45,209.98L91.62,210.07L90.73,210.84L91.00,211.98L90.00,211.36L89.00,211.98L89.27,210.84L88.38,210.07L89.55,209.98ZM95.00,207.30L95.45,208.38L96.62,208.47L95.73,209.24L96.00,210.38L95.00,209.76L94.00,210.38L94.27,209.24L93.38,208.47L94.55,208.38ZM109.00,145.30L109.45,146.38L110.62,146.47L109.73,147.24L110.00,148.38L109.00,147.76L108.00,148.38L108.27,147.24L107.38,146.47L108.55,146.38ZM151.00,136.90L151.45,137.98L152.62,138.07L151.73,138.84L152.00,139.98L151.00,139.36L150.00,139.98L150.27,138.84L149.38,138.07L150.55,137.98ZM162.00,150.90L162.45,151.98L163.62,152.07L162.73,152.84L163.00,153.98L162.00,153.36L161.00,153.98L161.27,152.84L160.38,152.07L161.55,151.98ZM151.00,125.90L151.45,126.98L152.62,127.07L151.73,127.84L152.00,128.98L151.00,128.36L150.00,128.98L150.27,127.84L149.38,127.07L150.55,126.98ZM163.60,128.30L164.05,129.38L165.22,129.47L164.33,130.24L164.60,131.38L163.60,130.76L162.60,131.38L162.87,130.24L161.98,129.47L163.15,129.38ZM171.00,130.90L171.45,131.98L172.62,132.07L171.73,132.84L172.00,133.98L171.00,133.36L170.00,133.98L170.27,132.84L169.38,132.07L170.55,131.98ZM123.00,131.30L123.45,132.38L124.62,132.47L123.73,133.24L124.00,134.38L123.00,133.76L122.00,134.38L122.27,133.24L121.38,132.47L122.55,132.38ZM84.00,129.30L84.45,130.38L85.62,130.47L84.73,131.24L85.00,132.38L84.00,131.76L83.00,132.38L83.27,131.24L82.38,130.47L83.55,130.38ZM113.00,94.30L113.45,95.38L114.62,95.47L113.73,96.24L114.00,97.38L113.00,96.77L112.00,97.38L112.27,96.24L111.38,95.47L112.55,95.38ZM121.00,134.30L121.45,135.38L122.62,135.47L121.73,136.24L122.00,137.38L121.00,136.76L120.00,137.38L120.27,136.24L119.38,135.47L120.55,135.38ZM126.00,129.30L126.45,130.38L127.62,130.47L126.73,131.24L127.00,132.38L126.00,131.76L125.00,132.38L125.27,131.24L124.38,130.47L125.55,130.38ZM120.00,129.30L120.45,130.38L121.62,130.47L120.73,131.24L121.00,132.38L120.00,131.76L119.00,132.38L119.27,131.24L118.38,130.47L119.55,130.38ZM118.00,128.30L118.45,129.38L119.62,129.47L118.73,130.24L119.00,131.38L118.00,130.76L117.00,131.38L117.27,130.24L116.38,129.47L117.55,129.38Z" fill="#0a0a0a"/>
<text x="111.0" y="30.2" font-family="'Liberation Serif','Noto Serif CJK SC',serif" font-size="4.6" text-anchor="middle" fill="#111" stroke="#111" stroke-width="0.08" textLength="29.4" lengthAdjust="spacing">Zhangjiagang</text>
<text x="133.5" y="70.6" font-family="'Liberation Serif','Noto Serif CJK SC',serif" font-size="4.6" text-anchor="middle" fill="#111" stroke="#111" stroke-width="0.08" textLength="19.6" lengthAdjust="spacing">Changshu</text>
<text x="186.5" y="87.6" font-family="'Liberation Serif','Noto Serif CJK SC',serif" font-size="4.6" text-anchor="middle" fill="#111" stroke="#111" stroke-width="0.08" textLength="17.2" lengthAdjust="spacing">Taicang</text>
<text x="161.0" y="127.6" font-family="'Liberation Serif','Noto Serif CJK SC',serif" font-size="4.6" text-anchor="middle" fill="#111" stroke="#111" stroke-width="0.08" textLength="17.2" lengthAdjust="spacing">Kunshan</text>
<text x="110.5" y="107.6" font-family="'Liberation Serif','Noto Serif CJK SC',serif" font-size="4.6" text-anchor="middle" fill="#111" stroke="#111" stroke-width="0.08" textLength="24.5" lengthAdjust="spacing">Xiangcheng</text>
<text x="75.5" y="122.2" font-family="'Liberation Serif','Noto Serif CJK SC',serif" font-size="4.6" text-anchor="middle" fill="#111" stroke="#111" stroke-width="0.08" textLength="12.2" lengthAdjust="spacing">Huqiu</text>
<text x="105.0" y="128.6" font-family="'Liberation Serif','Noto Serif CJK SC',serif" font-size="4.6" text-anchor="middle" fill="#111" stroke="#111" stroke-width="0.08" textLength="9.8" lengthAdjust="spacing">Gusu</text>
<text x="113.5" y="123.6" font-family="'Liberation Serif','Noto Serif CJK SC',serif" font-size="4.6" text-anchor="middle" fill="#111" stroke="#111" stroke-width="0.08" textLength="7.4" lengthAdjust="spacing">SIP</text>
<text x="126.0" y="136" font-family="'Liberation Serif','Noto Serif CJK SC',serif" font-size="4.6" text-anchor="middle" fill="#111" stroke="#111" stroke-width="0.08" textLength="17.2" lengthAdjust="spacing">Wuzhong</text>
<text x="55.0" y="153.6" font-family="'Liberation Serif','Noto Serif CJK SC',serif" font-size="4.6" text-anchor="middle" fill="#111" stroke="#111" stroke-width="0.08" textLength="17.2" lengthAdjust="spacing">Wuzhong</text>
<text x="117.5" y="176" font-family="'Liberation Serif','Noto Serif CJK SC',serif" font-size="4.6" text-anchor="middle" fill="#111" stroke="#111" stroke-width="0.08" textLength="17.2" lengthAdjust="spacing">Wujiang</text>
</g>
<text x="465.8" y="9.9" font-family="'Liberation Serif','Noto Serif CJK SC',serif" font-size="6.2" fill="#111" textLength="17.8" lengthAdjust="spacingAndGlyphs">Legend</text>
<path d="M471.70,15.90L472.18,17.04L473.41,17.14L472.47,17.95L472.76,19.16L471.70,18.51L470.64,19.16L470.93,17.95L469.99,17.14L471.22,17.04Z" fill="#0a0a0a"/>
<text x="479.8" y="18.9" font-family="'Liberation Serif','Noto Serif CJK SC',serif" font-size="4.4" fill="#222" stroke="#222" stroke-width="0.12" textLength="43" lengthAdjust="spacing">Traditional villages</text>
<text x="465.8" y="27.45" font-family="'Liberation Serif','Noto Serif CJK SC',serif" font-size="5.4" fill="#2a2a2a" textLength="27" lengthAdjust="spacing">Aspect(° )</text>
<rect x="465.6" y="30.40" width="12.5" height="5.8" fill="#ccedf2" stroke="#707070" stroke-width="0.6"/>
<text x="480.5" y="34.90" font-family="'Liberation Serif','Noto Serif CJK SC',serif" font-size="4.3" fill="#444" textLength="14.9" lengthAdjust="spacing">-1-31.5</text>
<rect x="465.6" y="38.43" width="12.5" height="5.8" fill="#e84ae8" stroke="#707070" stroke-width="0.6"/>
<text x="480.5" y="42.93" font-family="'Liberation Serif','Noto Serif CJK SC',serif" font-size="4.3" fill="#444" textLength="19.2" lengthAdjust="spacing">31.5-82.3</text>
<rect x="465.6" y="46.46" width="12.5" height="5.8" fill="#6e8ef4" stroke="#707070" stroke-width="0.6"/>
<text x="480.5" y="50.96" font-family="'Liberation Serif','Noto Serif CJK SC',serif" font-size="4.3" fill="#444" textLength="21.3" lengthAdjust="spacing">82.4-130.3</text>
<rect x="465.6" y="54.49" width="12.5" height="5.8" fill="#88f0b6" stroke="#707070" stroke-width="0.6"/>
<text x="480.5" y="58.99" font-family="'Liberation Serif','Noto Serif CJK SC',serif" font-size="4.3" fill="#444" textLength="23.4" lengthAdjust="spacing">130.3-202.7</text>
<rect x="465.6" y="62.52" width="12.5" height="5.8" fill="#cdf04c" stroke="#707070" stroke-width="0.6"/>
<text x="480.5" y="67.02" font-family="'Liberation Serif','Noto Serif CJK SC',serif" font-size="4.3" fill="#444" textLength="23.4" lengthAdjust="spacing">202.7-253.6</text>
<rect x="465.6" y="70.55" width="12.5" height="5.8" fill="#e8a842" stroke="#707070" stroke-width="0.6"/>
<text x="480.5" y="75.05" font-family="'Liberation Serif','Noto Serif CJK SC',serif" font-size="4.3" fill="#444" textLength="23.4" lengthAdjust="spacing">253.6-305.9</text>
<rect x="465.6" y="78.58" width="12.5" height="5.8" fill="#a04444" stroke="#707070" stroke-width="0.6"/>
<text x="480.5" y="83.08" font-family="'Liberation Serif','Noto Serif CJK SC',serif" font-size="4.3" fill="#444" textLength="23.4" lengthAdjust="spacing">305.9-359.7</text>
<text x="672.6" y="13.2" font-family="'Liberation Sans','Noto Sans CJK SC',sans-serif" font-size="6.3" text-anchor="middle" fill="#111" stroke="#111" stroke-width="0.15">N</text>
<path d="M672.6,14.2 L668.0,29.4 L673.0,24.4 Z" fill="#000"/>
<path d="M672.6,14.2 L677.2,29.4 L673.0,24.4 Z" fill="#fff" stroke="#000" stroke-width="0.45" stroke-linejoin="round"/>
<text y="207.3" font-family="'Liberation Sans','Noto Sans CJK SC',sans-serif" font-size="7.5" fill="#111" stroke="#111" stroke-width="0.12"><tspan x="625.5">0</tspan><tspan x="633.6">5</tspan><tspan x="639.1">10</tspan><tspan x="653.8">20</tspan><tspan x="664.7">km</tspan></text>
<path d="M627.1,216.4 H658.4 M627.10,216.4 V211.2 M631.01,216.4 V213.3 M634.92,216.4 V213.3 M638.83,216.4 V213.3 M642.74,216.4 V211.2 M646.65,216.4 V213.3 M650.56,216.4 V213.3 M654.47,216.4 V213.3 M658.38,216.4 V211.2" fill="none" stroke="#111" stroke-width="0.8"/>
</g>
<g id="hist0">
<rect x="19.60" y="376.56" width="32.40" height="6.04" fill="#7ab3a4" stroke="#e98b85" stroke-width="0.55"/>
<text x="36.0" y="375.9" font-family="'Liberation Serif','Noto Serif CJK SC',serif" font-size="8" text-anchor="middle" fill="#222">2</text>
<rect x="53.60" y="252.65" width="32.40" height="129.95" fill="#7ab3a4" stroke="#e98b85" stroke-width="0.55"/>
<text x="70.0" y="252.0" font-family="'Liberation Serif','Noto Serif CJK SC',serif" font-size="8" text-anchor="middle" fill="#222">43</text>
<rect x="87.60" y="255.68" width="32.40" height="126.92" fill="#7ab3a4" stroke="#e98b85" stroke-width="0.55"/>
<text x="104.0" y="255.0" font-family="'Liberation Serif','Noto Serif CJK SC',serif" font-size="8" text-anchor="middle" fill="#222">42</text>
<rect x="121.60" y="337.27" width="32.40" height="45.33" fill="#7ab3a4" stroke="#e98b85" stroke-width="0.55"/>
<text x="138.0" y="336.6" font-family="'Liberation Serif','Noto Serif CJK SC',serif" font-size="8" text-anchor="middle" fill="#222">15</text>
<rect x="155.60" y="370.51" width="32.40" height="12.09" fill="#7ab3a4" stroke="#e98b85" stroke-width="0.55"/>
<text x="172.0" y="369.8" font-family="'Liberation Serif','Noto Serif CJK SC',serif" font-size="8" text-anchor="middle" fill="#222">4</text>
<text x="206.0" y="381.9" font-family="'Liberation Serif','Noto Serif CJK SC',serif" font-size="8" text-anchor="middle" fill="#222">0</text>
<path d="M18.5,231.5 V382.6 H222.6" fill="none" stroke="#555" stroke-width="0.8"/>
<path d="M19.0,231.5 H222.6" fill="none" stroke="#555" stroke-width="0.6"/>
<path d="M222.6,231.5 V382.6" fill="none" stroke="#555" stroke-width="0.6"/>
<text x="15.4" y="384.60" font-family="'Liberation Serif','Noto Serif CJK SC',serif" font-size="6" text-anchor="end" fill="#333" letter-spacing="0.25">0</text>
<text x="15.4" y="354.38" font-family="'Liberation Serif','Noto Serif CJK SC',serif" font-size="6" text-anchor="end" fill="#333" letter-spacing="0.25">10</text>
<text x="15.4" y="324.16" font-family="'Liberation Serif','Noto Serif CJK SC',serif" font-size="6" text-anchor="end" fill="#333" letter-spacing="0.25">20</text>
<text x="15.4" y="293.94" font-family="'Liberation Serif','Noto Serif CJK SC',serif" font-size="6" text-anchor="end" fill="#333" letter-spacing="0.25">30</text>
<text x="15.4" y="263.72" font-family="'Liberation Serif','Noto Serif CJK SC',serif" font-size="6" text-anchor="end" fill="#333" letter-spacing="0.25">40</text>
<text x="15.4" y="233.50" font-family="'Liberation Serif','Noto Serif CJK SC',serif" font-size="6" text-anchor="end" fill="#333" letter-spacing="0.25">50</text>
<text x="19.15" y="391.7" font-family="'Liberation Serif','Noto Serif CJK SC',serif" font-size="6" text-anchor="middle" fill="#333" letter-spacing="0.25">0</text>
<text x="53.15" y="391.7" font-family="'Liberation Serif','Noto Serif CJK SC',serif" font-size="6" text-anchor="middle" fill="#333" letter-spacing="0.25">5</text>
<text x="87.15" y="391.7" font-family="'Liberation Serif','Noto Serif CJK SC',serif" font-size="6" text-anchor="middle" fill="#333" letter-spacing="0.25">10</text>
<text x="121.15" y="391.7" font-family="'Liberation Serif','Noto Serif CJK SC',serif" font-size="6" text-anchor="middle" fill="#333" letter-spacing="0.25">15</text>
<text x="155.15" y="391.7" font-family="'Liberation Serif','Noto Serif CJK SC',serif" font-size="6" text-anchor="middle" fill="#333" letter-spacing="0.25">20</text>
<text x="189.15" y="391.7" font-family="'Liberation Serif','Noto Serif CJK SC',serif" font-size="6" text-anchor="middle" fill="#333" letter-spacing="0.25">25</text>
<text x="223.15" y="391.7" font-family="'Liberation Serif','Noto Serif CJK SC',serif" font-size="6" text-anchor="middle" fill="#333" letter-spacing="0.25">30</text>
<path d="M19.0,382.60 h-1.8 M19.0,352.38 h-1.8 M19.0,322.16 h-1.8 M19.0,291.94 h-1.8 M19.0,261.72 h-1.8 M19.0,231.50 h-1.8 M19.0,367.49 h-1 M19.0,337.27 h-1 M19.0,307.05 h-1 M19.0,276.83 h-1 M19.0,246.61 h-1 M19.00,382.6 v1.8 M53.00,382.6 v1.8 M87.00,382.6 v1.8 M121.00,382.6 v1.8 M155.00,382.6 v1.8 M189.00,382.6 v1.8 M223.00,382.6 v1.8 M36.00,382.6 v1 M70.00,382.6 v1 M104.00,382.6 v1 M138.00,382.6 v1 M172.00,382.6 v1 M206.00,382.6 v1 " fill="none" stroke="#555" stroke-width="0.5"/>
<text x="100.0" y="400.8" font-family="'Liberation Serif','Noto Serif CJK SC',serif" font-size="6.6" fill="#333" textLength="41" lengthAdjust="spacing">Elevation(m)</text>
<text x="112.4" y="410.8" font-family="'Liberation Serif','Noto Serif CJK SC',serif" font-size="7" text-anchor="middle" fill="#333">a</text>
<text transform="translate(7.2,338.5) rotate(-90)" font-family="'Liberation Serif','Noto Serif CJK SC',serif" font-size="6.6" fill="#333" textLength="63" lengthAdjust="spacing">Number of villages</text>
</g>
<g id="hist1">
<rect x="250.10" y="335.11" width="21.35" height="47.49" fill="#7ab3a4" stroke="#e98b85" stroke-width="0.55"/>
<text x="260.7" y="334.4" font-family="'Liberation Serif','Noto Serif CJK SC',serif" font-size="8" text-anchor="middle" fill="#222">11</text>
<rect x="272.75" y="248.77" width="21.35" height="133.83" fill="#7ab3a4" stroke="#e98b85" stroke-width="0.55"/>
<text x="283.4" y="248.1" font-family="'Liberation Serif','Noto Serif CJK SC',serif" font-size="8" text-anchor="middle" fill="#222">31</text>
<rect x="295.40" y="266.04" width="21.35" height="116.56" fill="#7ab3a4" stroke="#e98b85" stroke-width="0.55"/>
<text x="306.0" y="265.3" font-family="'Liberation Serif','Noto Serif CJK SC',serif" font-size="8" text-anchor="middle" fill="#222">27</text>
<rect x="318.05" y="313.53" width="21.35" height="69.07" fill="#7ab3a4" stroke="#e98b85" stroke-width="0.55"/>
<text x="328.7" y="312.8" font-family="'Liberation Serif','Noto Serif CJK SC',serif" font-size="8" text-anchor="middle" fill="#222">16</text>
<rect x="340.70" y="322.16" width="21.35" height="60.44" fill="#7ab3a4" stroke="#e98b85" stroke-width="0.55"/>
<text x="351.3" y="321.5" font-family="'Liberation Serif','Noto Serif CJK SC',serif" font-size="8" text-anchor="middle" fill="#222">14</text>
<rect x="363.35" y="365.33" width="21.35" height="17.27" fill="#7ab3a4" stroke="#e98b85" stroke-width="0.55"/>
<text x="374.0" y="364.6" font-family="'Liberation Serif','Noto Serif CJK SC',serif" font-size="8" text-anchor="middle" fill="#222">4</text>
<rect x="386.00" y="378.28" width="21.35" height="4.32" fill="#7ab3a4" stroke="#e98b85" stroke-width="0.55"/>
<text x="396.6" y="377.6" font-family="'Liberation Serif','Noto Serif CJK SC',serif" font-size="8" text-anchor="middle" fill="#222">1</text>
<rect x="408.65" y="378.28" width="21.35" height="4.32" fill="#7ab3a4" stroke="#e98b85" stroke-width="0.55"/>
<text x="419.3" y="377.6" font-family="'Liberation Serif','Noto Serif CJK SC',serif" font-size="8" text-anchor="middle" fill="#222">1</text>
<rect x="431.30" y="373.97" width="21.35" height="8.63" fill="#7ab3a4" stroke="#e98b85" stroke-width="0.55"/>
<text x="441.9" y="373.3" font-family="'Liberation Serif','Noto Serif CJK SC',serif" font-size="8" text-anchor="middle" fill="#222">2</text>
<path d="M249.4,231.5 V382.6 H453.3" fill="none" stroke="#555" stroke-width="0.8"/>
<path d="M249.4,231.5 H453.3" fill="none" stroke="#555" stroke-width="0.6"/>
<path d="M453.3,231.5 V382.6" fill="none" stroke="#555" stroke-width="0.6"/>
<text x="245.9" y="384.60" font-family="'Liberation Serif','Noto Serif CJK SC',serif" font-size="6" text-anchor="end" fill="#333" letter-spacing="0.25">0</text>
<text x="245.9" y="363.01" font-family="'Liberation Serif','Noto Serif CJK SC',serif" font-size="6" text-anchor="end" fill="#333" letter-spacing="0.25">5</text>
<text x="245.9" y="341.43" font-family="'Liberation Serif','Noto Serif CJK SC',serif" font-size="6" text-anchor="end" fill="#333" letter-spacing="0.25">10</text>
<text x="245.9" y="319.84" font-family="'Liberation Serif','Noto Serif CJK SC',serif" font-size="6" text-anchor="end" fill="#333" letter-spacing="0.25">15</text>
<text x="245.9" y="298.26" font-family="'Liberation Serif','Noto Serif CJK SC',serif" font-size="6" text-anchor="end" fill="#333" letter-spacing="0.25">20</text>
<text x="245.9" y="276.67" font-family="'Liberation Serif','Noto Serif CJK SC',serif" font-size="6" text-anchor="end" fill="#333" letter-spacing="0.25">25</text>
<text x="245.9" y="255.09" font-family="'Liberation Serif','Noto Serif CJK SC',serif" font-size="6" text-anchor="end" fill="#333" letter-spacing="0.25">30</text>
<text x="245.9" y="233.50" font-family="'Liberation Serif','Noto Serif CJK SC',serif" font-size="6" text-anchor="end" fill="#333" letter-spacing="0.25">35</text>
<text x="249.55" y="391.7" font-family="'Liberation Serif','Noto Serif CJK SC',serif" font-size="6" text-anchor="middle" fill="#333" letter-spacing="0.25">0</text>
<text x="294.85" y="391.7" font-family="'Liberation Serif','Noto Serif CJK SC',serif" font-size="6" text-anchor="middle" fill="#333" letter-spacing="0.25">2</text>
<text x="340.15" y="391.7" font-family="'Liberation Serif','Noto Serif CJK SC',serif" font-size="6" text-anchor="middle" fill="#333" letter-spacing="0.25">4</text>
<text x="385.45" y="391.7" font-family="'Liberation Serif','Noto Serif CJK SC',serif" font-size="6" text-anchor="middle" fill="#333" letter-spacing="0.25">6</text>
<text x="430.75" y="391.7" font-family="'Liberation Serif','Noto Serif CJK SC',serif" font-size="6" text-anchor="middle" fill="#333" letter-spacing="0.25">8</text>
<path d="M249.4,382.60 h-1.8 M249.4,361.01 h-1.8 M249.4,339.43 h-1.8 M249.4,317.84 h-1.8 M249.4,296.26 h-1.8 M249.4,274.67 h-1.8 M249.4,253.09 h-1.8 M249.4,231.50 h-1.8 M249.4,371.81 h-1 M249.4,350.22 h-1 M249.4,328.64 h-1 M249.4,307.05 h-1 M249.4,285.46 h-1 M249.4,263.88 h-1 M249.4,242.29 h-1 M249.40,382.6 v1.8 M294.70,382.6 v1.8 M340.00,382.6 v1.8 M385.30,382.6 v1.8 M430.60,382.6 v1.8 M272.05,382.6 v1 M317.35,382.6 v1 M362.65,382.6 v1 M407.95,382.6 v1 " fill="none" stroke="#555" stroke-width="0.5"/>
<text x="334.0" y="400.8" font-family="'Liberation Serif','Noto Serif CJK SC',serif" font-size="6.6" fill="#333" textLength="34" lengthAdjust="spacing">Slope (° )</text>
<text x="342.6" y="410.8" font-family="'Liberation Serif','Noto Serif CJK SC',serif" font-size="7" text-anchor="middle" fill="#333">b</text>
<text transform="translate(238.3,338.5) rotate(-90)" font-family="'Liberation Serif','Noto Serif CJK SC',serif" font-size="6.6" fill="#333" textLength="63" lengthAdjust="spacing">Number of villages</text>
</g>
<g id="hist2">
<rect x="481.10" y="297.98" width="27.50" height="84.62" fill="#7ab3a4" stroke="#e98b85" stroke-width="0.55"/>
<text x="494.7" y="297.3" font-family="'Liberation Serif','Noto Serif CJK SC',serif" font-size="8" text-anchor="middle" fill="#222">14</text>
<rect x="510.10" y="261.72" width="27.50" height="120.88" fill="#7ab3a4" stroke="#e98b85" stroke-width="0.55"/>
<text x="523.7" y="261.0" font-family="'Liberation Serif','Noto Serif CJK SC',serif" font-size="8" text-anchor="middle" fill="#222">20</text>
<rect x="539.10" y="304.03" width="27.50" height="78.57" fill="#7ab3a4" stroke="#e98b85" stroke-width="0.55"/>
<text x="552.7" y="303.3" font-family="'Liberation Serif','Noto Serif CJK SC',serif" font-size="8" text-anchor="middle" fill="#222">13</text>
<rect x="568.10" y="304.03" width="27.50" height="78.57" fill="#7ab3a4" stroke="#e98b85" stroke-width="0.55"/>
<text x="581.7" y="303.3" font-family="'Liberation Serif','Noto Serif CJK SC',serif" font-size="8" text-anchor="middle" fill="#222">13</text>
<rect x="597.10" y="249.63" width="27.50" height="132.97" fill="#7ab3a4" stroke="#e98b85" stroke-width="0.55"/>
<text x="610.7" y="248.9" font-family="'Liberation Serif','Noto Serif CJK SC',serif" font-size="8" text-anchor="middle" fill="#222">22</text>
<rect x="626.10" y="267.76" width="27.50" height="114.84" fill="#7ab3a4" stroke="#e98b85" stroke-width="0.55"/>
<text x="639.7" y="267.1" font-family="'Liberation Serif','Noto Serif CJK SC',serif" font-size="8" text-anchor="middle" fill="#222">19</text>
<rect x="655.10" y="346.34" width="27.50" height="36.26" fill="#7ab3a4" stroke="#e98b85" stroke-width="0.55"/>
<text x="668.7" y="345.6" font-family="'Liberation Serif','Noto Serif CJK SC',serif" font-size="8" text-anchor="middle" fill="#222">6</text>
<path d="M480.4,231.5 V382.6 H683.0" fill="none" stroke="#555" stroke-width="0.8"/>
<path d="M480.2,232.1 H683.0" fill="none" stroke="#c8c8c8" stroke-width="1.8"/>
<path d="M682.7,231.5 V382.6" fill="none" stroke="#c8c8c8" stroke-width="1.5"/>
<text x="476.9" y="384.60" font-family="'Liberation Serif','Noto Serif CJK SC',serif" font-size="6" text-anchor="end" fill="#333" letter-spacing="0.25">0</text>
<text x="476.9" y="354.38" font-family="'Liberation Serif','Noto Serif CJK SC',serif" font-size="6" text-anchor="end" fill="#333" letter-spacing="0.25">5</text>
<text x="476.9" y="324.16" font-family="'Liberation Serif','Noto Serif CJK SC',serif" font-size="6" text-anchor="end" fill="#333" letter-spacing="0.25">10</text>
<text x="476.9" y="293.94" font-family="'Liberation Serif','Noto Serif CJK SC',serif" font-size="6" text-anchor="end" fill="#333" letter-spacing="0.25">15</text>
<text x="476.9" y="263.72" font-family="'Liberation Serif','Noto Serif CJK SC',serif" font-size="6" text-anchor="end" fill="#333" letter-spacing="0.25">20</text>
<text x="476.9" y="233.50" font-family="'Liberation Serif','Noto Serif CJK SC',serif" font-size="6" text-anchor="end" fill="#333" letter-spacing="0.25">25</text>
<text x="494.85" y="389.5" font-family="'Liberation Serif','Noto Serif CJK SC',serif" font-size="6" text-anchor="middle" fill="#333" letter-spacing="0.25">0</text>
<text x="523.85" y="389.5" font-family="'Liberation Serif','Noto Serif CJK SC',serif" font-size="6" text-anchor="middle" fill="#333" letter-spacing="0.25">50</text>
<text x="552.85" y="389.5" font-family="'Liberation Serif','Noto Serif CJK SC',serif" font-size="6" text-anchor="middle" fill="#333" letter-spacing="0.25">100</text>
<text x="581.85" y="389.5" font-family="'Liberation Serif','Noto Serif CJK SC',serif" font-size="6" text-anchor="middle" fill="#333" letter-spacing="0.25">150</text>
<text x="610.85" y="389.5" font-family="'Liberation Serif','Noto Serif CJK SC',serif" font-size="6" text-anchor="middle" fill="#333" letter-spacing="0.25">200</text>
<text x="639.85" y="389.5" font-family="'Liberation Serif','Noto Serif CJK SC',serif" font-size="6" text-anchor="middle" fill="#333" letter-spacing="0.25">250</text>
<text x="668.85" y="389.5" font-family="'Liberation Serif','Noto Serif CJK SC',serif" font-size="6" text-anchor="middle" fill="#333" letter-spacing="0.25">300</text>
<path d="M480.2,382.60 h-1.8 M480.2,352.38 h-1.8 M480.2,322.16 h-1.8 M480.2,291.94 h-1.8 M480.2,261.72 h-1.8 M480.2,231.50 h-1.8 M480.2,367.49 h-1 M480.2,337.27 h-1 M480.2,307.05 h-1 M480.2,276.83 h-1 M480.2,246.61 h-1 M494.70,382.6 v1.8 M523.70,382.6 v1.8 M552.70,382.6 v1.8 M581.70,382.6 v1.8 M610.70,382.6 v1.8 M639.70,382.6 v1.8 M668.70,382.6 v1.8 M509.20,382.6 v1 M538.20,382.6 v1 M567.20,382.6 v1 M596.20,382.6 v1 M625.20,382.6 v1 M654.20,382.6 v1 " fill="none" stroke="#555" stroke-width="0.5"/>
<text x="563.0" y="398.2" font-family="'Liberation Serif','Noto Serif CJK SC',serif" font-size="6.6" fill="#333" textLength="37.4" lengthAdjust="spacing">Aspect (° )</text>
<text x="572.6" y="410.8" font-family="'Liberation Serif','Noto Serif CJK SC',serif" font-size="7" text-anchor="middle" fill="#333">c</text>
<text transform="translate(469.3,338.5) rotate(-90)" font-family="'Liberation Serif','Noto Serif CJK SC',serif" font-size="6.6" fill="#333" textLength="63" lengthAdjust="spacing">Number of villages</text>
</g>
</svg>
</body>
</html>
